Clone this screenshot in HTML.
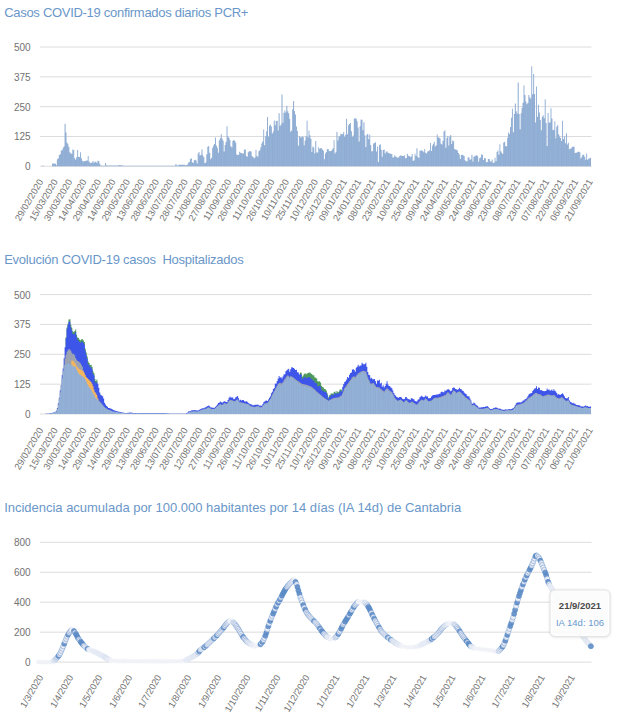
<!DOCTYPE html><html><head><meta charset="utf-8"><title>COVID-19 Cantabria</title>
<style>html,body{margin:0;padding:0;background:#fff;}body{width:621px;height:720px;overflow:hidden;font-family:"Liberation Sans", sans-serif;}svg{display:block;}text{font-family:"Liberation Sans", sans-serif;}</style>
</head><body>
<svg width="621" height="720" viewBox="0 0 621 720">
<rect width="621" height="720" fill="#ffffff"/>
<text x="4.2" y="16.6" font-size="13" fill="#6a97c9" textLength="244.2" lengthAdjust="spacing" xml:space="preserve">Casos COVID-19 confirmados diarios PCR+</text>
<line x1="40" x2="591.5" y1="47.00" y2="47.00" stroke="#dcdcdc" stroke-width="1"/>
<text x="30.6" y="50.90" font-size="10" fill="#727272" text-anchor="end">500</text>
<line x1="40" x2="591.5" y1="76.83" y2="76.83" stroke="#dcdcdc" stroke-width="1"/>
<text x="30.6" y="80.73" font-size="10" fill="#727272" text-anchor="end">375</text>
<line x1="40" x2="591.5" y1="106.65" y2="106.65" stroke="#dcdcdc" stroke-width="1"/>
<text x="30.6" y="110.55" font-size="10" fill="#727272" text-anchor="end">250</text>
<line x1="40" x2="591.5" y1="136.48" y2="136.48" stroke="#dcdcdc" stroke-width="1"/>
<text x="30.6" y="140.38" font-size="10" fill="#727272" text-anchor="end">125</text>
<line x1="40" x2="591.5" y1="166.30" y2="166.30" stroke="#dcdcdc" stroke-width="1"/>
<text x="30.6" y="170.20" font-size="10" fill="#727272" text-anchor="end">0</text>
<path d="M40.50 166.30V166.30H41.46V166.30H42.43V165.35H43.39V166.30H44.36V166.30H45.32V166.30H46.28V166.30H47.25V166.30H48.21V166.30H49.18V166.30H50.14V166.30H51.11V166.17H52.07V163.61H53.03V163.44H54.00V163.44H54.96V163.84H55.93V165.26H56.89V159.26H57.85V158.34H58.82V155.09H59.78V154.32H60.75V150.69H61.71V149.97H62.67V147.72H63.64V146.30H64.60V123.87H65.57V132.49H66.53V142.54H67.49V144.32H68.46V146.93H69.42V152.30H70.39V153.53H71.35V153.70H72.32V149.42H73.28V150.07H74.24V158.21H75.21V159.66H76.17V157.36H77.14V149.90H78.10V156.71H79.06V157.11H80.03V152.32H80.99V158.31H81.96V160.69H82.92V161.50H83.88V161.13H84.85V160.99H85.81V160.57H86.78V160.57H87.74V155.99H88.70V161.49H89.67V163.18H90.63V162.77H91.60V162.46H92.56V161.08H93.53V162.79H94.49V161.80H95.45V161.69H96.42V162.88H97.38V160.68H98.35V161.02H99.31V163.68H100.27V165.42H101.24V165.60H102.20V165.63H103.17V165.80H104.13V165.72H105.09V163.08H106.06V165.52H107.02V165.58H107.99V165.58H108.95V165.58H109.92V165.58H110.88V165.58H111.84V165.58H112.81V165.58H113.77V165.58H114.74V165.58H115.70V165.58H116.66V165.58H117.63V165.56H118.59V165.11H119.56V165.16H120.52V165.20H121.48V165.25H122.45V165.72H123.41V165.77H124.38V165.82H125.34V165.82H126.30V165.82H127.27V165.82H128.23V165.82H129.20V165.82H130.16V165.82H131.13V165.82H132.09V165.82H133.05V165.82H134.02V165.82H134.98V165.82H135.95V165.82H136.91V165.82H137.87V165.82H138.84V165.82H139.80V165.82H140.77V165.82H141.73V165.82H142.69V165.82H143.66V165.82H144.62V165.82H145.59V165.82H146.55V165.82H147.51V165.82H148.48V165.82H149.44V165.82H150.41V165.82H151.37V165.82H152.34V165.82H153.30V165.82H154.26V165.82H155.23V165.82H156.19V165.82H157.16V165.82H158.12V165.82H159.08V165.82H160.05V165.82H161.01V165.82H161.98V165.82H162.94V165.82H163.90V165.82H164.87V165.82H165.83V165.82H166.80V165.82H167.76V165.82H168.73V165.82H169.69V165.82H170.65V165.82H171.62V165.82H172.58V165.82H173.55V165.82H174.51V165.82H175.47V163.95H176.44V165.53H177.40V165.47H178.37V164.78H179.33V164.65H180.29V164.63H181.26V164.63H182.22V164.63H183.19V164.63H184.15V164.75H185.11V165.33H186.08V164.89H187.04V164.49H188.01V162.48H188.97V161.95H189.94V158.89H190.90V158.26H191.86V162.32H192.83V163.02H193.79V160.32H194.76V159.77H195.72V160.42H196.68V163.47H197.65V153.56H198.61V152.04H199.58V155.46H200.54V154.80H201.50V149.38H202.47V155.56H203.43V157.32H204.40V163.34H205.36V162.38H206.32V154.35H207.29V146.73H208.25V145.98H209.22V152.81H210.18V159.18H211.15V157.64H212.11V147.63H213.07V145.59H214.04V144.10H215.00V137.40H215.97V145.62H216.93V147.86H217.89V152.73H218.86V140.26H219.82V138.14H220.79V134.13H221.75V138.78H222.71V140.75H223.68V151.45H224.64V144.94H225.61V141.73H226.57V126.17H227.54V136.51H228.50V137.70H229.46V140.04H230.43V146.29H231.39V147.54H232.36V140.92H233.32V139.90H234.28V140.66H235.25V142.57H236.21V154.39H237.18V154.99H238.14V154.65H239.10V151.78H240.07V152.85H241.03V153.02H242.00V153.57H242.96V153.40H243.92V149.51H244.89V149.48H245.85V155.92H246.82V156.70H247.78V152.30H248.75V151.34H249.71V151.27H250.67V151.45H251.64V155.99H252.60V157.03H253.57V158.46H254.53V157.43H255.49V149.66H256.46V155.67H257.42V156.67H258.39V151.25H259.35V150.13H260.31V147.37H261.28V143.38H262.24V141.48H263.21V129.60H264.17V145.33H265.13V136.30H266.10V131.28H267.06V116.92H268.03V136.39H268.99V125.68H269.96V124.45H270.92V126.46H271.88V133.52H272.85V131.55H273.81V120.47H274.78V125.28H275.74V121.08H276.70V120.85H277.67V130.42H278.63V113.24H279.60V126.07H280.56V124.62H281.52V94.44H282.49V122.80H283.45V112.71H284.42V110.31H285.38V112.58H286.35V105.64H287.31V111.16H288.27V113.31H289.24V118.63H290.20V131.70H291.17V130.41H292.13V109.24H293.09V100.95H294.06V111.00H295.02V114.46H295.99V126.56H296.95V130.96H297.91V145.75H298.88V136.12H299.84V137.21H300.81V137.56H301.77V136.20H302.73V137.02H303.70V145.24H304.66V140.44H305.63V136.32H306.59V120.75H307.56V137.56H308.52V130.51H309.48V135.32H310.45V138.64H311.41V151.91H312.38V146.49H313.34V147.59H314.30V153.60H315.27V140.97H316.23V152.52H317.20V152.41H318.16V147.34H319.12V148.83H320.09V148.30H321.05V148.25H322.02V149.43H322.98V150.81H323.94V159.19H324.91V153.39H325.87V151.99H326.84V149.34H327.80V149.02H328.77V150.91H329.73V151.21H330.69V150.97H331.66V149.72H332.62V148.22H333.59V140.33H334.55V153.42H335.51V151.65H336.48V131.74H337.44V140.53H338.41V136.78H339.37V135.77H340.33V133.73H341.30V134.20H342.26V134.12H343.23V132.12H344.19V136.66H345.15V134.75H346.12V118.75H347.08V134.13H348.05V125.24H349.01V123.93H349.98V123.12H350.94V131.37H351.90V136.76H352.87V135.41H353.83V118.56H354.80V118.23H355.76V118.69H356.72V121.20H357.69V127.54H358.65V141.58H359.62V126.27H360.58V119.56H361.54V119.67H362.51V130.14H363.47V122.19H364.44V135.60H365.40V146.91H366.37V134.87H367.33V133.71H368.29V139.20H369.26V134.44H370.22V144.96H371.19V151.17H372.15V151.24H373.11V143.62H374.08V142.88H375.04V142.13H376.01V151.54H376.97V146.63H377.93V162.11H378.90V145.34H379.86V144.20H380.83V149.72H381.79V156.85H382.75V150.02H383.72V149.52H384.68V153.56H385.65V151.59H386.61V151.43H387.58V152.84H388.54V153.06H389.50V153.65H390.47V153.65H391.43V154.10H392.40V157.58H393.36V157.26H394.32V155.33H395.29V156.73H396.25V157.05H397.22V157.66H398.18V157.43H399.14V156.04H400.11V155.43H401.07V155.39H402.04V155.99H403.00V155.92H403.96V155.36H404.93V158.17H405.89V158.09H406.86V153.68H407.82V155.68H408.79V156.11H409.75V156.87H410.71V156.75H411.68V153.94H412.64V161.05H413.61V160.17H414.57V153.79H415.53V155.99H416.50V148.23H417.46V156.94H418.43V157.95H419.39V150.85H420.35V150.55H421.32V150.55H422.28V150.85H423.25V152.19H424.21V149.11H425.18V152.86H426.14V153.40H427.10V151.40H428.07V151.13H429.03V150.27H430.00V142.99H430.96V150.95H431.92V145.72H432.89V143.86H433.85V141.77H434.82V146.43H435.78V145.23H436.74V134.52H437.71V137.33H438.67V137.78H439.64V138.54H440.60V143.72H441.56V144.61H442.53V140.74H443.49V131.42H444.46V130.15H445.42V147.70H446.39V137.94H447.35V136.03H448.31V145.44H449.28V136.45H450.24V135.12H451.21V144.02H452.17V140.61H453.13V141.18H454.10V148.90H455.06V149.51H456.03V149.71H456.99V150.50H457.95V153.12H458.92V154.49H459.88V159.06H460.85V155.05H461.81V154.69H462.77V155.26H463.74V156.09H464.70V160.17H465.67V161.58H466.63V161.30H467.60V157.56H468.56V157.26H469.52V159.87H470.49V159.18H471.45V154.70H472.42V161.50H473.38V157.10H474.34V156.00H475.31V155.85H476.27V155.12H477.24V156.29H478.20V161.69H479.16V158.33H480.13V157.48H481.09V154.60H482.06V154.75H483.02V160.09H483.99V158.05H484.95V158.19H485.91V162.14H486.88V162.00H487.84V159.01H488.81V158.98H489.77V161.47H490.73V161.46H491.70V159.45H492.66V162.96H493.63V162.51H494.59V157.79H495.55V161.35H496.52V152.03H497.48V150.29H498.45V154.80H499.41V144.14H500.37V151.37H501.34V152.82H502.30V153.99H503.27V142.41H504.23V141.77H505.20V146.24H506.16V146.21H507.12V137.66H508.09V132.38H509.05V133.96H510.02V127.08H510.98V117.72H511.94V108.86H512.91V132.36H513.87V114.04H514.84V103.41H515.80V111.20H516.76V113.52H517.73V82.51H518.69V113.91H519.66V129.18H520.62V113.16H521.58V107.71H522.55V102.73H523.51V85.49H524.48V95.09H525.44V101.51H526.41V104.35H527.37V103.08H528.33V95.12H529.30V97.26H530.26V98.86H531.23V66.19H532.19V94.16H533.15V73.98H534.12V93.99H535.08V122.51H536.05V86.46H537.01V116.79H537.97V104.70H538.94V112.39H539.90V119.90H540.87V130.36H541.83V116.78H542.80V115.16H543.76V118.34H544.72V99.35H545.69V123.09H546.65V146.11H547.62V112.92H548.58V122.86H549.54V122.20H550.51V108.30H551.47V118.41H552.44V130.16H553.40V129.80H554.36V121.22H555.33V138.35H556.29V126.71H557.26V125.10H558.22V134.33H559.18V136.47H560.15V138.01H561.11V141.12H562.08V120.64H563.04V138.89H564.01V136.34H564.97V143.21H565.93V133.14H566.90V144.57H567.86V142.77H568.83V149.25H569.79V148.73H570.75V148.23H571.72V146.85H572.68V146.73H573.65V146.73H574.61V152.91H575.57V152.83H576.54V152.62H577.50V151.82H578.47V151.75H579.43V152.26H580.39V158.38H581.36V156.84H582.32V154.73H583.29V154.69H584.25V156.81H585.22V159.66H586.18V153.50H587.14V159.67H588.11V158.72H589.07V158.33H590.04V157.71H591.00V166.30Z" fill="#94b1d7"/>
<path d="M52.55 166.30V164.11M55.44 166.30V164.34M57.37 166.30V159.76M60.26 166.30V154.82M62.19 166.30V150.47M65.08 166.30V124.37M67.01 166.30V143.04M69.90 166.30V152.80M71.83 166.30V154.20M74.73 166.30V158.71M76.65 166.30V157.86M79.55 166.30V157.61M81.47 166.30V158.81M84.37 166.30V161.63M86.29 166.30V161.07M89.19 166.30V161.99M91.12 166.30V163.27M94.01 166.30V163.29M95.94 166.30V162.19M98.83 166.30V161.52M105.58 166.30V163.58M175.96 166.30V164.45M180.78 166.30V165.13M182.70 166.30V165.13M187.52 166.30V164.99M190.42 166.30V159.39M192.35 166.30V162.82M195.24 166.30V160.27M197.17 166.30V163.97M200.06 166.30V155.96M201.99 166.30V149.88M204.88 166.30V163.84M206.81 166.30V154.85M209.70 166.30V153.31M211.63 166.30V158.14M214.52 166.30V144.60M216.45 166.30V146.12M219.34 166.30V140.76M221.27 166.30V134.63M224.16 166.30V151.95M226.09 166.30V142.23M228.98 166.30V138.20M230.91 166.30V146.79M233.80 166.30V140.40M235.73 166.30V143.07M238.62 166.30V155.15M240.55 166.30V153.35M243.44 166.30V153.90M245.37 166.30V149.98M248.26 166.30V152.80M250.19 166.30V151.77M253.08 166.30V157.53M255.01 166.30V157.93M257.90 166.30V157.17M259.83 166.30V150.63M262.72 166.30V141.98M264.65 166.30V145.83M267.55 166.30V117.42M269.47 166.30V126.18M272.37 166.30V134.02M274.29 166.30V120.97M277.19 166.30V121.35M279.11 166.30V113.74M282.01 166.30V94.94M283.93 166.30V113.21M286.83 166.30V106.14M288.76 166.30V113.81M291.65 166.30V130.91M293.58 166.30V101.45M296.47 166.30V127.06M298.40 166.30V146.25M301.29 166.30V138.06M303.22 166.30V137.52M306.11 166.30V136.82M308.04 166.30V138.06M310.93 166.30V139.14M312.86 166.30V146.99M315.75 166.30V141.47M317.68 166.30V152.91M320.57 166.30V148.80M322.50 166.30V149.93M325.39 166.30V153.89M327.32 166.30V149.84M330.21 166.30V151.71M332.14 166.30V150.22M335.03 166.30V153.92M336.96 166.30V132.24M339.85 166.30V136.27M341.78 166.30V134.70M344.67 166.30V137.16M346.60 166.30V119.25M349.49 166.30V124.43M351.42 166.30V131.87M354.31 166.30V119.06M356.24 166.30V119.19M359.13 166.30V142.08M361.06 166.30V120.06M363.95 166.30V122.69M365.88 166.30V147.41M368.78 166.30V139.70M370.70 166.30V145.46M373.60 166.30V144.12M375.52 166.30V142.63M378.42 166.30V162.61M380.34 166.30V144.70M383.24 166.30V150.52M385.17 166.30V154.06M388.06 166.30V153.34M389.99 166.30V154.15M392.88 166.30V158.08M394.81 166.30V155.83M397.70 166.30V158.16M399.63 166.30V156.54M402.52 166.30V156.49M404.45 166.30V155.86M407.34 166.30V154.18M409.27 166.30V156.61M412.16 166.30V154.44M414.09 166.30V160.67M416.98 166.30V148.73M418.91 166.30V158.45M421.80 166.30V151.05M423.73 166.30V152.69M426.62 166.30V153.90M428.55 166.30V151.63M431.44 166.30V151.45M433.37 166.30V144.36M436.26 166.30V145.73M438.19 166.30V137.83M441.08 166.30V144.22M443.01 166.30V141.24M445.90 166.30V148.20M447.83 166.30V136.53M450.72 166.30V135.62M452.65 166.30V141.11M455.54 166.30V150.01M457.47 166.30V151.00M460.36 166.30V159.56M462.29 166.30V155.19M465.19 166.30V160.67M467.11 166.30V161.80M470.01 166.30V160.37M471.93 166.30V155.20M474.83 166.30V156.50M476.75 166.30V155.62M479.65 166.30V158.83M481.57 166.30V155.10M484.47 166.30V158.55M486.40 166.30V162.64M489.29 166.30V159.48M491.22 166.30V161.96M494.11 166.30V163.01M496.04 166.30V161.85M498.93 166.30V155.30M500.86 166.30V151.87M503.75 166.30V142.91M505.68 166.30V146.74M508.57 166.30V132.88M510.50 166.30V127.58M513.39 166.30V132.86M515.32 166.30V103.91M518.21 166.30V83.01M520.14 166.30V129.68M523.03 166.30V103.23M524.96 166.30V95.59M527.85 166.30V103.58M529.78 166.30V97.76M532.67 166.30V94.66M534.60 166.30V94.49M537.49 166.30V117.29M539.42 166.30V112.89M542.31 166.30V117.28M544.24 166.30V118.84M547.13 166.30V146.61M549.06 166.30V123.36M551.95 166.30V118.91M553.88 166.30V130.30M556.77 166.30V127.21M558.70 166.30V134.83M561.60 166.30V141.62M563.52 166.30V139.39M566.42 166.30V133.64M568.34 166.30V143.27M571.24 166.30V148.73M573.16 166.30V147.23M576.06 166.30V153.33M577.98 166.30V152.32M580.88 166.30V158.88M582.81 166.30V155.23M585.70 166.30V160.16M587.63 166.30V160.17M590.52 166.30V158.21" stroke="#7c93b8" stroke-opacity="0.30" stroke-width="0.5" fill="none"/>
<text transform="translate(43.58,181.60) rotate(-59.5)" font-size="9.3" fill="#727272" text-anchor="end">29/02/2020</text>
<text transform="translate(58.04,181.60) rotate(-59.5)" font-size="9.3" fill="#727272" text-anchor="end">15/03/2020</text>
<text transform="translate(72.50,181.60) rotate(-59.5)" font-size="9.3" fill="#727272" text-anchor="end">30/03/2020</text>
<text transform="translate(86.97,181.60) rotate(-59.5)" font-size="9.3" fill="#727272" text-anchor="end">14/04/2020</text>
<text transform="translate(101.43,181.60) rotate(-59.5)" font-size="9.3" fill="#727272" text-anchor="end">29/04/2020</text>
<text transform="translate(115.89,181.60) rotate(-59.5)" font-size="9.3" fill="#727272" text-anchor="end">14/05/2020</text>
<text transform="translate(130.35,181.60) rotate(-59.5)" font-size="9.3" fill="#727272" text-anchor="end">29/05/2020</text>
<text transform="translate(144.81,181.60) rotate(-59.5)" font-size="9.3" fill="#727272" text-anchor="end">13/06/2020</text>
<text transform="translate(159.27,181.60) rotate(-59.5)" font-size="9.3" fill="#727272" text-anchor="end">28/06/2020</text>
<text transform="translate(173.74,181.60) rotate(-59.5)" font-size="9.3" fill="#727272" text-anchor="end">13/07/2020</text>
<text transform="translate(188.20,181.60) rotate(-59.5)" font-size="9.3" fill="#727272" text-anchor="end">28/07/2020</text>
<text transform="translate(202.66,181.60) rotate(-59.5)" font-size="9.3" fill="#727272" text-anchor="end">12/08/2020</text>
<text transform="translate(217.12,181.60) rotate(-59.5)" font-size="9.3" fill="#727272" text-anchor="end">27/08/2020</text>
<text transform="translate(231.58,181.60) rotate(-59.5)" font-size="9.3" fill="#727272" text-anchor="end">11/09/2020</text>
<text transform="translate(246.04,181.60) rotate(-59.5)" font-size="9.3" fill="#727272" text-anchor="end">26/09/2020</text>
<text transform="translate(260.50,181.60) rotate(-59.5)" font-size="9.3" fill="#727272" text-anchor="end">11/10/2020</text>
<text transform="translate(274.97,181.60) rotate(-59.5)" font-size="9.3" fill="#727272" text-anchor="end">26/10/2020</text>
<text transform="translate(289.43,181.60) rotate(-59.5)" font-size="9.3" fill="#727272" text-anchor="end">10/11/2020</text>
<text transform="translate(303.89,181.60) rotate(-59.5)" font-size="9.3" fill="#727272" text-anchor="end">25/11/2020</text>
<text transform="translate(318.35,181.60) rotate(-59.5)" font-size="9.3" fill="#727272" text-anchor="end">10/12/2020</text>
<text transform="translate(332.81,181.60) rotate(-59.5)" font-size="9.3" fill="#727272" text-anchor="end">25/12/2020</text>
<text transform="translate(347.27,181.60) rotate(-59.5)" font-size="9.3" fill="#727272" text-anchor="end">09/01/2021</text>
<text transform="translate(361.73,181.60) rotate(-59.5)" font-size="9.3" fill="#727272" text-anchor="end">24/01/2021</text>
<text transform="translate(376.20,181.60) rotate(-59.5)" font-size="9.3" fill="#727272" text-anchor="end">08/02/2021</text>
<text transform="translate(390.66,181.60) rotate(-59.5)" font-size="9.3" fill="#727272" text-anchor="end">23/02/2021</text>
<text transform="translate(405.12,181.60) rotate(-59.5)" font-size="9.3" fill="#727272" text-anchor="end">10/03/2021</text>
<text transform="translate(419.58,181.60) rotate(-59.5)" font-size="9.3" fill="#727272" text-anchor="end">25/03/2021</text>
<text transform="translate(434.04,181.60) rotate(-59.5)" font-size="9.3" fill="#727272" text-anchor="end">09/04/2021</text>
<text transform="translate(448.50,181.60) rotate(-59.5)" font-size="9.3" fill="#727272" text-anchor="end">24/04/2021</text>
<text transform="translate(462.96,181.60) rotate(-59.5)" font-size="9.3" fill="#727272" text-anchor="end">09/05/2021</text>
<text transform="translate(477.43,181.60) rotate(-59.5)" font-size="9.3" fill="#727272" text-anchor="end">24/05/2021</text>
<text transform="translate(491.89,181.60) rotate(-59.5)" font-size="9.3" fill="#727272" text-anchor="end">08/06/2021</text>
<text transform="translate(506.35,181.60) rotate(-59.5)" font-size="9.3" fill="#727272" text-anchor="end">23/06/2021</text>
<text transform="translate(520.81,181.60) rotate(-59.5)" font-size="9.3" fill="#727272" text-anchor="end">08/07/2021</text>
<text transform="translate(535.27,181.60) rotate(-59.5)" font-size="9.3" fill="#727272" text-anchor="end">23/07/2021</text>
<text transform="translate(549.73,181.60) rotate(-59.5)" font-size="9.3" fill="#727272" text-anchor="end">07/08/2021</text>
<text transform="translate(564.20,181.60) rotate(-59.5)" font-size="9.3" fill="#727272" text-anchor="end">22/08/2021</text>
<text transform="translate(578.66,181.60) rotate(-59.5)" font-size="9.3" fill="#727272" text-anchor="end">06/09/2021</text>
<text transform="translate(593.12,181.60) rotate(-59.5)" font-size="9.3" fill="#727272" text-anchor="end">21/09/2021</text>
<text x="4.2" y="264.3" font-size="13" fill="#6a97c9" textLength="239.5" lengthAdjust="spacing" xml:space="preserve">Evolución COVID-19 casos  Hospitalizados</text>
<line x1="40" x2="591.5" y1="294.60" y2="294.60" stroke="#dcdcdc" stroke-width="1"/>
<text x="30.6" y="298.50" font-size="10" fill="#727272" text-anchor="end">500</text>
<line x1="40" x2="591.5" y1="324.45" y2="324.45" stroke="#dcdcdc" stroke-width="1"/>
<text x="30.6" y="328.35" font-size="10" fill="#727272" text-anchor="end">375</text>
<line x1="40" x2="591.5" y1="354.30" y2="354.30" stroke="#dcdcdc" stroke-width="1"/>
<text x="30.6" y="358.20" font-size="10" fill="#727272" text-anchor="end">250</text>
<line x1="40" x2="591.5" y1="384.15" y2="384.15" stroke="#dcdcdc" stroke-width="1"/>
<text x="30.6" y="388.05" font-size="10" fill="#727272" text-anchor="end">125</text>
<line x1="40" x2="591.5" y1="414.00" y2="414.00" stroke="#dcdcdc" stroke-width="1"/>
<text x="30.6" y="417.90" font-size="10" fill="#727272" text-anchor="end">0</text>
<path d="M65.57 414.00V337.14H66.53V414.00ZM66.53 414.00V327.46H67.49V414.00ZM67.49 414.00V323.66H68.46V414.00ZM68.46 414.00V319.54H69.42V414.00ZM69.42 414.00V319.14H70.39V414.00ZM70.39 414.00V324.86H71.35V414.00ZM71.35 414.00V327.82H72.32V414.00ZM72.32 414.00V331.56H73.28V414.00ZM73.28 414.00V331.97H74.24V414.00ZM74.24 414.00V331.06H75.21V414.00ZM75.21 414.00V329.57H76.17V414.00ZM76.17 414.00V334.65H77.14V414.00ZM77.14 414.00V337.40H78.10V414.00ZM78.10 414.00V338.06H79.06V414.00ZM79.06 414.00V339.52H80.03V414.00ZM80.03 414.00V340.35H80.99V414.00ZM80.99 414.00V339.32H81.96V414.00ZM81.96 414.00V339.17H82.92V414.00ZM82.92 414.00V340.26H83.88V414.00ZM83.88 414.00V342.11H84.85V414.00ZM84.85 414.00V348.70H85.81V414.00ZM85.81 414.00V352.61H86.78V414.00ZM86.78 414.00V356.48H87.74V414.00ZM87.74 414.00V361.49H88.70V414.00ZM88.70 414.00V362.92H89.67V414.00ZM89.67 414.00V364.98H90.63V414.00ZM90.63 414.00V364.79H91.60V414.00ZM91.60 414.00V366.69H92.56V414.00ZM92.56 414.00V371.28H93.53V414.00ZM93.53 414.00V373.16H94.49V414.00ZM94.49 414.00V379.01H95.45V414.00ZM95.45 414.00V381.11H96.42V414.00ZM96.42 414.00V379.59H97.38V414.00ZM299.84 414.00V372.45H300.81V414.00ZM300.81 414.00V372.84H301.77V414.00ZM301.77 414.00V376.67H302.73V414.00ZM302.73 414.00V375.49H303.70V414.00ZM303.70 414.00V374.03H304.66V414.00ZM304.66 414.00V373.29H305.63V414.00ZM305.63 414.00V374.33H306.59V414.00ZM306.59 414.00V373.51H307.56V414.00ZM307.56 414.00V373.12H308.52V414.00ZM308.52 414.00V372.41H309.48V414.00ZM309.48 414.00V372.39H310.45V414.00ZM310.45 414.00V373.57H311.41V414.00ZM311.41 414.00V373.91H312.38V414.00ZM312.38 414.00V375.34H313.34V414.00ZM313.34 414.00V375.28H314.30V414.00ZM314.30 414.00V377.22H315.27V414.00ZM315.27 414.00V377.66H316.23V414.00ZM316.23 414.00V378.43H317.20V414.00ZM317.20 414.00V381.33H318.16V414.00ZM318.16 414.00V381.43H319.12V414.00ZM319.12 414.00V381.28H320.09V414.00ZM320.09 414.00V382.55H321.05V414.00ZM321.05 414.00V385.84H322.02V414.00ZM322.02 414.00V387.12H322.98V414.00ZM322.98 414.00V387.45H323.94V414.00ZM323.94 414.00V389.05H324.91V414.00ZM324.91 414.00V389.23H325.87V414.00ZM325.87 414.00V390.46H326.84V414.00ZM326.84 414.00V393.32H327.80V414.00ZM327.80 414.00V397.47H328.77V414.00ZM328.77 414.00V395.38H329.73V414.00ZM329.73 414.00V394.86H330.69V414.00ZM330.69 414.00V393.41H331.66V414.00ZM331.66 414.00V393.19H332.62V414.00ZM332.62 414.00V393.93H333.59V414.00ZM333.59 414.00V392.08H334.55V414.00ZM334.55 414.00V391.58H335.51V414.00ZM335.51 414.00V392.88H336.48V414.00ZM336.48 414.00V391.12H337.44V414.00ZM337.44 414.00V392.18H338.41V414.00ZM338.41 414.00V391.82H339.37V414.00ZM339.37 414.00V389.80H340.33V414.00ZM340.33 414.00V389.26H341.30V414.00ZM341.30 414.00V390.02H342.26V414.00Z" fill="#4e9a5c"/>
<path d="M45.32 414.00V413.86H46.28V414.00ZM46.28 414.00V413.79H47.25V414.00ZM47.25 414.00V413.70H48.21V414.00ZM48.21 414.00V413.64H49.18V414.00ZM49.18 414.00V413.55H50.14V414.00ZM50.14 414.00V413.37H51.11V414.00ZM51.11 414.00V413.11H52.07V414.00ZM52.07 414.00V412.80H53.03V414.00ZM53.03 414.00V412.47H54.00V414.00ZM54.00 414.00V412.31H54.96V414.00ZM54.96 414.00V411.73H55.93V414.00ZM55.93 414.00V410.70H56.89V414.00ZM56.89 414.00V408.01H57.85V414.00ZM57.85 414.00V403.20H58.82V414.00ZM58.82 414.00V397.76H59.78V414.00ZM59.78 414.00V390.31H60.75V414.00ZM60.75 414.00V385.10H61.71V414.00ZM61.71 414.00V374.95H62.67V414.00ZM62.67 414.00V368.52H63.64V414.00ZM63.64 414.00V358.17H64.60V414.00ZM64.60 414.00V347.16H65.57V414.00ZM65.57 414.00V338.33H66.53V414.00ZM66.53 414.00V328.65H67.49V414.00ZM67.49 414.00V324.86H68.46V414.00ZM68.46 414.00V321.93H69.42V414.00ZM69.42 414.00V321.52H70.39V414.00ZM70.39 414.00V327.25H71.35V414.00ZM71.35 414.00V330.20H72.32V414.00ZM72.32 414.00V333.95H73.28V414.00ZM73.28 414.00V334.36H74.24V414.00ZM74.24 414.00V333.45H75.21V414.00ZM75.21 414.00V331.95H76.17V414.00ZM76.17 414.00V337.03H77.14V414.00ZM77.14 414.00V339.78H78.10V414.00ZM78.10 414.00V340.45H79.06V414.00ZM79.06 414.00V341.91H80.03V414.00ZM80.03 414.00V342.74H80.99V414.00ZM80.99 414.00V341.70H81.96V414.00ZM81.96 414.00V341.56H82.92V414.00ZM82.92 414.00V342.65H83.88V414.00ZM83.88 414.00V344.50H84.85V414.00ZM84.85 414.00V351.09H85.81V414.00ZM85.81 414.00V355.00H86.78V414.00ZM86.78 414.00V358.87H87.74V414.00ZM87.74 414.00V363.88H88.70V414.00ZM88.70 414.00V365.30H89.67V414.00ZM89.67 414.00V367.37H90.63V414.00ZM90.63 414.00V367.18H91.60V414.00ZM91.60 414.00V369.08H92.56V414.00ZM92.56 414.00V373.67H93.53V414.00ZM93.53 414.00V375.55H94.49V414.00ZM94.49 414.00V381.40H95.45V414.00ZM95.45 414.00V383.49H96.42V414.00ZM96.42 414.00V381.98H97.38V414.00ZM97.38 414.00V383.71H98.35V414.00ZM98.35 414.00V387.81H99.31V414.00ZM99.31 414.00V392.57H100.27V414.00ZM100.27 414.00V394.63H101.24V414.00ZM101.24 414.00V395.58H102.20V414.00ZM102.20 414.00V396.25H103.17V414.00ZM103.17 414.00V398.54H104.13V414.00ZM104.13 414.00V402.70H105.09V414.00ZM105.09 414.00V404.53H106.06V414.00ZM106.06 414.00V405.94H107.02V414.00ZM107.02 414.00V406.70H107.99V414.00ZM107.99 414.00V407.92H108.95V414.00ZM108.95 414.00V407.99H109.92V414.00ZM109.92 414.00V408.50H110.88V414.00ZM110.88 414.00V408.81H111.84V414.00ZM111.84 414.00V409.35H112.81V414.00ZM112.81 414.00V410.00H113.77V414.00ZM113.77 414.00V410.37H114.74V414.00ZM114.74 414.00V410.65H115.70V414.00ZM115.70 414.00V411.09H116.66V414.00ZM116.66 414.00V411.18H117.63V414.00ZM117.63 414.00V411.49H118.59V414.00ZM118.59 414.00V411.72H119.56V414.00ZM119.56 414.00V411.95H120.52V414.00ZM120.52 414.00V412.04H121.48V414.00ZM121.48 414.00V412.38H122.45V414.00ZM122.45 414.00V412.59H123.41V414.00ZM123.41 414.00V412.79H124.38V414.00ZM124.38 414.00V412.97H125.34V414.00ZM125.34 414.00V413.01H126.30V414.00ZM126.30 414.00V412.88H127.27V414.00ZM127.27 414.00V412.78H128.23V414.00ZM128.23 414.00V412.64H129.20V414.00ZM129.20 414.00V412.55H130.16V414.00ZM130.16 414.00V412.58H131.13V414.00ZM131.13 414.00V412.75H132.09V414.00ZM132.09 414.00V412.82H133.05V414.00ZM133.05 414.00V412.92H134.02V414.00ZM134.02 414.00V412.96H134.98V414.00ZM134.98 414.00V413.01H135.95V414.00ZM135.95 414.00V413.11H136.91V414.00ZM136.91 414.00V413.13H137.87V414.00ZM137.87 414.00V413.15H138.84V414.00ZM138.84 414.00V413.17H139.80V414.00ZM139.80 414.00V413.17H140.77V414.00ZM140.77 414.00V413.16H141.73V414.00ZM141.73 414.00V413.19H142.69V414.00ZM142.69 414.00V413.22H143.66V414.00ZM143.66 414.00V413.19H144.62V414.00ZM144.62 414.00V413.20H145.59V414.00ZM145.59 414.00V413.19H146.55V414.00ZM146.55 414.00V413.16H147.51V414.00ZM147.51 414.00V413.19H148.48V414.00ZM148.48 414.00V413.21H149.44V414.00ZM149.44 414.00V413.20H150.41V414.00ZM150.41 414.00V413.20H151.37V414.00ZM151.37 414.00V413.26H152.34V414.00ZM152.34 414.00V413.19H153.30V414.00ZM153.30 414.00V413.21H154.26V414.00ZM154.26 414.00V413.21H155.23V414.00ZM155.23 414.00V413.22H156.19V414.00ZM156.19 414.00V413.25H157.16V414.00ZM157.16 414.00V413.26H158.12V414.00ZM158.12 414.00V413.28H159.08V414.00ZM159.08 414.00V413.25H160.05V414.00ZM160.05 414.00V413.29H161.01V414.00ZM161.01 414.00V413.30H161.98V414.00ZM161.98 414.00V413.29H162.94V414.00ZM162.94 414.00V413.30H163.90V414.00ZM163.90 414.00V413.29H164.87V414.00ZM164.87 414.00V413.35H165.83V414.00ZM165.83 414.00V413.44H166.80V414.00ZM166.80 414.00V413.52H167.76V414.00ZM167.76 414.00V413.61H168.73V414.00ZM168.73 414.00V413.69H169.69V414.00ZM169.69 414.00V413.77H170.65V414.00ZM170.65 414.00V413.75H171.62V414.00ZM171.62 414.00V413.76H172.58V414.00ZM172.58 414.00V413.77H173.55V414.00ZM173.55 414.00V413.77H174.51V414.00ZM174.51 414.00V413.76H175.47V414.00ZM175.47 414.00V413.76H176.44V414.00ZM176.44 414.00V413.77H177.40V414.00ZM177.40 414.00V413.75H178.37V414.00ZM178.37 414.00V413.75H179.33V414.00ZM179.33 414.00V413.76H180.29V414.00ZM180.29 414.00V413.76H181.26V414.00ZM181.26 414.00V413.77H182.22V414.00ZM182.22 414.00V413.77H183.19V414.00ZM183.19 414.00V413.76H184.15V414.00ZM184.15 414.00V413.77H185.11V414.00ZM185.11 414.00V413.75H186.08V414.00ZM186.08 414.00V413.26H187.04V414.00ZM187.04 414.00V412.42H188.01V414.00ZM188.01 414.00V411.43H188.97V414.00ZM188.97 414.00V411.16H189.94V414.00ZM189.94 414.00V410.91H190.90V414.00ZM190.90 414.00V410.40H191.86V414.00ZM191.86 414.00V410.37H192.83V414.00ZM192.83 414.00V410.22H193.79V414.00ZM193.79 414.00V410.09H194.76V414.00ZM194.76 414.00V410.17H195.72V414.00ZM195.72 414.00V410.27H196.68V414.00ZM196.68 414.00V410.47H197.65V414.00ZM197.65 414.00V410.40H198.61V414.00ZM198.61 414.00V410.01H199.58V414.00ZM199.58 414.00V409.26H200.54V414.00ZM200.54 414.00V408.88H201.50V414.00ZM201.50 414.00V408.31H202.47V414.00ZM202.47 414.00V408.32H203.43V414.00ZM203.43 414.00V408.16H204.40V414.00ZM204.40 414.00V407.56H205.36V414.00ZM205.36 414.00V407.14H206.32V414.00ZM206.32 414.00V406.57H207.29V414.00ZM207.29 414.00V405.95H208.25V414.00ZM208.25 414.00V405.47H209.22V414.00ZM209.22 414.00V406.18H210.18V414.00ZM210.18 414.00V407.19H211.15V414.00ZM211.15 414.00V407.54H212.11V414.00ZM212.11 414.00V407.65H213.07V414.00ZM213.07 414.00V407.86H214.04V414.00ZM214.04 414.00V407.74H215.00V414.00ZM215.00 414.00V406.65H215.97V414.00ZM215.97 414.00V405.73H216.93V414.00ZM216.93 414.00V404.39H217.89V414.00ZM217.89 414.00V403.07H218.86V414.00ZM218.86 414.00V402.58H219.82V414.00ZM219.82 414.00V401.55H220.79V414.00ZM220.79 414.00V402.34H221.75V414.00ZM221.75 414.00V402.70H222.71V414.00ZM222.71 414.00V402.08H223.68V414.00ZM223.68 414.00V401.28H224.64V414.00ZM224.64 414.00V401.57H225.61V414.00ZM225.61 414.00V401.91H226.57V414.00ZM226.57 414.00V402.10H227.54V414.00ZM227.54 414.00V399.97H228.50V414.00ZM228.50 414.00V397.94H229.46V414.00ZM229.46 414.00V396.48H230.43V414.00ZM230.43 414.00V397.41H231.39V414.00ZM231.39 414.00V397.45H232.36V414.00ZM232.36 414.00V397.54H233.32V414.00ZM233.32 414.00V399.15H234.28V414.00ZM234.28 414.00V398.65H235.25V414.00ZM235.25 414.00V397.37H236.21V414.00ZM236.21 414.00V396.67H237.18V414.00ZM237.18 414.00V396.00H238.14V414.00ZM238.14 414.00V398.29H239.10V414.00ZM239.10 414.00V400.38H240.07V414.00ZM240.07 414.00V399.68H241.03V414.00ZM241.03 414.00V400.47H242.00V414.00ZM242.00 414.00V400.01H242.96V414.00ZM242.96 414.00V400.11H243.92V414.00ZM243.92 414.00V401.18H244.89V414.00ZM244.89 414.00V401.49H245.85V414.00ZM245.85 414.00V401.13H246.82V414.00ZM246.82 414.00V401.73H247.78V414.00ZM247.78 414.00V402.74H248.75V414.00ZM248.75 414.00V403.58H249.71V414.00ZM249.71 414.00V404.35H250.67V414.00ZM250.67 414.00V404.35H251.64V414.00ZM251.64 414.00V404.68H252.60V414.00ZM252.60 414.00V405.50H253.57V414.00ZM253.57 414.00V405.11H254.53V414.00ZM254.53 414.00V404.72H255.49V414.00ZM255.49 414.00V404.75H256.46V414.00ZM256.46 414.00V404.78H257.42V414.00ZM257.42 414.00V404.49H258.39V414.00ZM258.39 414.00V405.28H259.35V414.00ZM259.35 414.00V405.78H260.31V414.00ZM260.31 414.00V405.39H261.28V414.00ZM261.28 414.00V405.73H262.24V414.00ZM262.24 414.00V404.24H263.21V414.00ZM263.21 414.00V402.19H264.17V414.00ZM264.17 414.00V401.40H265.13V414.00ZM265.13 414.00V400.68H266.10V414.00ZM266.10 414.00V400.58H267.06V414.00ZM267.06 414.00V401.01H268.03V414.00ZM268.03 414.00V399.41H268.99V414.00ZM268.99 414.00V397.79H269.96V414.00ZM269.96 414.00V396.24H270.92V414.00ZM270.92 414.00V393.28H271.88V414.00ZM271.88 414.00V391.71H272.85V414.00ZM272.85 414.00V389.10H273.81V414.00ZM273.81 414.00V387.92H274.78V414.00ZM274.78 414.00V383.78H275.74V414.00ZM275.74 414.00V383.38H276.70V414.00ZM276.70 414.00V381.00H277.67V414.00ZM277.67 414.00V378.57H278.63V414.00ZM278.63 414.00V375.89H279.60V414.00ZM279.60 414.00V377.84H280.56V414.00ZM280.56 414.00V376.97H281.52V414.00ZM281.52 414.00V378.44H282.49V414.00ZM282.49 414.00V376.45H283.45V414.00ZM283.45 414.00V374.57H284.42V414.00ZM284.42 414.00V374.13H285.38V414.00ZM285.38 414.00V371.26H286.35V414.00ZM286.35 414.00V370.33H287.31V414.00ZM287.31 414.00V369.48H288.27V414.00ZM288.27 414.00V368.78H289.24V414.00ZM289.24 414.00V371.76H290.20V414.00ZM290.20 414.00V369.32H291.17V414.00ZM291.17 414.00V367.23H292.13V414.00ZM292.13 414.00V367.48H293.09V414.00ZM293.09 414.00V368.04H294.06V414.00ZM294.06 414.00V368.82H295.02V414.00ZM295.02 414.00V369.95H295.99V414.00ZM295.99 414.00V369.78H296.95V414.00ZM296.95 414.00V372.33H297.91V414.00ZM297.91 414.00V372.41H298.88V414.00ZM298.88 414.00V374.48H299.84V414.00ZM299.84 414.00V374.02H300.81V414.00ZM300.81 414.00V374.82H301.77V414.00ZM301.77 414.00V379.06H302.73V414.00ZM302.73 414.00V378.27H303.70V414.00ZM303.70 414.00V377.19H304.66V414.00ZM304.66 414.00V376.81H305.63V414.00ZM305.63 414.00V378.18H306.59V414.00ZM306.59 414.00V377.66H307.56V414.00ZM307.56 414.00V377.55H308.52V414.00ZM308.52 414.00V377.08H309.48V414.00ZM309.48 414.00V377.26H310.45V414.00ZM310.45 414.00V378.60H311.41V414.00ZM311.41 414.00V379.06H312.38V414.00ZM312.38 414.00V380.56H313.34V414.00ZM313.34 414.00V380.53H314.30V414.00ZM314.30 414.00V382.46H315.27V414.00ZM315.27 414.00V382.84H316.23V414.00ZM316.23 414.00V383.50H317.20V414.00ZM317.20 414.00V386.27H318.16V414.00ZM318.16 414.00V386.17H319.12V414.00ZM319.12 414.00V385.80H320.09V414.00ZM320.09 414.00V386.81H321.05V414.00ZM321.05 414.00V389.80H322.02V414.00ZM322.02 414.00V390.77H322.98V414.00ZM322.98 414.00V390.75H323.94V414.00ZM323.94 414.00V391.97H324.91V414.00ZM324.91 414.00V391.76H325.87V414.00ZM325.87 414.00V392.59H326.84V414.00ZM326.84 414.00V395.05H327.80V414.00ZM327.80 414.00V399.14H328.77V414.00ZM328.77 414.00V397.06H329.73V414.00ZM329.73 414.00V396.53H330.69V414.00ZM330.69 414.00V395.08H331.66V414.00ZM331.66 414.00V394.86H332.62V414.00ZM332.62 414.00V395.61H333.59V414.00ZM333.59 414.00V393.75H334.55V414.00ZM334.55 414.00V393.25H335.51V414.00ZM335.51 414.00V394.55H336.48V414.00ZM336.48 414.00V392.79H337.44V414.00ZM337.44 414.00V393.85H338.41V414.00ZM338.41 414.00V393.49H339.37V414.00ZM339.37 414.00V391.47H340.33V414.00ZM340.33 414.00V390.93H341.30V414.00ZM341.30 414.00V391.69H342.26V414.00ZM342.26 414.00V386.86H343.23V414.00ZM343.23 414.00V384.09H344.19V414.00ZM344.19 414.00V382.06H345.15V414.00ZM345.15 414.00V381.16H346.12V414.00ZM346.12 414.00V379.54H347.08V414.00ZM347.08 414.00V377.11H348.05V414.00ZM348.05 414.00V377.68H349.01V414.00ZM349.01 414.00V374.69H349.98V414.00ZM349.98 414.00V373.12H350.94V414.00ZM350.94 414.00V372.42H351.90V414.00ZM351.90 414.00V369.62H352.87V414.00ZM352.87 414.00V369.22H353.83V414.00ZM353.83 414.00V370.02H354.80V414.00ZM354.80 414.00V371.78H355.76V414.00ZM355.76 414.00V367.67H356.72V414.00ZM356.72 414.00V366.73H357.69V414.00ZM357.69 414.00V364.70H358.65V414.00ZM358.65 414.00V366.50H359.62V414.00ZM359.62 414.00V365.38H360.58V414.00ZM360.58 414.00V365.38H361.54V414.00ZM361.54 414.00V362.80H362.51V414.00ZM362.51 414.00V363.80H363.47V414.00ZM363.47 414.00V364.50H364.44V414.00ZM364.44 414.00V363.97H365.40V414.00ZM365.40 414.00V362.87H366.37V414.00ZM366.37 414.00V366.63H367.33V414.00ZM367.33 414.00V372.00H368.29V414.00ZM368.29 414.00V374.85H369.26V414.00ZM369.26 414.00V375.19H370.22V414.00ZM370.22 414.00V378.42H371.19V414.00ZM371.19 414.00V377.73H372.15V414.00ZM372.15 414.00V379.16H373.11V414.00ZM373.11 414.00V379.13H374.08V414.00ZM374.08 414.00V378.91H375.04V414.00ZM375.04 414.00V381.25H376.01V414.00ZM376.01 414.00V383.65H376.97V414.00ZM376.97 414.00V380.53H377.93V414.00ZM377.93 414.00V380.76H378.90V414.00ZM378.90 414.00V379.84H379.86V414.00ZM379.86 414.00V383.48H380.83V414.00ZM380.83 414.00V382.86H381.79V414.00ZM381.79 414.00V386.65H382.75V414.00ZM382.75 414.00V385.33H383.72V414.00ZM383.72 414.00V387.38H384.68V414.00ZM384.68 414.00V386.06H385.65V414.00ZM385.65 414.00V383.81H386.61V414.00ZM386.61 414.00V381.37H387.58V414.00ZM387.58 414.00V384.49H388.54V414.00ZM388.54 414.00V386.12H389.50V414.00ZM389.50 414.00V386.21H390.47V414.00ZM390.47 414.00V387.49H391.43V414.00ZM391.43 414.00V388.33H392.40V414.00ZM392.40 414.00V390.42H393.36V414.00ZM393.36 414.00V392.89H394.32V414.00ZM394.32 414.00V394.78H395.29V414.00ZM395.29 414.00V395.81H396.25V414.00ZM396.25 414.00V397.06H397.22V414.00ZM397.22 414.00V397.58H398.18V414.00ZM398.18 414.00V397.79H399.14V414.00ZM399.14 414.00V396.89H400.11V414.00ZM400.11 414.00V396.90H401.07V414.00ZM401.07 414.00V397.45H402.04V414.00ZM402.04 414.00V398.83H403.00V414.00ZM403.00 414.00V399.32H403.96V414.00ZM403.96 414.00V399.09H404.93V414.00ZM404.93 414.00V397.32H405.89V414.00ZM405.89 414.00V396.98H406.86V414.00ZM406.86 414.00V398.47H407.82V414.00ZM407.82 414.00V398.96H408.79V414.00ZM408.79 414.00V399.26H409.75V414.00ZM409.75 414.00V399.95H410.71V414.00ZM410.71 414.00V398.33H411.68V414.00ZM411.68 414.00V398.37H412.64V414.00ZM412.64 414.00V399.11H413.61V414.00ZM413.61 414.00V399.54H414.57V414.00ZM414.57 414.00V401.03H415.53V414.00ZM415.53 414.00V401.34H416.50V414.00ZM416.50 414.00V401.58H417.46V414.00ZM417.46 414.00V399.82H418.43V414.00ZM418.43 414.00V399.32H419.39V414.00ZM419.39 414.00V397.16H420.35V414.00ZM420.35 414.00V396.50H421.32V414.00ZM421.32 414.00V395.85H422.28V414.00ZM422.28 414.00V396.72H423.25V414.00ZM423.25 414.00V397.27H424.21V414.00ZM424.21 414.00V396.73H425.18V414.00ZM425.18 414.00V395.43H426.14V414.00ZM426.14 414.00V396.50H427.10V414.00ZM427.10 414.00V396.42H428.07V414.00ZM428.07 414.00V398.33H429.03V414.00ZM429.03 414.00V398.25H430.00V414.00ZM430.00 414.00V398.07H430.96V414.00ZM430.96 414.00V396.49H431.92V414.00ZM431.92 414.00V395.57H432.89V414.00ZM432.89 414.00V395.03H433.85V414.00ZM433.85 414.00V394.90H434.82V414.00ZM434.82 414.00V394.85H435.78V414.00ZM435.78 414.00V394.67H436.74V414.00ZM436.74 414.00V394.27H437.71V414.00ZM437.71 414.00V394.58H438.67V414.00ZM438.67 414.00V393.68H439.64V414.00ZM439.64 414.00V393.74H440.60V414.00ZM440.60 414.00V391.95H441.56V414.00ZM441.56 414.00V391.58H442.53V414.00ZM442.53 414.00V392.16H443.49V414.00ZM443.49 414.00V392.30H444.46V414.00ZM444.46 414.00V390.13H445.42V414.00ZM445.42 414.00V391.10H446.39V414.00ZM446.39 414.00V389.75H447.35V414.00ZM447.35 414.00V389.36H448.31V414.00ZM448.31 414.00V389.30H449.28V414.00ZM449.28 414.00V390.18H450.24V414.00ZM450.24 414.00V391.22H451.21V414.00ZM451.21 414.00V390.43H452.17V414.00ZM452.17 414.00V387.95H453.13V414.00ZM453.13 414.00V387.59H454.10V414.00ZM454.10 414.00V387.64H455.06V414.00ZM455.06 414.00V389.10H456.03V414.00ZM456.03 414.00V389.32H456.99V414.00ZM456.99 414.00V389.75H457.95V414.00ZM457.95 414.00V389.20H458.92V414.00ZM458.92 414.00V387.84H459.88V414.00ZM459.88 414.00V388.94H460.85V414.00ZM460.85 414.00V389.15H461.81V414.00ZM461.81 414.00V390.41H462.77V414.00ZM462.77 414.00V391.10H463.74V414.00ZM463.74 414.00V392.51H464.70V414.00ZM464.70 414.00V393.61H465.67V414.00ZM465.67 414.00V394.08H466.63V414.00ZM466.63 414.00V395.73H467.60V414.00ZM467.60 414.00V396.55H468.56V414.00ZM468.56 414.00V396.29H469.52V414.00ZM469.52 414.00V398.58H470.49V414.00ZM470.49 414.00V400.48H471.45V414.00ZM471.45 414.00V403.39H472.42V414.00ZM472.42 414.00V403.79H473.38V414.00ZM473.38 414.00V402.47H474.34V414.00ZM474.34 414.00V403.18H475.31V414.00ZM475.31 414.00V404.43H476.27V414.00ZM476.27 414.00V405.30H477.24V414.00ZM477.24 414.00V406.12H478.20V414.00ZM478.20 414.00V407.46H479.16V414.00ZM479.16 414.00V407.47H480.13V414.00ZM480.13 414.00V407.51H481.09V414.00ZM481.09 414.00V407.24H482.06V414.00ZM482.06 414.00V407.20H483.02V414.00ZM483.02 414.00V407.12H483.99V414.00ZM483.99 414.00V407.08H484.95V414.00ZM484.95 414.00V406.55H485.91V414.00ZM485.91 414.00V406.39H486.88V414.00ZM486.88 414.00V406.08H487.84V414.00ZM487.84 414.00V406.98H488.81V414.00ZM488.81 414.00V408.11H489.77V414.00ZM489.77 414.00V409.04H490.73V414.00ZM490.73 414.00V409.08H491.70V414.00ZM491.70 414.00V408.89H492.66V414.00ZM492.66 414.00V408.17H493.63V414.00ZM493.63 414.00V407.99H494.59V414.00ZM494.59 414.00V407.62H495.55V414.00ZM495.55 414.00V407.61H496.52V414.00ZM496.52 414.00V407.82H497.48V414.00ZM497.48 414.00V408.18H498.45V414.00ZM498.45 414.00V408.69H499.41V414.00ZM499.41 414.00V408.57H500.37V414.00ZM500.37 414.00V408.96H501.34V414.00ZM501.34 414.00V409.43H502.30V414.00ZM502.30 414.00V409.77H503.27V414.00ZM503.27 414.00V409.77H504.23V414.00ZM504.23 414.00V409.84H505.20V414.00ZM505.20 414.00V409.37H506.16V414.00ZM506.16 414.00V409.41H507.12V414.00ZM507.12 414.00V409.43H508.09V414.00ZM508.09 414.00V409.34H509.05V414.00ZM509.05 414.00V409.11H510.02V414.00ZM510.02 414.00V409.36H510.98V414.00ZM510.98 414.00V409.11H511.94V414.00ZM511.94 414.00V408.51H512.91V414.00ZM512.91 414.00V407.92H513.87V414.00ZM513.87 414.00V406.73H514.84V414.00ZM514.84 414.00V405.07H515.80V414.00ZM515.80 414.00V403.27H516.76V414.00ZM516.76 414.00V402.38H517.73V414.00ZM517.73 414.00V402.39H518.69V414.00ZM518.69 414.00V402.20H519.66V414.00ZM519.66 414.00V402.62H520.62V414.00ZM520.62 414.00V402.23H521.58V414.00ZM521.58 414.00V401.79H522.55V414.00ZM522.55 414.00V400.59H523.51V414.00ZM523.51 414.00V400.38H524.48V414.00ZM524.48 414.00V399.22H525.44V414.00ZM525.44 414.00V399.03H526.41V414.00ZM526.41 414.00V397.74H527.37V414.00ZM527.37 414.00V396.15H528.33V414.00ZM528.33 414.00V394.46H529.30V414.00ZM529.30 414.00V393.78H530.26V414.00ZM530.26 414.00V393.17H531.23V414.00ZM531.23 414.00V392.94H532.19V414.00ZM532.19 414.00V391.05H533.15V414.00ZM533.15 414.00V389.78H534.12V414.00ZM534.12 414.00V388.53H535.08V414.00ZM535.08 414.00V388.32H536.05V414.00ZM536.05 414.00V386.23H537.01V414.00ZM537.01 414.00V388.98H537.97V414.00ZM537.97 414.00V387.56H538.94V414.00ZM538.94 414.00V387.83H539.90V414.00ZM539.90 414.00V390.28H540.87V414.00ZM540.87 414.00V390.00H541.83V414.00ZM541.83 414.00V390.75H542.80V414.00ZM542.80 414.00V390.88H543.76V414.00ZM543.76 414.00V391.32H544.72V414.00ZM544.72 414.00V391.03H545.69V414.00ZM545.69 414.00V390.66H546.65V414.00ZM546.65 414.00V388.56H547.62V414.00ZM547.62 414.00V390.04H548.58V414.00ZM548.58 414.00V389.19H549.54V414.00ZM549.54 414.00V390.73H550.51V414.00ZM550.51 414.00V390.29H551.47V414.00ZM551.47 414.00V389.42H552.44V414.00ZM552.44 414.00V391.12H553.40V414.00ZM553.40 414.00V389.24H554.36V414.00ZM554.36 414.00V390.65H555.33V414.00ZM555.33 414.00V391.53H556.29V414.00ZM556.29 414.00V393.12H557.26V414.00ZM557.26 414.00V394.70H558.22V414.00ZM558.22 414.00V394.04H559.18V414.00ZM559.18 414.00V394.72H560.15V414.00ZM560.15 414.00V394.75H561.11V414.00ZM561.11 414.00V393.94H562.08V414.00ZM562.08 414.00V393.26H563.04V414.00ZM563.04 414.00V394.60H564.01V414.00ZM564.01 414.00V396.25H564.97V414.00ZM564.97 414.00V397.98H565.93V414.00ZM565.93 414.00V398.37H566.90V414.00ZM566.90 414.00V398.14H567.86V414.00ZM567.86 414.00V397.01H568.83V414.00ZM568.83 414.00V400.27H569.79V414.00ZM569.79 414.00V401.68H570.75V414.00ZM570.75 414.00V402.21H571.72V414.00ZM571.72 414.00V403.37H572.68V414.00ZM572.68 414.00V402.84H573.65V414.00ZM573.65 414.00V403.45H574.61V414.00ZM574.61 414.00V403.67H575.57V414.00ZM575.57 414.00V404.66H576.54V414.00ZM576.54 414.00V404.94H577.50V414.00ZM577.50 414.00V405.24H578.47V414.00ZM578.47 414.00V405.03H579.43V414.00ZM579.43 414.00V405.70H580.39V414.00ZM580.39 414.00V406.21H581.36V414.00ZM581.36 414.00V406.47H582.32V414.00ZM582.32 414.00V406.60H583.29V414.00ZM583.29 414.00V406.39H584.25V414.00ZM584.25 414.00V405.97H585.22V414.00ZM585.22 414.00V405.28H586.18V414.00ZM586.18 414.00V406.14H587.14V414.00ZM587.14 414.00V406.03H588.11V414.00ZM588.11 414.00V406.78H589.07V414.00ZM589.07 414.00V406.77H590.04V414.00ZM590.04 414.00V406.59H591.00V414.00Z" fill="#3e55ea"/>
<path d="M56.89 414.00V409.02H57.85V414.00ZM57.85 414.00V404.50H58.82V414.00ZM58.82 414.00V398.53H59.78V414.00ZM59.78 414.00V392.28H60.75V414.00ZM60.75 414.00V385.32H61.71V414.00ZM61.71 414.00V378.40H62.67V414.00ZM62.67 414.00V371.35H63.64V414.00ZM63.64 414.00V365.25H64.60V414.00ZM64.60 414.00V358.73H65.57V414.00ZM65.57 414.00V354.80H66.53V414.00ZM66.53 414.00V351.70H67.49V414.00ZM67.49 414.00V350.32H68.46V414.00ZM68.46 414.00V348.94H69.42V414.00ZM69.42 414.00V349.41H70.39V414.00ZM70.39 414.00V350.63H71.35V414.00ZM71.35 414.00V352.80H72.32V414.00ZM72.32 414.00V354.17H73.28V414.00ZM73.28 414.00V353.77H74.24V414.00ZM74.24 414.00V355.15H75.21V414.00ZM75.21 414.00V358.03H76.17V414.00ZM76.17 414.00V359.68H77.14V414.00ZM77.14 414.00V361.05H78.10V414.00ZM78.10 414.00V361.59H79.06V414.00ZM79.06 414.00V362.30H80.03V414.00ZM80.03 414.00V363.31H80.99V414.00ZM80.99 414.00V364.94H81.96V414.00ZM81.96 414.00V366.83H82.92V414.00ZM82.92 414.00V370.55H83.88V414.00ZM83.88 414.00V376.79H84.85V414.00ZM84.85 414.00V378.62H85.81V414.00ZM85.81 414.00V380.52H86.78V414.00ZM86.78 414.00V382.41H87.74V414.00ZM87.74 414.00V384.22H88.70V414.00ZM88.70 414.00V385.88H89.67V414.00ZM89.67 414.00V387.09H90.63V414.00ZM90.63 414.00V388.09H91.60V414.00ZM91.60 414.00V389.99H92.56V414.00ZM92.56 414.00V392.00H93.53V414.00ZM93.53 414.00V394.11H94.49V414.00ZM94.49 414.00V395.89H95.45V414.00ZM95.45 414.00V397.31H96.42V414.00ZM96.42 414.00V398.47H97.38V414.00ZM97.38 414.00V399.54H98.35V414.00ZM98.35 414.00V400.59H99.31V414.00ZM99.31 414.00V401.56H100.27V414.00ZM100.27 414.00V402.52H101.24V414.00ZM101.24 414.00V403.70H102.20V414.00ZM102.20 414.00V405.05H103.17V414.00ZM103.17 414.00V406.41H104.13V414.00ZM104.13 414.00V407.22H105.09V414.00ZM105.09 414.00V408.01H106.06V414.00ZM106.06 414.00V408.62H107.02V414.00ZM107.02 414.00V409.23H107.99V414.00ZM107.99 414.00V409.79H108.95V414.00ZM108.95 414.00V410.11H109.92V414.00ZM109.92 414.00V410.43H110.88V414.00ZM110.88 414.00V410.75H111.84V414.00ZM198.61 414.00V410.90H199.58V414.00ZM199.58 414.00V410.48H200.54V414.00ZM200.54 414.00V410.06H201.50V414.00ZM201.50 414.00V409.68H202.47V414.00ZM202.47 414.00V409.47H203.43V414.00ZM203.43 414.00V409.26H204.40V414.00ZM204.40 414.00V409.06H205.36V414.00ZM205.36 414.00V408.80H206.32V414.00ZM206.32 414.00V408.25H207.29V414.00ZM207.29 414.00V407.69H208.25V414.00ZM208.25 414.00V407.30H209.22V414.00ZM209.22 414.00V407.85H210.18V414.00ZM210.18 414.00V408.40H211.15V414.00ZM211.15 414.00V408.88H212.11V414.00ZM212.11 414.00V408.88H213.07V414.00ZM213.07 414.00V408.88H214.04V414.00ZM214.04 414.00V408.78H215.00V414.00ZM215.00 414.00V407.95H215.97V414.00ZM215.97 414.00V407.12H216.93V414.00ZM216.93 414.00V406.28H217.89V414.00ZM217.89 414.00V405.39H218.86V414.00ZM218.86 414.00V404.50H219.82V414.00ZM219.82 414.00V404.11H220.79V414.00ZM220.79 414.00V404.81H221.75V414.00ZM221.75 414.00V405.08H222.71V414.00ZM222.71 414.00V403.97H223.68V414.00ZM223.68 414.00V403.10H224.64V414.00ZM224.64 414.00V403.37H225.61V414.00ZM225.61 414.00V403.63H226.57V414.00ZM226.57 414.00V403.81H227.54V414.00ZM227.54 414.00V402.43H228.50V414.00ZM228.50 414.00V401.04H229.46V414.00ZM229.46 414.00V399.74H230.43V414.00ZM230.43 414.00V400.02H231.39V414.00ZM231.39 414.00V400.29H232.36V414.00ZM232.36 414.00V400.57H233.32V414.00ZM233.32 414.00V401.00H234.28V414.00ZM234.28 414.00V401.34H235.25V414.00ZM235.25 414.00V400.58H236.21V414.00ZM236.21 414.00V399.82H237.18V414.00ZM237.18 414.00V399.20H238.14V414.00ZM238.14 414.00V400.78H239.10V414.00ZM239.10 414.00V402.24H240.07V414.00ZM240.07 414.00V402.37H241.03V414.00ZM241.03 414.00V402.51H242.00V414.00ZM242.00 414.00V402.66H242.96V414.00ZM242.96 414.00V402.94H243.92V414.00ZM243.92 414.00V403.22H244.89V414.00ZM244.89 414.00V403.49H245.85V414.00ZM245.85 414.00V403.77H246.82V414.00ZM246.82 414.00V404.05H247.78V414.00ZM247.78 414.00V404.35H248.75V414.00ZM248.75 414.00V405.07H249.71V414.00ZM249.71 414.00V405.78H250.67V414.00ZM250.67 414.00V406.42H251.64V414.00ZM251.64 414.00V406.62H252.60V414.00ZM252.60 414.00V406.82H253.57V414.00ZM253.57 414.00V407.00H254.53V414.00ZM254.53 414.00V406.78H255.49V414.00ZM255.49 414.00V406.56H256.46V414.00ZM256.46 414.00V406.35H257.42V414.00ZM257.42 414.00V406.25H258.39V414.00ZM258.39 414.00V406.61H259.35V414.00ZM259.35 414.00V406.97H260.31V414.00ZM260.31 414.00V407.33H261.28V414.00ZM261.28 414.00V407.40H262.24V414.00ZM262.24 414.00V406.02H263.21V414.00ZM263.21 414.00V404.64H264.17V414.00ZM264.17 414.00V403.45H265.13V414.00ZM265.13 414.00V403.31H266.10V414.00ZM266.10 414.00V403.17H267.06V414.00ZM267.06 414.00V402.85H268.03V414.00ZM268.03 414.00V401.46H268.99V414.00ZM268.99 414.00V400.08H269.96V414.00ZM269.96 414.00V398.63H270.92V414.00ZM270.92 414.00V396.60H271.88V414.00ZM271.88 414.00V394.59H272.85V414.00ZM272.85 414.00V392.63H273.81V414.00ZM273.81 414.00V390.91H274.78V414.00ZM274.78 414.00V389.19H275.74V414.00ZM275.74 414.00V387.45H276.70V414.00ZM276.70 414.00V385.64H277.67V414.00ZM277.67 414.00V384.12H278.63V414.00ZM278.63 414.00V382.95H279.60V414.00ZM279.60 414.00V382.87H280.56V414.00ZM280.56 414.00V383.30H281.52V414.00ZM281.52 414.00V383.54H282.49V414.00ZM282.49 414.00V381.95H283.45V414.00ZM283.45 414.00V380.37H284.42V414.00ZM284.42 414.00V378.81H285.38V414.00ZM285.38 414.00V377.43H286.35V414.00ZM286.35 414.00V376.18H287.31V414.00ZM287.31 414.00V375.34H288.27V414.00ZM288.27 414.00V376.22H289.24V414.00ZM289.24 414.00V377.21H290.20V414.00ZM290.20 414.00V376.06H291.17V414.00ZM291.17 414.00V376.38H292.13V414.00ZM292.13 414.00V377.09H293.09V414.00ZM293.09 414.00V377.79H294.06V414.00ZM294.06 414.00V378.50H295.02V414.00ZM295.02 414.00V379.21H295.99V414.00ZM295.99 414.00V379.92H296.95V414.00ZM296.95 414.00V380.63H297.91V414.00ZM297.91 414.00V381.34H298.88V414.00ZM298.88 414.00V382.04H299.84V414.00ZM299.84 414.00V382.68H300.81V414.00ZM300.81 414.00V383.31H301.77V414.00ZM301.77 414.00V383.92H302.73V414.00ZM302.73 414.00V384.12H303.70V414.00ZM303.70 414.00V384.33H304.66V414.00ZM304.66 414.00V384.53H305.63V414.00ZM305.63 414.00V384.73H306.59V414.00ZM306.59 414.00V384.94H307.56V414.00ZM307.56 414.00V385.35H308.52V414.00ZM308.52 414.00V385.75H309.48V414.00ZM309.48 414.00V386.15H310.45V414.00ZM310.45 414.00V386.56H311.41V414.00ZM311.41 414.00V387.01H312.38V414.00ZM312.38 414.00V387.88H313.34V414.00ZM313.34 414.00V388.76H314.30V414.00ZM314.30 414.00V389.63H315.27V414.00ZM315.27 414.00V390.51H316.23V414.00ZM316.23 414.00V391.38H317.20V414.00ZM317.20 414.00V392.25H318.16V414.00ZM318.16 414.00V393.09H319.12V414.00ZM319.12 414.00V393.92H320.09V414.00ZM320.09 414.00V394.75H321.05V414.00ZM321.05 414.00V395.59H322.02V414.00ZM322.02 414.00V396.42H322.98V414.00ZM322.98 414.00V397.25H323.94V414.00ZM323.94 414.00V397.94H324.91V414.00ZM324.91 414.00V398.63H325.87V414.00ZM325.87 414.00V399.32H326.84V414.00ZM326.84 414.00V400.01H327.80V414.00ZM327.80 414.00V400.70H328.77V414.00ZM328.77 414.00V400.21H329.73V414.00ZM329.73 414.00V399.69H330.69V414.00ZM330.69 414.00V399.18H331.66V414.00ZM331.66 414.00V398.66H332.62V414.00ZM332.62 414.00V398.19H333.59V414.00ZM333.59 414.00V398.02H334.55V414.00ZM334.55 414.00V397.86H335.51V414.00ZM335.51 414.00V397.69H336.48V414.00ZM336.48 414.00V397.53H337.44V414.00ZM337.44 414.00V397.37H338.41V414.00ZM338.41 414.00V397.20H339.37V414.00ZM339.37 414.00V396.54H340.33V414.00ZM340.33 414.00V395.87H341.30V414.00ZM341.30 414.00V395.21H342.26V414.00ZM342.26 414.00V392.83H343.23V414.00ZM343.23 414.00V390.41H344.19V414.00ZM344.19 414.00V387.99H345.15V414.00ZM345.15 414.00V386.63H346.12V414.00ZM346.12 414.00V385.29H347.08V414.00ZM347.08 414.00V383.96H348.05V414.00ZM348.05 414.00V382.62H349.01V414.00ZM349.01 414.00V381.27H349.98V414.00ZM349.98 414.00V379.93H350.94V414.00ZM350.94 414.00V378.59H351.90V414.00ZM351.90 414.00V377.24H352.87V414.00ZM352.87 414.00V376.44H353.83V414.00ZM353.83 414.00V376.57H354.80V414.00ZM354.80 414.00V376.96H355.76V414.00ZM355.76 414.00V375.75H356.72V414.00ZM356.72 414.00V374.50H357.69V414.00ZM357.69 414.00V373.24H358.65V414.00ZM358.65 414.00V372.68H359.62V414.00ZM359.62 414.00V372.13H360.58V414.00ZM360.58 414.00V371.60H361.54V414.00ZM361.54 414.00V371.21H362.51V414.00ZM362.51 414.00V370.83H363.47V414.00ZM363.47 414.00V371.08H364.44V414.00ZM364.44 414.00V371.33H365.40V414.00ZM365.40 414.00V371.59H366.37V414.00ZM366.37 414.00V374.48H367.33V414.00ZM367.33 414.00V377.61H368.29V414.00ZM368.29 414.00V379.72H369.26V414.00ZM369.26 414.00V381.83H370.22V414.00ZM370.22 414.00V383.68H371.19V414.00ZM371.19 414.00V383.42H372.15V414.00ZM372.15 414.00V383.16H373.11V414.00ZM373.11 414.00V383.05H374.08V414.00ZM374.08 414.00V384.39H375.04V414.00ZM375.04 414.00V385.77H376.01V414.00ZM376.01 414.00V386.98H376.97V414.00ZM376.97 414.00V387.10H377.93V414.00ZM377.93 414.00V387.27H378.90V414.00ZM378.90 414.00V387.50H379.86V414.00ZM379.86 414.00V388.42H380.83V414.00ZM380.83 414.00V389.33H381.79V414.00ZM381.79 414.00V390.23H382.75V414.00ZM382.75 414.00V390.83H383.72V414.00ZM383.72 414.00V391.43H384.68V414.00ZM384.68 414.00V390.22H385.65V414.00ZM385.65 414.00V389.01H386.61V414.00ZM386.61 414.00V388.02H387.58V414.00ZM387.58 414.00V388.98H388.54V414.00ZM388.54 414.00V389.95H389.50V414.00ZM389.50 414.00V390.92H390.47V414.00ZM390.47 414.00V391.43H391.43V414.00ZM391.43 414.00V391.96H392.40V414.00ZM392.40 414.00V393.96H393.36V414.00ZM393.36 414.00V395.96H394.32V414.00ZM394.32 414.00V397.96H395.29V414.00ZM395.29 414.00V398.96H396.25V414.00ZM396.25 414.00V399.96H397.22V414.00ZM397.22 414.00V400.96H398.18V414.00ZM398.18 414.00V400.46H399.14V414.00ZM399.14 414.00V399.96H400.11V414.00ZM400.11 414.00V399.46H401.07V414.00ZM401.07 414.00V400.28H402.04V414.00ZM402.04 414.00V401.12H403.00V414.00ZM403.00 414.00V401.95H403.96V414.00ZM403.96 414.00V401.39H404.93V414.00ZM404.93 414.00V400.81H405.89V414.00ZM405.89 414.00V400.22H406.86V414.00ZM406.86 414.00V401.10H407.82V414.00ZM407.82 414.00V402.02H408.79V414.00ZM408.79 414.00V402.94H409.75V414.00ZM409.75 414.00V402.48H410.71V414.00ZM410.71 414.00V401.98H411.68V414.00ZM411.68 414.00V401.48H412.64V414.00ZM412.64 414.00V402.21H413.61V414.00ZM413.61 414.00V402.98H414.57V414.00ZM414.57 414.00V403.75H415.53V414.00ZM415.53 414.00V404.23H416.50V414.00ZM416.50 414.00V404.71H417.46V414.00ZM417.46 414.00V403.54H418.43V414.00ZM418.43 414.00V402.33H419.39V414.00ZM419.39 414.00V401.12H420.35V414.00ZM420.35 414.00V400.26H421.32V414.00ZM421.32 414.00V399.46H422.28V414.00ZM422.28 414.00V399.94H423.25V414.00ZM423.25 414.00V400.42H424.21V414.00ZM424.21 414.00V399.40H425.18V414.00ZM425.18 414.00V398.25H426.14V414.00ZM426.14 414.00V399.16H427.10V414.00ZM427.10 414.00V400.16H428.07V414.00ZM428.07 414.00V401.16H429.03V414.00ZM429.03 414.00V400.98H430.00V414.00ZM430.00 414.00V400.73H430.96V414.00ZM430.96 414.00V400.48H431.92V414.00ZM431.92 414.00V399.68H432.89V414.00ZM432.89 414.00V398.84H433.85V414.00ZM433.85 414.00V398.01H434.82V414.00ZM434.82 414.00V397.87H435.78V414.00ZM435.78 414.00V397.79H436.74V414.00ZM436.74 414.00V397.71H437.71V414.00ZM437.71 414.00V397.47H438.67V414.00ZM438.67 414.00V397.22H439.64V414.00ZM439.64 414.00V396.97H440.60V414.00ZM440.60 414.00V396.63H441.56V414.00ZM441.56 414.00V396.29H442.53V414.00ZM442.53 414.00V395.94H443.49V414.00ZM443.49 414.00V395.46H444.46V414.00ZM444.46 414.00V394.97H445.42V414.00ZM445.42 414.00V394.49H446.39V414.00ZM446.39 414.00V393.30H447.35V414.00ZM447.35 414.00V392.03H448.31V414.00ZM448.31 414.00V392.86H449.28V414.00ZM449.28 414.00V393.86H450.24V414.00ZM450.24 414.00V394.86H451.21V414.00ZM451.21 414.00V393.41H452.17V414.00ZM452.17 414.00V391.81H453.13V414.00ZM453.13 414.00V390.28H454.10V414.00ZM454.10 414.00V390.97H455.06V414.00ZM455.06 414.00V391.87H456.03V414.00ZM456.03 414.00V392.77H456.99V414.00ZM456.99 414.00V392.36H457.95V414.00ZM457.95 414.00V391.80H458.92V414.00ZM458.92 414.00V391.25H459.88V414.00ZM459.88 414.00V392.06H460.85V414.00ZM460.85 414.00V393.03H461.81V414.00ZM461.81 414.00V394.00H462.77V414.00ZM462.77 414.00V395.03H463.74V414.00ZM463.74 414.00V396.07H464.70V414.00ZM464.70 414.00V397.10H465.67V414.00ZM465.67 414.00V397.78H466.63V414.00ZM466.63 414.00V398.40H467.60V414.00ZM467.60 414.00V399.02H468.56V414.00ZM468.56 414.00V399.78H469.52V414.00ZM469.52 414.00V400.57H470.49V414.00ZM470.49 414.00V402.98H471.45V414.00ZM471.45 414.00V405.39H472.42V414.00ZM472.42 414.00V405.18H473.38V414.00ZM473.38 414.00V404.78H474.34V414.00ZM474.34 414.00V405.43H475.31V414.00ZM475.31 414.00V406.26H476.27V414.00ZM476.27 414.00V407.09H477.24V414.00ZM477.24 414.00V407.85H478.20V414.00ZM478.20 414.00V408.58H479.16V414.00ZM479.16 414.00V408.82H480.13V414.00ZM480.13 414.00V408.85H481.09V414.00ZM481.09 414.00V408.80H482.06V414.00ZM482.06 414.00V408.75H483.02V414.00ZM483.02 414.00V408.70H483.99V414.00ZM483.99 414.00V408.52H484.95V414.00ZM484.95 414.00V408.25H485.91V414.00ZM485.91 414.00V407.99H486.88V414.00ZM486.88 414.00V407.73H487.84V414.00ZM487.84 414.00V408.22H488.81V414.00ZM488.81 414.00V409.11H489.77V414.00ZM489.77 414.00V410.01H490.73V414.00ZM490.73 414.00V410.16H491.70V414.00ZM491.70 414.00V409.87H492.66V414.00ZM492.66 414.00V409.58H493.63V414.00ZM493.63 414.00V409.30H494.59V414.00ZM494.59 414.00V409.01H495.55V414.00ZM495.55 414.00V409.00H496.52V414.00ZM496.52 414.00V409.21H497.48V414.00ZM497.48 414.00V409.42H498.45V414.00ZM498.45 414.00V409.63H499.41V414.00ZM499.41 414.00V409.90H500.37V414.00ZM500.37 414.00V410.21H501.34V414.00ZM501.34 414.00V410.52H502.30V414.00ZM502.30 414.00V410.83H503.27V414.00ZM503.27 414.00V410.87H504.23V414.00ZM504.23 414.00V410.71H505.20V414.00ZM505.20 414.00V410.56H506.16V414.00ZM506.16 414.00V410.40H507.12V414.00ZM507.12 414.00V410.34H508.09V414.00ZM508.09 414.00V410.34H509.05V414.00ZM509.05 414.00V410.34H510.02V414.00ZM510.02 414.00V410.34H510.98V414.00ZM510.98 414.00V410.34H511.94V414.00ZM511.94 414.00V409.94H512.91V414.00ZM512.91 414.00V409.20H513.87V414.00ZM513.87 414.00V408.09H514.84V414.00ZM514.84 414.00V406.70H515.80V414.00ZM515.80 414.00V405.32H516.76V414.00ZM516.76 414.00V404.64H517.73V414.00ZM517.73 414.00V404.50H518.69V414.00ZM518.69 414.00V404.36H519.66V414.00ZM519.66 414.00V404.15H520.62V414.00ZM520.62 414.00V403.87H521.58V414.00ZM521.58 414.00V403.60H522.55V414.00ZM522.55 414.00V403.09H523.51V414.00ZM523.51 414.00V402.40H524.48V414.00ZM524.48 414.00V401.71H525.44V414.00ZM525.44 414.00V400.79H526.41V414.00ZM526.41 414.00V399.68H527.37V414.00ZM527.37 414.00V398.58H528.33V414.00ZM528.33 414.00V397.76H529.30V414.00ZM529.30 414.00V397.21H530.26V414.00ZM530.26 414.00V396.68H531.23V414.00ZM531.23 414.00V395.99H532.19V414.00ZM532.19 414.00V395.13H533.15V414.00ZM533.15 414.00V394.27H534.12V414.00ZM534.12 414.00V393.56H535.08V414.00ZM535.08 414.00V392.96H536.05V414.00ZM536.05 414.00V393.02H537.01V414.00ZM537.01 414.00V393.62H537.97V414.00ZM537.97 414.00V394.02H538.94V414.00ZM538.94 414.00V394.19H539.90V414.00ZM539.90 414.00V394.35H540.87V414.00ZM540.87 414.00V394.92H541.83V414.00ZM541.83 414.00V395.93H542.80V414.00ZM542.80 414.00V396.24H543.76V414.00ZM543.76 414.00V395.83H544.72V414.00ZM544.72 414.00V395.41H545.69V414.00ZM545.69 414.00V395.07H546.65V414.00ZM546.65 414.00V394.82H547.62V414.00ZM547.62 414.00V394.57H548.58V414.00ZM548.58 414.00V394.60H549.54V414.00ZM549.54 414.00V394.94H550.51V414.00ZM550.51 414.00V395.27H551.47V414.00ZM551.47 414.00V395.37H552.44V414.00ZM552.44 414.00V395.20H553.40V414.00ZM553.40 414.00V395.03H554.36V414.00ZM554.36 414.00V395.53H555.33V414.00ZM555.33 414.00V396.81H556.29V414.00ZM556.29 414.00V397.62H557.26V414.00ZM557.26 414.00V397.95H558.22V414.00ZM558.22 414.00V398.28H559.18V414.00ZM559.18 414.00V398.20H560.15V414.00ZM560.15 414.00V397.69H561.11V414.00ZM561.11 414.00V397.17H562.08V414.00ZM562.08 414.00V397.51H563.04V414.00ZM563.04 414.00V398.48H564.01V414.00ZM564.01 414.00V399.44H564.97V414.00ZM564.97 414.00V400.41H565.93V414.00ZM565.93 414.00V400.84H566.90V414.00ZM566.90 414.00V400.55H567.86V414.00ZM567.86 414.00V400.26H568.83V414.00ZM568.83 414.00V401.91H569.79V414.00ZM569.79 414.00V404.02H570.75V414.00ZM570.75 414.00V404.57H571.72V414.00ZM571.72 414.00V404.87H572.68V414.00ZM572.68 414.00V405.18H573.65V414.00ZM573.65 414.00V405.50H574.61V414.00ZM574.61 414.00V405.84H575.57V414.00ZM575.57 414.00V406.19H576.54V414.00ZM576.54 414.00V406.51H577.50V414.00ZM577.50 414.00V406.78H578.47V414.00ZM578.47 414.00V407.06H579.43V414.00ZM579.43 414.00V407.34H580.39V414.00ZM580.39 414.00V407.61H581.36V414.00ZM581.36 414.00V407.89H582.32V414.00ZM582.32 414.00V407.90H583.29V414.00ZM583.29 414.00V407.56H584.25V414.00ZM584.25 414.00V407.21H585.22V414.00ZM585.22 414.00V407.15H586.18V414.00ZM586.18 414.00V407.50H587.14V414.00ZM587.14 414.00V407.84H588.11V414.00ZM588.11 414.00V408.05H589.07V414.00ZM589.07 414.00V408.05H590.04V414.00ZM590.04 414.00V408.05H591.00V414.00Z" fill="#9ba3b3"/>
<path d="M70.39 414.00V386.65H71.35V414.00ZM71.35 414.00V360.51H72.32V414.00ZM72.32 414.00V360.51H73.28V414.00ZM73.28 414.00V361.22H74.24V414.00ZM74.24 414.00V362.71H75.21V414.00ZM75.21 414.00V364.34H76.17V414.00ZM76.17 414.00V366.03H77.14V414.00ZM77.14 414.00V367.29H78.10V414.00ZM78.10 414.00V368.40H79.06V414.00ZM79.06 414.00V369.11H80.03V414.00ZM80.03 414.00V369.52H80.99V414.00ZM80.99 414.00V370.05H81.96V414.00ZM81.96 414.00V370.87H82.92V414.00ZM82.92 414.00V371.78H83.88V414.00ZM83.88 414.00V372.79H84.85V414.00ZM84.85 414.00V374.91H85.81V414.00ZM85.81 414.00V377.08H86.78V414.00ZM86.78 414.00V378.00H87.74V414.00ZM87.74 414.00V378.92H88.70V414.00ZM88.70 414.00V379.89H89.67V414.00ZM89.67 414.00V380.90H90.63V414.00ZM90.63 414.00V381.91H91.60V414.00ZM91.60 414.00V383.73H92.56V414.00ZM92.56 414.00V385.88H93.53V414.00ZM93.53 414.00V389.48H94.49V414.00ZM94.49 414.00V391.98H95.45V414.00ZM95.45 414.00V393.34H96.42V414.00ZM96.42 414.00V395.06H97.38V414.00ZM97.38 414.00V398.16H98.35V414.00ZM98.35 414.00V411.56H99.31V414.00Z" fill="#f4b560"/>
<path d="M45.32 414.00V413.86H46.28V414.00ZM46.28 414.00V413.77H47.25V414.00ZM47.25 414.00V413.70H48.21V414.00ZM48.21 414.00V413.63H49.18V414.00ZM49.18 414.00V413.54H50.14V414.00ZM50.14 414.00V413.39H51.11V414.00ZM51.11 414.00V413.13H52.07V414.00ZM52.07 414.00V412.92H53.03V414.00ZM53.03 414.00V412.66H54.00V414.00ZM54.00 414.00V412.44H54.96V414.00ZM54.96 414.00V412.04H55.93V414.00ZM55.93 414.00V411.39H56.89V414.00ZM56.89 414.00V409.14H57.85V414.00ZM57.85 414.00V405.16H58.82V414.00ZM58.82 414.00V399.29H59.78V414.00ZM59.78 414.00V393.51H60.75V414.00ZM60.75 414.00V386.97H61.71V414.00ZM61.71 414.00V379.49H62.67V414.00ZM62.67 414.00V372.10H63.64V414.00ZM63.64 414.00V368.96H64.60V414.00ZM64.60 414.00V364.98H65.57V414.00ZM65.57 414.00V364.54H66.53V414.00ZM66.53 414.00V363.53H67.49V414.00ZM67.49 414.00V363.76H68.46V414.00ZM68.46 414.00V364.09H69.42V414.00ZM69.42 414.00V364.57H70.39V414.00ZM70.39 414.00V365.15H71.35V414.00ZM71.35 414.00V364.76H72.32V414.00ZM72.32 414.00V365.78H73.28V414.00ZM73.28 414.00V366.66H74.24V414.00ZM74.24 414.00V366.22H75.21V414.00ZM75.21 414.00V367.37H76.17V414.00ZM76.17 414.00V369.72H77.14V414.00ZM77.14 414.00V371.71H78.10V414.00ZM78.10 414.00V373.19H79.06V414.00ZM79.06 414.00V374.41H80.03V414.00ZM80.03 414.00V374.78H80.99V414.00ZM80.99 414.00V375.82H81.96V414.00ZM81.96 414.00V376.15H82.92V414.00ZM82.92 414.00V377.13H83.88V414.00ZM83.88 414.00V378.12H84.85V414.00ZM84.85 414.00V379.50H85.81V414.00ZM85.81 414.00V381.59H86.78V414.00ZM86.78 414.00V383.97H87.74V414.00ZM87.74 414.00V385.76H88.70V414.00ZM88.70 414.00V387.18H89.67V414.00ZM89.67 414.00V388.55H90.63V414.00ZM90.63 414.00V389.55H91.60V414.00ZM91.60 414.00V391.73H92.56V414.00ZM92.56 414.00V393.33H93.53V414.00ZM93.53 414.00V394.53H94.49V414.00ZM94.49 414.00V397.14H95.45V414.00ZM95.45 414.00V398.10H96.42V414.00ZM96.42 414.00V399.10H97.38V414.00ZM97.38 414.00V399.93H98.35V414.00ZM98.35 414.00V401.44H99.31V414.00ZM99.31 414.00V402.31H100.27V414.00ZM100.27 414.00V403.23H101.24V414.00ZM101.24 414.00V404.25H102.20V414.00ZM102.20 414.00V405.51H103.17V414.00ZM103.17 414.00V406.57H104.13V414.00ZM104.13 414.00V407.41H105.09V414.00ZM105.09 414.00V408.16H106.06V414.00ZM106.06 414.00V409.02H107.02V414.00ZM107.02 414.00V409.59H107.99V414.00ZM107.99 414.00V409.94H108.95V414.00ZM108.95 414.00V410.21H109.92V414.00ZM109.92 414.00V410.61H110.88V414.00ZM110.88 414.00V410.89H111.84V414.00ZM111.84 414.00V411.26H112.81V414.00ZM112.81 414.00V411.43H113.77V414.00ZM113.77 414.00V411.60H114.74V414.00ZM114.74 414.00V411.84H115.70V414.00ZM115.70 414.00V411.98H116.66V414.00ZM116.66 414.00V412.11H117.63V414.00ZM117.63 414.00V412.32H118.59V414.00ZM118.59 414.00V412.47H119.56V414.00ZM119.56 414.00V412.60H120.52V414.00ZM120.52 414.00V412.71H121.48V414.00ZM121.48 414.00V412.84H122.45V414.00ZM122.45 414.00V412.96H123.41V414.00ZM123.41 414.00V413.11H124.38V414.00ZM124.38 414.00V413.26H125.34V414.00ZM125.34 414.00V413.28H126.30V414.00ZM126.30 414.00V413.30H127.27V414.00ZM127.27 414.00V413.30H128.23V414.00ZM128.23 414.00V413.33H129.20V414.00ZM129.20 414.00V413.31H130.16V414.00ZM130.16 414.00V413.34H131.13V414.00ZM131.13 414.00V413.32H132.09V414.00ZM132.09 414.00V413.34H133.05V414.00ZM133.05 414.00V413.36H134.02V414.00ZM134.02 414.00V413.37H134.98V414.00ZM134.98 414.00V413.38H135.95V414.00ZM135.95 414.00V413.37H136.91V414.00ZM136.91 414.00V413.37H137.87V414.00ZM137.87 414.00V413.40H138.84V414.00ZM138.84 414.00V413.41H139.80V414.00ZM139.80 414.00V413.40H140.77V414.00ZM140.77 414.00V413.41H141.73V414.00ZM141.73 414.00V413.42H142.69V414.00ZM142.69 414.00V413.43H143.66V414.00ZM143.66 414.00V413.42H144.62V414.00ZM144.62 414.00V413.44H145.59V414.00ZM145.59 414.00V413.44H146.55V414.00ZM146.55 414.00V413.44H147.51V414.00ZM147.51 414.00V413.43H148.48V414.00ZM148.48 414.00V413.44H149.44V414.00ZM149.44 414.00V413.44H150.41V414.00ZM150.41 414.00V413.46H151.37V414.00ZM151.37 414.00V413.47H152.34V414.00ZM152.34 414.00V413.47H153.30V414.00ZM153.30 414.00V413.45H154.26V414.00ZM154.26 414.00V413.47H155.23V414.00ZM155.23 414.00V413.48H156.19V414.00ZM156.19 414.00V413.50H157.16V414.00ZM157.16 414.00V413.49H158.12V414.00ZM158.12 414.00V413.49H159.08V414.00ZM159.08 414.00V413.50H160.05V414.00ZM160.05 414.00V413.51H161.01V414.00ZM161.01 414.00V413.50H161.98V414.00ZM161.98 414.00V413.50H162.94V414.00ZM162.94 414.00V413.52H163.90V414.00ZM163.90 414.00V413.53H164.87V414.00ZM164.87 414.00V413.54H165.83V414.00ZM165.83 414.00V413.59H166.80V414.00ZM166.80 414.00V413.63H167.76V414.00ZM167.76 414.00V413.68H168.73V414.00ZM168.73 414.00V413.72H169.69V414.00ZM169.69 414.00V413.76H170.65V414.00ZM170.65 414.00V413.76H171.62V414.00ZM171.62 414.00V413.77H172.58V414.00ZM172.58 414.00V413.75H173.55V414.00ZM173.55 414.00V413.76H174.51V414.00ZM174.51 414.00V413.76H175.47V414.00ZM175.47 414.00V413.77H176.44V414.00ZM176.44 414.00V413.77H177.40V414.00ZM177.40 414.00V413.76H178.37V414.00ZM178.37 414.00V413.76H179.33V414.00ZM179.33 414.00V413.75H180.29V414.00ZM180.29 414.00V413.76H181.26V414.00ZM181.26 414.00V413.77H182.22V414.00ZM182.22 414.00V413.77H183.19V414.00ZM183.19 414.00V413.76H184.15V414.00ZM184.15 414.00V413.76H185.11V414.00ZM185.11 414.00V413.75H186.08V414.00ZM186.08 414.00V413.85H187.04V414.00ZM187.04 414.00V413.10H188.01V414.00ZM188.01 414.00V412.46H188.97V414.00ZM188.97 414.00V412.07H189.94V414.00ZM189.94 414.00V411.86H190.90V414.00ZM190.90 414.00V411.57H191.86V414.00ZM191.86 414.00V411.39H192.83V414.00ZM192.83 414.00V411.37H193.79V414.00ZM193.79 414.00V411.32H194.76V414.00ZM194.76 414.00V411.35H195.72V414.00ZM195.72 414.00V411.41H196.68V414.00ZM196.68 414.00V411.40H197.65V414.00ZM197.65 414.00V411.38H198.61V414.00ZM198.61 414.00V411.08H199.58V414.00ZM199.58 414.00V410.71H200.54V414.00ZM200.54 414.00V410.15H201.50V414.00ZM201.50 414.00V409.82H202.47V414.00ZM202.47 414.00V409.81H203.43V414.00ZM203.43 414.00V409.44H204.40V414.00ZM204.40 414.00V409.33H205.36V414.00ZM205.36 414.00V409.09H206.32V414.00ZM206.32 414.00V408.58H207.29V414.00ZM207.29 414.00V408.11H208.25V414.00ZM208.25 414.00V407.80H209.22V414.00ZM209.22 414.00V408.22H210.18V414.00ZM210.18 414.00V408.72H211.15V414.00ZM211.15 414.00V408.99H212.11V414.00ZM212.11 414.00V409.24H213.07V414.00ZM213.07 414.00V408.99H214.04V414.00ZM214.04 414.00V409.12H215.00V414.00ZM215.00 414.00V408.29H215.97V414.00ZM215.97 414.00V407.32H216.93V414.00ZM216.93 414.00V406.51H217.89V414.00ZM217.89 414.00V405.83H218.86V414.00ZM218.86 414.00V405.20H219.82V414.00ZM219.82 414.00V404.60H220.79V414.00ZM220.79 414.00V405.32H221.75V414.00ZM221.75 414.00V405.29H222.71V414.00ZM222.71 414.00V404.63H223.68V414.00ZM223.68 414.00V403.70H224.64V414.00ZM224.64 414.00V403.63H225.61V414.00ZM225.61 414.00V404.41H226.57V414.00ZM226.57 414.00V404.35H227.54V414.00ZM227.54 414.00V402.77H228.50V414.00ZM228.50 414.00V401.46H229.46V414.00ZM229.46 414.00V400.79H230.43V414.00ZM230.43 414.00V401.05H231.39V414.00ZM231.39 414.00V401.29H232.36V414.00ZM232.36 414.00V400.89H233.32V414.00ZM233.32 414.00V401.80H234.28V414.00ZM234.28 414.00V401.76H235.25V414.00ZM235.25 414.00V400.91H236.21V414.00ZM236.21 414.00V400.62H237.18V414.00ZM237.18 414.00V400.09H238.14V414.00ZM238.14 414.00V401.06H239.10V414.00ZM239.10 414.00V402.72H240.07V414.00ZM240.07 414.00V403.09H241.03V414.00ZM241.03 414.00V402.92H242.00V414.00ZM242.00 414.00V403.32H242.96V414.00ZM242.96 414.00V403.61H243.92V414.00ZM243.92 414.00V404.03H244.89V414.00ZM244.89 414.00V403.84H245.85V414.00ZM245.85 414.00V404.01H246.82V414.00ZM246.82 414.00V404.44H247.78V414.00ZM247.78 414.00V404.57H248.75V414.00ZM248.75 414.00V405.74H249.71V414.00ZM249.71 414.00V406.30H250.67V414.00ZM250.67 414.00V406.79H251.64V414.00ZM251.64 414.00V406.78H252.60V414.00ZM252.60 414.00V406.97H253.57V414.00ZM253.57 414.00V407.38H254.53V414.00ZM254.53 414.00V407.23H255.49V414.00ZM255.49 414.00V406.95H256.46V414.00ZM256.46 414.00V406.72H257.42V414.00ZM257.42 414.00V406.43H258.39V414.00ZM258.39 414.00V407.10H259.35V414.00ZM259.35 414.00V407.19H260.31V414.00ZM260.31 414.00V407.56H261.28V414.00ZM261.28 414.00V407.60H262.24V414.00ZM262.24 414.00V406.28H263.21V414.00ZM263.21 414.00V405.02H264.17V414.00ZM264.17 414.00V404.06H265.13V414.00ZM265.13 414.00V403.93H266.10V414.00ZM266.10 414.00V403.77H267.06V414.00ZM267.06 414.00V403.20H268.03V414.00ZM268.03 414.00V402.36H268.99V414.00ZM268.99 414.00V400.98H269.96V414.00ZM269.96 414.00V399.14H270.92V414.00ZM270.92 414.00V397.68H271.88V414.00ZM271.88 414.00V396.00H272.85V414.00ZM272.85 414.00V394.21H273.81V414.00ZM273.81 414.00V391.94H274.78V414.00ZM274.78 414.00V390.62H275.74V414.00ZM275.74 414.00V388.02H276.70V414.00ZM276.70 414.00V386.44H277.67V414.00ZM277.67 414.00V384.84H278.63V414.00ZM278.63 414.00V384.72H279.60V414.00ZM279.60 414.00V384.90H280.56V414.00ZM280.56 414.00V385.31H281.52V414.00ZM281.52 414.00V384.97H282.49V414.00ZM282.49 414.00V383.09H283.45V414.00ZM283.45 414.00V381.88H284.42V414.00ZM284.42 414.00V380.63H285.38V414.00ZM285.38 414.00V378.98H286.35V414.00ZM286.35 414.00V377.44H287.31V414.00ZM287.31 414.00V376.52H288.27V414.00ZM288.27 414.00V377.30H289.24V414.00ZM289.24 414.00V378.14H290.20V414.00ZM290.20 414.00V377.26H291.17V414.00ZM291.17 414.00V378.35H292.13V414.00ZM292.13 414.00V378.03H293.09V414.00ZM293.09 414.00V379.52H294.06V414.00ZM294.06 414.00V379.84H295.02V414.00ZM295.02 414.00V380.83H295.99V414.00ZM295.99 414.00V381.01H296.95V414.00ZM296.95 414.00V382.49H297.91V414.00ZM297.91 414.00V383.13H298.88V414.00ZM298.88 414.00V383.84H299.84V414.00ZM299.84 414.00V384.61H300.81V414.00ZM300.81 414.00V384.19H301.77V414.00ZM301.77 414.00V385.24H302.73V414.00ZM302.73 414.00V385.80H303.70V414.00ZM303.70 414.00V385.89H304.66V414.00ZM304.66 414.00V385.22H305.63V414.00ZM305.63 414.00V386.11H306.59V414.00ZM306.59 414.00V386.71H307.56V414.00ZM307.56 414.00V386.27H308.52V414.00ZM308.52 414.00V386.88H309.48V414.00ZM309.48 414.00V386.78H310.45V414.00ZM310.45 414.00V388.43H311.41V414.00ZM311.41 414.00V388.33H312.38V414.00ZM312.38 414.00V388.67H313.34V414.00ZM313.34 414.00V389.47H314.30V414.00ZM314.30 414.00V390.21H315.27V414.00ZM315.27 414.00V392.24H316.23V414.00ZM316.23 414.00V392.73H317.20V414.00ZM317.20 414.00V393.76H318.16V414.00ZM318.16 414.00V394.45H319.12V414.00ZM319.12 414.00V394.33H320.09V414.00ZM320.09 414.00V395.58H321.05V414.00ZM321.05 414.00V396.01H322.02V414.00ZM322.02 414.00V397.39H322.98V414.00ZM322.98 414.00V397.69H323.94V414.00ZM323.94 414.00V398.75H324.91V414.00ZM324.91 414.00V399.57H325.87V414.00ZM325.87 414.00V399.78H326.84V414.00ZM326.84 414.00V400.32H327.80V414.00ZM327.80 414.00V401.63H328.77V414.00ZM328.77 414.00V400.79H329.73V414.00ZM329.73 414.00V400.27H330.69V414.00ZM330.69 414.00V400.12H331.66V414.00ZM331.66 414.00V399.51H332.62V414.00ZM332.62 414.00V399.26H333.59V414.00ZM333.59 414.00V399.05H334.55V414.00ZM334.55 414.00V398.85H335.51V414.00ZM335.51 414.00V398.38H336.48V414.00ZM336.48 414.00V398.17H337.44V414.00ZM337.44 414.00V398.44H338.41V414.00ZM338.41 414.00V398.47H339.37V414.00ZM339.37 414.00V397.55H340.33V414.00ZM340.33 414.00V396.55H341.30V414.00ZM341.30 414.00V396.44H342.26V414.00ZM342.26 414.00V394.06H343.23V414.00ZM343.23 414.00V391.93H344.19V414.00ZM344.19 414.00V388.81H345.15V414.00ZM345.15 414.00V387.86H346.12V414.00ZM346.12 414.00V387.29H347.08V414.00ZM347.08 414.00V385.96H348.05V414.00ZM348.05 414.00V384.20H349.01V414.00ZM349.01 414.00V382.63H349.98V414.00ZM349.98 414.00V381.16H350.94V414.00ZM350.94 414.00V380.61H351.90V414.00ZM351.90 414.00V379.16H352.87V414.00ZM352.87 414.00V377.60H353.83V414.00ZM353.83 414.00V378.13H354.80V414.00ZM354.80 414.00V378.71H355.76V414.00ZM355.76 414.00V377.46H356.72V414.00ZM356.72 414.00V375.28H357.69V414.00ZM357.69 414.00V374.95H358.65V414.00ZM358.65 414.00V374.01H359.62V414.00ZM359.62 414.00V373.77H360.58V414.00ZM360.58 414.00V373.15H361.54V414.00ZM361.54 414.00V372.12H362.51V414.00ZM362.51 414.00V371.55H363.47V414.00ZM363.47 414.00V372.71H364.44V414.00ZM364.44 414.00V373.20H365.40V414.00ZM365.40 414.00V372.70H366.37V414.00ZM366.37 414.00V376.34H367.33V414.00ZM367.33 414.00V379.75H368.29V414.00ZM368.29 414.00V380.58H369.26V414.00ZM369.26 414.00V383.37H370.22V414.00ZM370.22 414.00V384.66H371.19V414.00ZM371.19 414.00V384.99H372.15V414.00ZM372.15 414.00V384.04H373.11V414.00ZM373.11 414.00V384.54H374.08V414.00ZM374.08 414.00V386.28H375.04V414.00ZM375.04 414.00V387.81H376.01V414.00ZM376.01 414.00V388.19H376.97V414.00ZM376.97 414.00V388.18H377.93V414.00ZM377.93 414.00V387.95H378.90V414.00ZM378.90 414.00V389.35H379.86V414.00ZM379.86 414.00V389.46H380.83V414.00ZM380.83 414.00V390.69H381.79V414.00ZM381.79 414.00V391.35H382.75V414.00ZM382.75 414.00V392.40H383.72V414.00ZM383.72 414.00V392.79H384.68V414.00ZM384.68 414.00V391.33H385.65V414.00ZM385.65 414.00V389.60H386.61V414.00ZM386.61 414.00V389.81H387.58V414.00ZM387.58 414.00V390.19H388.54V414.00ZM388.54 414.00V390.68H389.50V414.00ZM389.50 414.00V391.40H390.47V414.00ZM390.47 414.00V392.90H391.43V414.00ZM391.43 414.00V393.48H392.40V414.00ZM392.40 414.00V394.41H393.36V414.00ZM393.36 414.00V396.33H394.32V414.00ZM394.32 414.00V398.74H395.29V414.00ZM395.29 414.00V400.06H396.25V414.00ZM396.25 414.00V400.29H397.22V414.00ZM397.22 414.00V401.66H398.18V414.00ZM398.18 414.00V400.79H399.14V414.00ZM399.14 414.00V400.53H400.11V414.00ZM400.11 414.00V399.88H401.07V414.00ZM401.07 414.00V401.20H402.04V414.00ZM402.04 414.00V401.52H403.00V414.00ZM403.00 414.00V402.71H403.96V414.00ZM403.96 414.00V402.06H404.93V414.00ZM404.93 414.00V401.17H405.89V414.00ZM405.89 414.00V400.62H406.86V414.00ZM406.86 414.00V401.95H407.82V414.00ZM407.82 414.00V402.78H408.79V414.00ZM408.79 414.00V403.53H409.75V414.00ZM409.75 414.00V403.02H410.71V414.00ZM410.71 414.00V402.64H411.68V414.00ZM411.68 414.00V402.35H412.64V414.00ZM412.64 414.00V402.94H413.61V414.00ZM413.61 414.00V403.37H414.57V414.00ZM414.57 414.00V404.00H415.53V414.00ZM415.53 414.00V404.95H416.50V414.00ZM416.50 414.00V405.12H417.46V414.00ZM417.46 414.00V403.88H418.43V414.00ZM418.43 414.00V403.19H419.39V414.00ZM419.39 414.00V401.49H420.35V414.00ZM420.35 414.00V401.22H421.32V414.00ZM421.32 414.00V400.07H422.28V414.00ZM422.28 414.00V400.57H423.25V414.00ZM423.25 414.00V400.97H424.21V414.00ZM424.21 414.00V400.26H425.18V414.00ZM425.18 414.00V399.08H426.14V414.00ZM426.14 414.00V399.80H427.10V414.00ZM427.10 414.00V400.88H428.07V414.00ZM428.07 414.00V401.65H429.03V414.00ZM429.03 414.00V401.64H430.00V414.00ZM430.00 414.00V401.40H430.96V414.00ZM430.96 414.00V401.49H431.92V414.00ZM431.92 414.00V400.26H432.89V414.00ZM432.89 414.00V399.57H433.85V414.00ZM433.85 414.00V399.01H434.82V414.00ZM434.82 414.00V398.40H435.78V414.00ZM435.78 414.00V398.30H436.74V414.00ZM436.74 414.00V398.52H437.71V414.00ZM437.71 414.00V398.56H438.67V414.00ZM438.67 414.00V398.05H439.64V414.00ZM439.64 414.00V398.16H440.60V414.00ZM440.60 414.00V397.83H441.56V414.00ZM441.56 414.00V397.20H442.53V414.00ZM442.53 414.00V397.22H443.49V414.00ZM443.49 414.00V396.40H444.46V414.00ZM444.46 414.00V395.87H445.42V414.00ZM445.42 414.00V395.93H446.39V414.00ZM446.39 414.00V394.12H447.35V414.00ZM447.35 414.00V393.60H448.31V414.00ZM448.31 414.00V393.59H449.28V414.00ZM449.28 414.00V394.50H450.24V414.00ZM450.24 414.00V395.76H451.21V414.00ZM451.21 414.00V394.91H452.17V414.00ZM452.17 414.00V392.86H453.13V414.00ZM453.13 414.00V391.58H454.10V414.00ZM454.10 414.00V391.48H455.06V414.00ZM455.06 414.00V393.39H456.03V414.00ZM456.03 414.00V393.35H456.99V414.00ZM456.99 414.00V392.77H457.95V414.00ZM457.95 414.00V392.57H458.92V414.00ZM458.92 414.00V391.92H459.88V414.00ZM459.88 414.00V393.49H460.85V414.00ZM460.85 414.00V393.45H461.81V414.00ZM461.81 414.00V394.96H462.77V414.00ZM462.77 414.00V395.44H463.74V414.00ZM463.74 414.00V396.49H464.70V414.00ZM464.70 414.00V398.23H465.67V414.00ZM465.67 414.00V398.28H466.63V414.00ZM466.63 414.00V398.76H467.60V414.00ZM467.60 414.00V400.11H468.56V414.00ZM468.56 414.00V400.58H469.52V414.00ZM469.52 414.00V401.01H470.49V414.00ZM470.49 414.00V403.72H471.45V414.00ZM471.45 414.00V405.60H472.42V414.00ZM472.42 414.00V405.71H473.38V414.00ZM473.38 414.00V405.05H474.34V414.00ZM474.34 414.00V406.01H475.31V414.00ZM475.31 414.00V406.63H476.27V414.00ZM476.27 414.00V407.26H477.24V414.00ZM477.24 414.00V408.24H478.20V414.00ZM478.20 414.00V408.92H479.16V414.00ZM479.16 414.00V409.07H480.13V414.00ZM480.13 414.00V409.15H481.09V414.00ZM481.09 414.00V409.18H482.06V414.00ZM482.06 414.00V409.09H483.02V414.00ZM483.02 414.00V409.05H483.99V414.00ZM483.99 414.00V408.64H484.95V414.00ZM484.95 414.00V408.47H485.91V414.00ZM485.91 414.00V408.14H486.88V414.00ZM486.88 414.00V408.14H487.84V414.00ZM487.84 414.00V408.40H488.81V414.00ZM488.81 414.00V409.45H489.77V414.00ZM489.77 414.00V410.20H490.73V414.00ZM490.73 414.00V410.31H491.70V414.00ZM491.70 414.00V410.10H492.66V414.00ZM492.66 414.00V409.70H493.63V414.00ZM493.63 414.00V409.51H494.59V414.00ZM494.59 414.00V409.22H495.55V414.00ZM495.55 414.00V409.13H496.52V414.00ZM496.52 414.00V409.55H497.48V414.00ZM497.48 414.00V409.51H498.45V414.00ZM498.45 414.00V409.81H499.41V414.00ZM499.41 414.00V410.12H500.37V414.00ZM500.37 414.00V410.33H501.34V414.00ZM501.34 414.00V410.73H502.30V414.00ZM502.30 414.00V410.89H503.27V414.00ZM503.27 414.00V411.01H504.23V414.00ZM504.23 414.00V410.90H505.20V414.00ZM505.20 414.00V410.67H506.16V414.00ZM506.16 414.00V410.58H507.12V414.00ZM507.12 414.00V410.58H508.09V414.00ZM508.09 414.00V410.46H509.05V414.00ZM509.05 414.00V410.61H510.02V414.00ZM510.02 414.00V410.45H510.98V414.00ZM510.98 414.00V410.57H511.94V414.00ZM511.94 414.00V410.10H512.91V414.00ZM512.91 414.00V409.29H513.87V414.00ZM513.87 414.00V408.34H514.84V414.00ZM514.84 414.00V406.98H515.80V414.00ZM515.80 414.00V405.83H516.76V414.00ZM516.76 414.00V405.35H517.73V414.00ZM517.73 414.00V405.21H518.69V414.00ZM518.69 414.00V405.02H519.66V414.00ZM519.66 414.00V404.55H520.62V414.00ZM520.62 414.00V404.39H521.58V414.00ZM521.58 414.00V404.08H522.55V414.00ZM522.55 414.00V403.36H523.51V414.00ZM523.51 414.00V403.19H524.48V414.00ZM524.48 414.00V402.48H525.44V414.00ZM525.44 414.00V401.30H526.41V414.00ZM526.41 414.00V400.75H527.37V414.00ZM527.37 414.00V399.75H528.33V414.00ZM528.33 414.00V398.67H529.30V414.00ZM529.30 414.00V398.39H530.26V414.00ZM530.26 414.00V397.65H531.23V414.00ZM531.23 414.00V397.13H532.19V414.00ZM532.19 414.00V395.94H533.15V414.00ZM533.15 414.00V395.11H534.12V414.00ZM534.12 414.00V394.88H535.08V414.00ZM535.08 414.00V393.81H536.05V414.00ZM536.05 414.00V394.05H537.01V414.00ZM537.01 414.00V395.02H537.97V414.00ZM537.97 414.00V394.47H538.94V414.00ZM538.94 414.00V395.42H539.90V414.00ZM539.90 414.00V395.68H540.87V414.00ZM540.87 414.00V396.27H541.83V414.00ZM541.83 414.00V396.65H542.80V414.00ZM542.80 414.00V396.71H543.76V414.00ZM543.76 414.00V396.40H544.72V414.00ZM544.72 414.00V396.40H545.69V414.00ZM545.69 414.00V396.23H546.65V414.00ZM546.65 414.00V396.27H547.62V414.00ZM547.62 414.00V395.34H548.58V414.00ZM548.58 414.00V395.46H549.54V414.00ZM549.54 414.00V396.01H550.51V414.00ZM550.51 414.00V396.00H551.47V414.00ZM551.47 414.00V396.31H552.44V414.00ZM552.44 414.00V395.63H553.40V414.00ZM553.40 414.00V395.68H554.36V414.00ZM554.36 414.00V396.68H555.33V414.00ZM555.33 414.00V397.23H556.29V414.00ZM556.29 414.00V398.82H557.26V414.00ZM557.26 414.00V398.68H558.22V414.00ZM558.22 414.00V399.12H559.18V414.00ZM559.18 414.00V399.19H560.15V414.00ZM560.15 414.00V398.87H561.11V414.00ZM561.11 414.00V397.70H562.08V414.00ZM562.08 414.00V398.76H563.04V414.00ZM563.04 414.00V399.17H564.01V414.00ZM564.01 414.00V399.77H564.97V414.00ZM564.97 414.00V401.34H565.93V414.00ZM565.93 414.00V401.69H566.90V414.00ZM566.90 414.00V401.10H567.86V414.00ZM567.86 414.00V400.91H568.83V414.00ZM568.83 414.00V402.39H569.79V414.00ZM569.79 414.00V404.32H570.75V414.00ZM570.75 414.00V405.19H571.72V414.00ZM571.72 414.00V405.41H572.68V414.00ZM572.68 414.00V405.70H573.65V414.00ZM573.65 414.00V406.12H574.61V414.00ZM574.61 414.00V406.05H575.57V414.00ZM575.57 414.00V406.44H576.54V414.00ZM576.54 414.00V406.77H577.50V414.00ZM577.50 414.00V407.33H578.47V414.00ZM578.47 414.00V407.25H579.43V414.00ZM579.43 414.00V407.56H580.39V414.00ZM580.39 414.00V407.93H581.36V414.00ZM581.36 414.00V408.10H582.32V414.00ZM582.32 414.00V408.21H583.29V414.00ZM583.29 414.00V407.97H584.25V414.00ZM584.25 414.00V407.69H585.22V414.00ZM585.22 414.00V407.58H586.18V414.00ZM586.18 414.00V407.98H587.14V414.00ZM587.14 414.00V408.19H588.11V414.00ZM588.11 414.00V408.25H589.07V414.00ZM589.07 414.00V408.27H590.04V414.00ZM590.04 414.00V408.22H591.00V414.00Z" fill="#94b1d7"/>
<path d="M55.44 414.00V412.54M57.37 414.00V409.64M60.26 414.00V394.01M62.19 414.00V379.99M65.08 414.00V365.48M67.01 414.00V364.03M69.90 414.00V365.07M71.83 414.00V365.26M74.73 414.00V366.72M76.65 414.00V370.22M79.55 414.00V374.91M81.47 414.00V376.32M84.37 414.00V378.62M86.29 414.00V382.09M89.19 414.00V387.68M91.12 414.00V390.05M94.01 414.00V395.03M95.94 414.00V398.60M98.83 414.00V401.94M100.76 414.00V403.73M103.65 414.00V407.07M105.58 414.00V408.66M108.47 414.00V410.44M110.40 414.00V411.11M113.29 414.00V411.93M115.22 414.00V412.34M118.11 414.00V412.82M190.42 414.00V412.36M192.35 414.00V411.89M195.24 414.00V411.85M197.17 414.00V411.90M200.06 414.00V411.21M201.99 414.00V410.32M204.88 414.00V409.83M206.81 414.00V409.08M209.70 414.00V408.72M211.63 414.00V409.49M214.52 414.00V409.62M216.45 414.00V407.82M219.34 414.00V405.70M221.27 414.00V405.82M224.16 414.00V404.20M226.09 414.00V404.91M228.98 414.00V401.96M230.91 414.00V401.55M233.80 414.00V402.30M235.73 414.00V401.41M238.62 414.00V401.56M240.55 414.00V403.59M243.44 414.00V404.11M245.37 414.00V404.34M248.26 414.00V405.07M250.19 414.00V406.80M253.08 414.00V407.47M255.01 414.00V407.73M257.90 414.00V406.93M259.83 414.00V407.69M262.72 414.00V406.78M264.65 414.00V404.56M267.55 414.00V403.70M269.47 414.00V401.48M272.37 414.00V396.50M274.29 414.00V392.44M277.19 414.00V386.94M279.11 414.00V385.22M282.01 414.00V385.47M283.93 414.00V382.38M286.83 414.00V377.94M288.76 414.00V377.80M291.65 414.00V378.85M293.58 414.00V380.02M296.47 414.00V381.51M298.40 414.00V383.63M301.29 414.00V384.69M303.22 414.00V386.30M306.11 414.00V386.61M308.04 414.00V386.77M310.93 414.00V388.93M312.86 414.00V389.17M315.75 414.00V392.74M317.68 414.00V394.26M320.57 414.00V396.08M322.50 414.00V397.89M325.39 414.00V400.07M327.32 414.00V400.82M330.21 414.00V400.77M332.14 414.00V400.01M335.03 414.00V399.35M336.96 414.00V398.67M339.85 414.00V398.05M341.78 414.00V396.94M344.67 414.00V389.31M346.60 414.00V387.79M349.49 414.00V383.13M351.42 414.00V381.11M354.31 414.00V378.63M356.24 414.00V377.96M359.13 414.00V374.51M361.06 414.00V373.65M363.95 414.00V373.21M365.88 414.00V373.20M368.78 414.00V381.08M370.70 414.00V385.16M373.60 414.00V385.04M375.52 414.00V388.31M378.42 414.00V388.45M380.34 414.00V389.96M383.24 414.00V392.90M385.17 414.00V391.83M388.06 414.00V390.69M389.99 414.00V391.90M392.88 414.00V394.91M394.81 414.00V399.24M397.70 414.00V402.16M399.63 414.00V401.03M402.52 414.00V402.02M404.45 414.00V402.56M407.34 414.00V402.45M409.27 414.00V404.03M412.16 414.00V402.85M414.09 414.00V403.87M416.98 414.00V405.62M418.91 414.00V403.69M421.80 414.00V400.57M423.73 414.00V401.47M426.62 414.00V400.30M428.55 414.00V402.15M431.44 414.00V401.99M433.37 414.00V400.07M436.26 414.00V398.80M438.19 414.00V399.06M441.08 414.00V398.33M443.01 414.00V397.72M445.90 414.00V396.43M447.83 414.00V394.10M450.72 414.00V396.26M452.65 414.00V393.36M455.54 414.00V393.89M457.47 414.00V393.27M460.36 414.00V393.99M462.29 414.00V395.46M465.19 414.00V398.73M467.11 414.00V399.26M470.01 414.00V401.51M471.93 414.00V406.10M474.83 414.00V406.51M476.75 414.00V407.76M479.65 414.00V409.57M481.57 414.00V409.68M484.47 414.00V409.14M486.40 414.00V408.64M489.29 414.00V409.95M491.22 414.00V410.81M494.11 414.00V410.01M496.04 414.00V409.63M498.93 414.00V410.31M500.86 414.00V410.83M503.75 414.00V411.51M505.68 414.00V411.17M508.57 414.00V410.96M510.50 414.00V410.95M513.39 414.00V409.79M515.32 414.00V407.48M518.21 414.00V405.71M520.14 414.00V405.05M523.03 414.00V403.86M524.96 414.00V402.98M527.85 414.00V400.25M529.78 414.00V398.89M532.67 414.00V396.44M534.60 414.00V395.38M537.49 414.00V395.52M539.42 414.00V395.92M542.31 414.00V397.15M544.24 414.00V396.90M547.13 414.00V396.77M549.06 414.00V395.96M551.95 414.00V396.81M553.88 414.00V396.18M556.77 414.00V399.32M558.70 414.00V399.62M561.60 414.00V398.20M563.52 414.00V399.67M566.42 414.00V402.19M568.34 414.00V401.41M571.24 414.00V405.69M573.16 414.00V406.20M576.06 414.00V406.94M577.98 414.00V407.83M580.88 414.00V408.43M582.81 414.00V408.71M585.70 414.00V408.08M587.63 414.00V408.69M590.52 414.00V408.72" stroke="#7c93b8" stroke-opacity="0.30" stroke-width="0.5" fill="none"/>
<text transform="translate(43.58,429.90) rotate(-59.5)" font-size="9.45" fill="#727272" text-anchor="end">29/02/2020</text>
<text transform="translate(58.04,429.90) rotate(-59.5)" font-size="9.45" fill="#727272" text-anchor="end">15/03/2020</text>
<text transform="translate(72.50,429.90) rotate(-59.5)" font-size="9.45" fill="#727272" text-anchor="end">30/03/2020</text>
<text transform="translate(86.97,429.90) rotate(-59.5)" font-size="9.45" fill="#727272" text-anchor="end">14/04/2020</text>
<text transform="translate(101.43,429.90) rotate(-59.5)" font-size="9.45" fill="#727272" text-anchor="end">29/04/2020</text>
<text transform="translate(115.89,429.90) rotate(-59.5)" font-size="9.45" fill="#727272" text-anchor="end">14/05/2020</text>
<text transform="translate(130.35,429.90) rotate(-59.5)" font-size="9.45" fill="#727272" text-anchor="end">29/05/2020</text>
<text transform="translate(144.81,429.90) rotate(-59.5)" font-size="9.45" fill="#727272" text-anchor="end">13/06/2020</text>
<text transform="translate(159.27,429.90) rotate(-59.5)" font-size="9.45" fill="#727272" text-anchor="end">28/06/2020</text>
<text transform="translate(173.74,429.90) rotate(-59.5)" font-size="9.45" fill="#727272" text-anchor="end">13/07/2020</text>
<text transform="translate(188.20,429.90) rotate(-59.5)" font-size="9.45" fill="#727272" text-anchor="end">28/07/2020</text>
<text transform="translate(202.66,429.90) rotate(-59.5)" font-size="9.45" fill="#727272" text-anchor="end">12/08/2020</text>
<text transform="translate(217.12,429.90) rotate(-59.5)" font-size="9.45" fill="#727272" text-anchor="end">27/08/2020</text>
<text transform="translate(231.58,429.90) rotate(-59.5)" font-size="9.45" fill="#727272" text-anchor="end">11/09/2020</text>
<text transform="translate(246.04,429.90) rotate(-59.5)" font-size="9.45" fill="#727272" text-anchor="end">26/09/2020</text>
<text transform="translate(260.50,429.90) rotate(-59.5)" font-size="9.45" fill="#727272" text-anchor="end">11/10/2020</text>
<text transform="translate(274.97,429.90) rotate(-59.5)" font-size="9.45" fill="#727272" text-anchor="end">26/10/2020</text>
<text transform="translate(289.43,429.90) rotate(-59.5)" font-size="9.45" fill="#727272" text-anchor="end">10/11/2020</text>
<text transform="translate(303.89,429.90) rotate(-59.5)" font-size="9.45" fill="#727272" text-anchor="end">25/11/2020</text>
<text transform="translate(318.35,429.90) rotate(-59.5)" font-size="9.45" fill="#727272" text-anchor="end">10/12/2020</text>
<text transform="translate(332.81,429.90) rotate(-59.5)" font-size="9.45" fill="#727272" text-anchor="end">25/12/2020</text>
<text transform="translate(347.27,429.90) rotate(-59.5)" font-size="9.45" fill="#727272" text-anchor="end">09/01/2021</text>
<text transform="translate(361.73,429.90) rotate(-59.5)" font-size="9.45" fill="#727272" text-anchor="end">24/01/2021</text>
<text transform="translate(376.20,429.90) rotate(-59.5)" font-size="9.45" fill="#727272" text-anchor="end">08/02/2021</text>
<text transform="translate(390.66,429.90) rotate(-59.5)" font-size="9.45" fill="#727272" text-anchor="end">23/02/2021</text>
<text transform="translate(405.12,429.90) rotate(-59.5)" font-size="9.45" fill="#727272" text-anchor="end">10/03/2021</text>
<text transform="translate(419.58,429.90) rotate(-59.5)" font-size="9.45" fill="#727272" text-anchor="end">25/03/2021</text>
<text transform="translate(434.04,429.90) rotate(-59.5)" font-size="9.45" fill="#727272" text-anchor="end">09/04/2021</text>
<text transform="translate(448.50,429.90) rotate(-59.5)" font-size="9.45" fill="#727272" text-anchor="end">24/04/2021</text>
<text transform="translate(462.96,429.90) rotate(-59.5)" font-size="9.45" fill="#727272" text-anchor="end">09/05/2021</text>
<text transform="translate(477.43,429.90) rotate(-59.5)" font-size="9.45" fill="#727272" text-anchor="end">24/05/2021</text>
<text transform="translate(491.89,429.90) rotate(-59.5)" font-size="9.45" fill="#727272" text-anchor="end">08/06/2021</text>
<text transform="translate(506.35,429.90) rotate(-59.5)" font-size="9.45" fill="#727272" text-anchor="end">23/06/2021</text>
<text transform="translate(520.81,429.90) rotate(-59.5)" font-size="9.45" fill="#727272" text-anchor="end">08/07/2021</text>
<text transform="translate(535.27,429.90) rotate(-59.5)" font-size="9.45" fill="#727272" text-anchor="end">23/07/2021</text>
<text transform="translate(549.73,429.90) rotate(-59.5)" font-size="9.45" fill="#727272" text-anchor="end">07/08/2021</text>
<text transform="translate(564.20,429.90) rotate(-59.5)" font-size="9.45" fill="#727272" text-anchor="end">22/08/2021</text>
<text transform="translate(578.66,429.90) rotate(-59.5)" font-size="9.45" fill="#727272" text-anchor="end">06/09/2021</text>
<text transform="translate(593.12,429.90) rotate(-59.5)" font-size="9.45" fill="#727272" text-anchor="end">21/09/2021</text>
<text x="4.2" y="512.3" font-size="13" fill="#6a97c9" textLength="457.0" lengthAdjust="spacing" xml:space="preserve">Incidencia acumulada por 100.000 habitantes por 14 días (IA 14d) de Cantabria</text>
<line x1="40" x2="591.5" y1="542.30" y2="542.30" stroke="#dcdcdc" stroke-width="1"/>
<text x="30.6" y="546.20" font-size="10" fill="#727272" text-anchor="end">800</text>
<line x1="40" x2="591.5" y1="572.25" y2="572.25" stroke="#dcdcdc" stroke-width="1"/>
<text x="30.6" y="576.15" font-size="10" fill="#727272" text-anchor="end">600</text>
<line x1="40" x2="591.5" y1="602.20" y2="602.20" stroke="#dcdcdc" stroke-width="1"/>
<text x="30.6" y="606.10" font-size="10" fill="#727272" text-anchor="end">400</text>
<line x1="40" x2="591.5" y1="632.15" y2="632.15" stroke="#dcdcdc" stroke-width="1"/>
<text x="30.6" y="636.05" font-size="10" fill="#727272" text-anchor="end">200</text>
<line x1="40" x2="591.5" y1="662.10" y2="662.10" stroke="#dcdcdc" stroke-width="1"/>
<text x="30.6" y="666.00" font-size="10" fill="#727272" text-anchor="end">0</text>
<polyline fill="none" stroke="#eef0f7" stroke-width="3.4" stroke-linejoin="round" points="38.00,662.10 38.97,662.10 39.94,662.10 40.92,662.10 41.89,662.10 42.86,662.10 43.83,662.10 44.80,662.10 45.77,662.10 46.75,662.10 47.72,662.10 48.69,662.10 49.66,662.06 50.63,661.95 51.60,661.77 52.58,661.42 53.55,660.97 54.52,660.32 55.49,659.49 56.46,658.47 57.43,657.34 58.41,656.08 59.38,654.82 60.35,653.20 61.32,650.94 62.29,648.69 63.26,646.33 64.24,643.80 65.21,641.30 66.18,638.85 67.15,636.62 68.12,634.63 69.09,633.01 70.07,631.75 71.04,630.50 72.01,630.02 72.98,630.24 73.95,631.03 74.92,632.49 75.90,633.94 76.87,635.66 77.84,637.65 78.81,639.25 79.78,640.50 80.76,641.76 81.73,643.01 82.70,644.26 83.67,645.50 84.64,646.46 85.61,647.26 86.59,648.06 87.56,648.86 88.53,649.41 89.50,649.75 90.47,650.10 91.44,650.44 92.42,650.85 93.39,651.30 94.36,651.75 95.33,652.20 96.30,652.67 97.27,653.15 98.25,653.64 99.22,654.12 100.19,654.61 101.16,655.11 102.13,655.61 103.10,656.11 104.08,656.70 105.05,657.34 106.02,657.97 106.99,658.60 107.96,659.13 108.93,659.60 109.91,660.07 110.88,660.54 111.85,660.67 112.82,660.74 113.79,660.81 114.76,660.88 115.74,660.96 116.71,661.03 117.68,661.06 118.65,661.08 119.62,661.09 120.59,661.11 121.57,661.12 122.54,661.14 123.51,661.15 124.48,661.17 125.45,661.18 126.43,661.20 127.40,661.21 128.37,661.21 129.34,661.22 130.31,661.23 131.28,661.23 132.26,661.24 133.23,661.24 134.20,661.25 135.17,661.26 136.14,661.26 137.11,661.27 138.09,661.28 139.06,661.28 140.03,661.29 141.00,661.29 141.97,661.30 142.94,661.31 143.92,661.31 144.89,661.32 145.86,661.33 146.83,661.33 147.80,661.34 148.77,661.34 149.75,661.35 150.72,661.35 151.69,661.35 152.66,661.35 153.63,661.35 154.60,661.35 155.58,661.35 156.55,661.35 157.52,661.35 158.49,661.35 159.46,661.35 160.43,661.35 161.41,661.35 162.38,661.35 163.35,661.35 164.32,661.35 165.29,661.35 166.27,661.35 167.24,661.35 168.21,661.35 169.18,661.35 170.15,661.34 171.12,661.33 172.10,661.31 173.07,661.30 174.04,661.28 175.01,661.27 175.98,661.26 176.95,661.24 177.93,661.23 178.90,661.22 179.87,661.20 180.84,661.10 181.81,660.98 182.78,660.85 183.76,660.73 184.73,660.61 185.70,660.18 186.67,659.72 187.64,659.26 188.61,658.80 189.59,658.31 190.56,657.83 191.53,657.34 192.50,656.86 193.47,656.28 194.44,655.71 195.42,655.13 196.39,654.55 197.36,653.93 198.33,652.63 199.30,651.32 200.27,650.07 201.25,649.36 202.22,648.66 203.19,647.96 204.16,647.26 205.13,646.55 206.10,645.83 207.08,644.90 208.05,643.97 209.02,643.04 209.99,642.11 210.96,641.19 211.94,640.25 212.91,639.30 213.88,638.35 214.85,637.39 215.82,636.44 216.79,635.49 217.77,634.50 218.74,633.37 219.71,632.25 220.68,631.12 221.65,629.99 222.62,628.86 223.60,627.69 224.57,626.39 225.54,625.09 226.51,623.85 227.48,622.84 228.45,621.84 229.43,621.07 230.40,621.07 231.37,621.07 232.34,621.41 233.31,622.38 234.28,623.35 235.26,624.45 236.23,625.90 237.20,627.36 238.17,628.81 239.14,630.32 240.11,632.00 241.09,633.68 242.06,635.36 243.03,636.93 244.00,638.16 244.97,639.38 245.94,640.61 246.92,641.67 247.89,642.37 248.86,643.08 249.83,643.79 250.80,644.40 251.78,644.80 252.75,645.19 253.72,645.59 254.69,645.98 255.66,646.15 256.63,645.95 257.61,645.75 258.58,645.47 259.55,645.07 260.52,644.26 261.49,643.11 262.46,641.95 263.44,640.19 264.41,637.93 265.38,635.67 266.35,632.85 267.32,629.59 268.29,626.32 269.27,623.47 270.24,620.91 271.21,618.35 272.18,615.95 273.15,613.64 274.12,611.33 275.10,609.05 276.07,606.79 277.04,604.54 278.01,602.69 278.98,601.08 279.95,599.48 280.93,597.64 281.90,595.69 282.87,593.73 283.84,591.97 284.81,590.30 285.78,588.64 286.76,587.29 287.73,586.03 288.70,584.77 289.67,583.72 290.64,582.77 291.61,581.81 292.59,581.00 293.56,580.24 294.53,579.86 295.50,581.88 296.47,583.91 297.45,587.02 298.42,590.47 299.39,593.83 300.36,597.18 301.33,599.93 302.30,602.49 303.28,605.05 304.25,607.38 305.22,609.64 306.19,611.90 307.16,613.41 308.13,614.71 309.11,616.02 310.08,617.09 311.05,618.12 312.02,619.14 312.99,620.16 313.96,621.11 314.94,622.05 315.91,623.00 316.88,623.95 317.85,625.34 318.82,626.79 319.79,628.25 320.77,629.70 321.74,630.99 322.71,632.24 323.68,633.49 324.65,634.53 325.62,635.53 326.60,636.54 327.57,637.09 328.54,637.58 329.51,638.08 330.48,638.58 331.45,638.59 332.43,638.59 333.40,638.59 334.37,638.59 335.34,637.62 336.31,636.61 337.29,635.61 338.26,634.01 339.23,632.41 340.20,630.80 341.17,628.78 342.14,626.75 343.12,624.78 344.09,623.23 345.06,621.67 346.03,620.12 347.00,618.51 347.97,616.91 348.95,615.30 349.92,613.64 350.89,611.99 351.86,610.34 352.83,608.73 353.80,607.12 354.78,605.55 355.75,604.40 356.72,603.25 357.69,602.18 358.66,601.93 359.63,601.67 360.61,601.46 361.58,601.56 362.55,601.66 363.52,601.83 364.49,602.48 365.46,603.14 366.44,603.91 367.41,605.41 368.38,606.92 369.35,608.52 370.32,610.65 371.29,612.78 372.27,614.85 373.24,616.74 374.21,618.63 375.18,620.50 376.15,622.25 377.12,624.01 378.10,625.75 379.07,627.40 380.04,629.05 381.01,630.70 381.98,632.08 382.96,633.05 383.93,634.02 384.90,634.99 385.87,635.89 386.84,636.65 387.81,637.42 388.79,638.18 389.76,638.92 390.73,639.63 391.70,640.34 392.67,641.05 393.64,641.73 394.62,642.38 395.59,643.03 396.56,643.68 397.53,644.25 398.50,644.73 399.47,645.22 400.45,645.70 401.42,646.03 402.39,646.21 403.36,646.40 404.33,646.59 405.30,646.76 406.28,646.91 407.25,647.06 408.22,647.21 409.19,647.27 410.16,647.27 411.13,647.27 412.11,647.27 413.08,647.19 414.05,647.04 415.02,646.89 415.99,646.74 416.96,646.48 417.94,646.13 418.91,645.79 419.88,645.44 420.85,644.99 421.82,644.50 422.80,644.00 423.77,643.50 424.74,643.02 425.71,642.55 426.68,642.08 427.65,641.60 428.63,641.02 429.60,640.36 430.57,639.71 431.54,639.06 432.51,638.29 433.48,637.47 434.46,636.65 435.43,635.82 436.40,634.91 437.37,633.96 438.34,633.00 439.31,631.79 440.29,630.49 441.26,629.18 442.23,628.14 443.20,627.19 444.17,626.23 445.14,625.51 446.12,624.86 447.09,624.21 448.06,623.79 449.03,623.44 450.00,623.09 450.97,623.14 451.95,623.30 452.92,623.45 453.89,624.22 454.86,625.04 455.83,625.87 456.80,627.09 457.78,628.40 458.75,629.70 459.72,631.26 460.69,632.86 461.66,634.47 462.63,635.82 463.61,637.12 464.58,638.43 465.55,639.69 466.52,640.94 467.49,642.20 468.47,643.49 469.44,644.80 470.41,646.10 471.38,646.68 472.35,647.18 473.32,647.67 474.30,648.17 475.27,648.35 476.24,648.53 477.21,648.71 478.18,648.89 479.15,649.07 480.13,649.23 481.10,649.30 482.07,649.38 483.04,649.45 484.01,649.52 484.98,649.59 485.96,649.67 486.93,649.77 487.90,649.88 488.87,649.99 489.84,650.10 490.81,650.31 491.79,650.53 492.76,650.76 493.73,650.98 494.70,651.24 495.67,651.51 496.64,651.78 497.62,652.04 498.59,651.20 499.56,650.24 500.53,649.29 501.50,648.01 502.47,646.70 503.45,645.40 504.42,643.06 505.39,640.66 506.36,637.81 507.33,634.90 508.31,631.91 509.28,628.93 510.25,626.09 511.22,623.25 512.19,620.34 513.16,617.43 514.14,613.75 515.11,610.03 516.08,606.32 517.05,602.63 518.02,599.36 518.99,596.08 519.97,593.09 520.94,590.11 521.91,587.27 522.88,584.44 523.85,582.09 524.82,579.75 525.80,577.45 526.77,575.49 527.74,573.53 528.71,571.58 529.68,569.68 530.65,567.77 531.63,565.80 532.60,563.40 533.57,560.99 534.54,558.54 535.51,556.28 536.48,555.46 537.46,555.68 538.43,557.07 539.40,558.53 540.37,560.52 541.34,562.60 542.31,565.18 543.29,567.70 544.26,570.02 545.23,572.44 546.20,575.14 547.17,578.52 548.14,581.83 549.12,583.78 550.09,585.74 551.06,587.64 552.03,589.24 553.00,590.85 553.98,592.39 554.95,593.61 555.92,594.84 556.89,596.06 557.86,597.35 558.83,598.81 559.81,600.26 560.78,601.72 561.75,603.17 562.72,604.63 563.69,606.13 564.66,607.77 565.64,609.40 566.61,611.03 567.58,612.66 568.55,614.29 569.52,615.91 570.49,617.52 571.47,619.12 572.44,620.73 573.41,622.33 574.38,623.94 575.35,625.49 576.32,626.95 577.30,628.40 578.27,629.86 579.24,631.31 580.21,632.77 581.18,634.16 582.15,635.47 583.13,636.77 584.10,638.08 585.07,639.38 586.04,640.68 587.01,641.89 587.98,642.98 588.96,644.06 589.93,645.14 590.90,646.23"/>
<circle cx="38.00" cy="662.10" r="2.5" fill="#ffffff" fill-opacity="0.82" stroke="#6590c8" stroke-opacity="0.01" stroke-width="1"/>
<circle cx="38.97" cy="662.10" r="2.5" fill="#ffffff" fill-opacity="0.82" stroke="#6590c8" stroke-opacity="0.01" stroke-width="1"/>
<circle cx="39.94" cy="662.10" r="2.5" fill="#ffffff" fill-opacity="0.82" stroke="#6590c8" stroke-opacity="0.01" stroke-width="1"/>
<circle cx="40.92" cy="662.10" r="2.5" fill="#ffffff" fill-opacity="0.82" stroke="#6590c8" stroke-opacity="0.01" stroke-width="1"/>
<circle cx="41.89" cy="662.10" r="2.5" fill="#ffffff" fill-opacity="0.82" stroke="#6590c8" stroke-opacity="0.01" stroke-width="1"/>
<circle cx="42.86" cy="662.10" r="2.5" fill="#ffffff" fill-opacity="0.82" stroke="#6590c8" stroke-opacity="0.01" stroke-width="1"/>
<circle cx="43.83" cy="662.10" r="2.5" fill="#ffffff" fill-opacity="0.82" stroke="#6590c8" stroke-opacity="0.01" stroke-width="1"/>
<circle cx="44.80" cy="662.10" r="2.5" fill="#ffffff" fill-opacity="0.82" stroke="#6590c8" stroke-opacity="0.01" stroke-width="1"/>
<circle cx="45.77" cy="662.10" r="2.5" fill="#ffffff" fill-opacity="0.82" stroke="#6590c8" stroke-opacity="0.01" stroke-width="1"/>
<circle cx="46.75" cy="662.10" r="2.5" fill="#ffffff" fill-opacity="0.82" stroke="#6590c8" stroke-opacity="0.01" stroke-width="1"/>
<circle cx="47.72" cy="662.10" r="2.5" fill="#ffffff" fill-opacity="0.82" stroke="#6590c8" stroke-opacity="0.01" stroke-width="1"/>
<circle cx="48.69" cy="662.10" r="2.5" fill="#ffffff" fill-opacity="0.82" stroke="#6590c8" stroke-opacity="0.01" stroke-width="1"/>
<circle cx="49.66" cy="662.06" r="2.5" fill="#ffffff" fill-opacity="0.82" stroke="#6590c8" stroke-opacity="0.01" stroke-width="1"/>
<circle cx="50.63" cy="661.95" r="2.5" fill="#ffffff" fill-opacity="0.82" stroke="#6590c8" stroke-opacity="0.01" stroke-width="1"/>
<circle cx="51.60" cy="661.77" r="2.5" fill="#ffffff" fill-opacity="0.82" stroke="#6590c8" stroke-opacity="0.01" stroke-width="1"/>
<circle cx="52.58" cy="661.42" r="2.5" fill="#ffffff" fill-opacity="0.82" stroke="#6590c8" stroke-opacity="0.04" stroke-width="1"/>
<circle cx="53.55" cy="660.97" r="2.5" fill="#ffffff" fill-opacity="0.82" stroke="#6590c8" stroke-opacity="0.08" stroke-width="1"/>
<circle cx="54.52" cy="660.32" r="2.5" fill="#ffffff" fill-opacity="0.82" stroke="#6590c8" stroke-opacity="0.16" stroke-width="1"/>
<circle cx="55.49" cy="659.49" r="2.5" fill="#ffffff" fill-opacity="0.82" stroke="#6590c8" stroke-opacity="0.25" stroke-width="1"/>
<circle cx="56.46" cy="658.47" r="2.5" fill="#ffffff" fill-opacity="0.82" stroke="#6590c8" stroke-opacity="0.36" stroke-width="1"/>
<circle cx="57.43" cy="657.34" r="2.5" fill="#ffffff" fill-opacity="0.82" stroke="#6590c8" stroke-opacity="0.43" stroke-width="1"/>
<circle cx="58.41" cy="656.08" r="2.5" fill="#5f8fc8" fill-opacity="0.88" stroke="#5f8fc8" stroke-opacity="0.9" stroke-width="0.8"/>
<circle cx="59.38" cy="654.82" r="2.5" fill="#ffffff" fill-opacity="0.82" stroke="#6590c8" stroke-opacity="0.50" stroke-width="1"/>
<circle cx="60.35" cy="653.20" r="2.5" fill="#ffffff" fill-opacity="0.82" stroke="#6590c8" stroke-opacity="0.50" stroke-width="1"/>
<circle cx="61.32" cy="650.94" r="2.5" fill="#ffffff" fill-opacity="0.82" stroke="#6590c8" stroke-opacity="0.50" stroke-width="1"/>
<circle cx="62.29" cy="648.69" r="2.5" fill="#ffffff" fill-opacity="0.82" stroke="#6590c8" stroke-opacity="0.50" stroke-width="1"/>
<circle cx="63.26" cy="646.33" r="2.5" fill="#ffffff" fill-opacity="0.82" stroke="#6590c8" stroke-opacity="0.50" stroke-width="1"/>
<circle cx="64.24" cy="643.80" r="2.5" fill="#5f8fc8" fill-opacity="0.88" stroke="#5f8fc8" stroke-opacity="0.9" stroke-width="0.8"/>
<circle cx="65.21" cy="641.30" r="2.5" fill="#ffffff" fill-opacity="0.82" stroke="#6590c8" stroke-opacity="0.50" stroke-width="1"/>
<circle cx="66.18" cy="638.85" r="2.5" fill="#ffffff" fill-opacity="0.82" stroke="#6590c8" stroke-opacity="0.50" stroke-width="1"/>
<circle cx="67.15" cy="636.62" r="2.5" fill="#ffffff" fill-opacity="0.82" stroke="#6590c8" stroke-opacity="0.50" stroke-width="1"/>
<circle cx="68.12" cy="634.63" r="2.5" fill="#5f8fc8" fill-opacity="0.88" stroke="#5f8fc8" stroke-opacity="0.9" stroke-width="0.8"/>
<circle cx="69.09" cy="633.01" r="2.5" fill="#ffffff" fill-opacity="0.82" stroke="#6590c8" stroke-opacity="0.50" stroke-width="1"/>
<circle cx="70.07" cy="631.75" r="2.5" fill="#ffffff" fill-opacity="0.82" stroke="#6590c8" stroke-opacity="0.50" stroke-width="1"/>
<circle cx="71.04" cy="630.50" r="2.5" fill="#ffffff" fill-opacity="0.82" stroke="#6590c8" stroke-opacity="0.50" stroke-width="1"/>
<circle cx="72.01" cy="630.02" r="2.5" fill="#ffffff" fill-opacity="0.82" stroke="#6590c8" stroke-opacity="0.09" stroke-width="1"/>
<circle cx="72.98" cy="630.24" r="2.5" fill="#ffffff" fill-opacity="0.82" stroke="#6590c8" stroke-opacity="0.01" stroke-width="1"/>
<circle cx="73.95" cy="631.03" r="2.5" fill="#5f8fc8" fill-opacity="0.88" stroke="#5f8fc8" stroke-opacity="0.9" stroke-width="0.8"/>
<circle cx="74.92" cy="632.49" r="2.5" fill="#ffffff" fill-opacity="0.82" stroke="#6590c8" stroke-opacity="0.50" stroke-width="1"/>
<circle cx="75.90" cy="633.94" r="2.5" fill="#5f8fc8" fill-opacity="0.88" stroke="#5f8fc8" stroke-opacity="0.9" stroke-width="0.8"/>
<circle cx="76.87" cy="635.66" r="2.5" fill="#5f8fc8" fill-opacity="0.88" stroke="#5f8fc8" stroke-opacity="0.9" stroke-width="0.8"/>
<circle cx="77.84" cy="637.65" r="2.5" fill="#5f8fc8" fill-opacity="0.88" stroke="#5f8fc8" stroke-opacity="0.9" stroke-width="0.8"/>
<circle cx="78.81" cy="639.25" r="2.5" fill="#ffffff" fill-opacity="0.82" stroke="#6590c8" stroke-opacity="0.50" stroke-width="1"/>
<circle cx="79.78" cy="640.50" r="2.5" fill="#ffffff" fill-opacity="0.82" stroke="#6590c8" stroke-opacity="0.50" stroke-width="1"/>
<circle cx="80.76" cy="641.76" r="2.5" fill="#5f8fc8" fill-opacity="0.88" stroke="#5f8fc8" stroke-opacity="0.9" stroke-width="0.8"/>
<circle cx="81.73" cy="643.01" r="2.5" fill="#5f8fc8" fill-opacity="0.88" stroke="#5f8fc8" stroke-opacity="0.9" stroke-width="0.8"/>
<circle cx="82.70" cy="644.26" r="2.5" fill="#5f8fc8" fill-opacity="0.88" stroke="#5f8fc8" stroke-opacity="0.9" stroke-width="0.8"/>
<circle cx="83.67" cy="645.50" r="2.5" fill="#ffffff" fill-opacity="0.82" stroke="#6590c8" stroke-opacity="0.50" stroke-width="1"/>
<circle cx="84.64" cy="646.46" r="2.5" fill="#ffffff" fill-opacity="0.82" stroke="#6590c8" stroke-opacity="0.32" stroke-width="1"/>
<circle cx="85.61" cy="647.26" r="2.5" fill="#ffffff" fill-opacity="0.82" stroke="#6590c8" stroke-opacity="0.24" stroke-width="1"/>
<circle cx="86.59" cy="648.06" r="2.5" fill="#ffffff" fill-opacity="0.82" stroke="#6590c8" stroke-opacity="0.24" stroke-width="1"/>
<circle cx="87.56" cy="648.86" r="2.5" fill="#5f8fc8" fill-opacity="0.88" stroke="#5f8fc8" stroke-opacity="0.9" stroke-width="0.8"/>
<circle cx="88.53" cy="649.41" r="2.5" fill="#ffffff" fill-opacity="0.82" stroke="#6590c8" stroke-opacity="0.12" stroke-width="1"/>
<circle cx="89.50" cy="649.75" r="2.5" fill="#ffffff" fill-opacity="0.82" stroke="#6590c8" stroke-opacity="0.04" stroke-width="1"/>
<circle cx="90.47" cy="650.10" r="2.5" fill="#ffffff" fill-opacity="0.82" stroke="#6590c8" stroke-opacity="0.04" stroke-width="1"/>
<circle cx="91.44" cy="650.44" r="2.5" fill="#ffffff" fill-opacity="0.82" stroke="#6590c8" stroke-opacity="0.04" stroke-width="1"/>
<circle cx="92.42" cy="650.85" r="2.5" fill="#ffffff" fill-opacity="0.82" stroke="#6590c8" stroke-opacity="0.06" stroke-width="1"/>
<circle cx="93.39" cy="651.30" r="2.5" fill="#ffffff" fill-opacity="0.82" stroke="#6590c8" stroke-opacity="0.07" stroke-width="1"/>
<circle cx="94.36" cy="651.75" r="2.5" fill="#ffffff" fill-opacity="0.82" stroke="#6590c8" stroke-opacity="0.07" stroke-width="1"/>
<circle cx="95.33" cy="652.20" r="2.5" fill="#ffffff" fill-opacity="0.82" stroke="#6590c8" stroke-opacity="0.07" stroke-width="1"/>
<circle cx="96.30" cy="652.67" r="2.5" fill="#ffffff" fill-opacity="0.82" stroke="#6590c8" stroke-opacity="0.08" stroke-width="1"/>
<circle cx="97.27" cy="653.15" r="2.5" fill="#ffffff" fill-opacity="0.82" stroke="#6590c8" stroke-opacity="0.09" stroke-width="1"/>
<circle cx="98.25" cy="653.64" r="2.5" fill="#ffffff" fill-opacity="0.82" stroke="#6590c8" stroke-opacity="0.09" stroke-width="1"/>
<circle cx="99.22" cy="654.12" r="2.5" fill="#ffffff" fill-opacity="0.82" stroke="#6590c8" stroke-opacity="0.09" stroke-width="1"/>
<circle cx="100.19" cy="654.61" r="2.5" fill="#ffffff" fill-opacity="0.82" stroke="#6590c8" stroke-opacity="0.09" stroke-width="1"/>
<circle cx="101.16" cy="655.11" r="2.5" fill="#ffffff" fill-opacity="0.82" stroke="#6590c8" stroke-opacity="0.09" stroke-width="1"/>
<circle cx="102.13" cy="655.61" r="2.5" fill="#ffffff" fill-opacity="0.82" stroke="#6590c8" stroke-opacity="0.09" stroke-width="1"/>
<circle cx="103.10" cy="656.11" r="2.5" fill="#ffffff" fill-opacity="0.82" stroke="#6590c8" stroke-opacity="0.09" stroke-width="1"/>
<circle cx="104.08" cy="656.70" r="2.5" fill="#ffffff" fill-opacity="0.82" stroke="#6590c8" stroke-opacity="0.13" stroke-width="1"/>
<circle cx="105.05" cy="657.34" r="2.5" fill="#ffffff" fill-opacity="0.82" stroke="#6590c8" stroke-opacity="0.15" stroke-width="1"/>
<circle cx="106.02" cy="657.97" r="2.5" fill="#ffffff" fill-opacity="0.82" stroke="#6590c8" stroke-opacity="0.15" stroke-width="1"/>
<circle cx="106.99" cy="658.60" r="2.5" fill="#ffffff" fill-opacity="0.82" stroke="#6590c8" stroke-opacity="0.15" stroke-width="1"/>
<circle cx="107.96" cy="659.13" r="2.5" fill="#ffffff" fill-opacity="0.82" stroke="#6590c8" stroke-opacity="0.10" stroke-width="1"/>
<circle cx="108.93" cy="659.60" r="2.5" fill="#ffffff" fill-opacity="0.82" stroke="#6590c8" stroke-opacity="0.08" stroke-width="1"/>
<circle cx="109.91" cy="660.07" r="2.5" fill="#ffffff" fill-opacity="0.82" stroke="#6590c8" stroke-opacity="0.08" stroke-width="1"/>
<circle cx="110.88" cy="660.54" r="2.5" fill="#ffffff" fill-opacity="0.82" stroke="#6590c8" stroke-opacity="0.08" stroke-width="1"/>
<circle cx="111.85" cy="660.67" r="2.5" fill="#ffffff" fill-opacity="0.82" stroke="#6590c8" stroke-opacity="0.01" stroke-width="1"/>
<circle cx="112.82" cy="660.74" r="2.5" fill="#ffffff" fill-opacity="0.82" stroke="#6590c8" stroke-opacity="0.01" stroke-width="1"/>
<circle cx="113.79" cy="660.81" r="2.5" fill="#ffffff" fill-opacity="0.82" stroke="#6590c8" stroke-opacity="0.01" stroke-width="1"/>
<circle cx="114.76" cy="660.88" r="2.5" fill="#ffffff" fill-opacity="0.82" stroke="#6590c8" stroke-opacity="0.01" stroke-width="1"/>
<circle cx="115.74" cy="660.96" r="2.5" fill="#ffffff" fill-opacity="0.82" stroke="#6590c8" stroke-opacity="0.01" stroke-width="1"/>
<circle cx="116.71" cy="661.03" r="2.5" fill="#ffffff" fill-opacity="0.82" stroke="#6590c8" stroke-opacity="0.01" stroke-width="1"/>
<circle cx="117.68" cy="661.06" r="2.5" fill="#ffffff" fill-opacity="0.82" stroke="#6590c8" stroke-opacity="0.01" stroke-width="1"/>
<circle cx="118.65" cy="661.08" r="2.5" fill="#ffffff" fill-opacity="0.82" stroke="#6590c8" stroke-opacity="0.01" stroke-width="1"/>
<circle cx="119.62" cy="661.09" r="2.5" fill="#ffffff" fill-opacity="0.82" stroke="#6590c8" stroke-opacity="0.01" stroke-width="1"/>
<circle cx="120.59" cy="661.11" r="2.5" fill="#ffffff" fill-opacity="0.82" stroke="#6590c8" stroke-opacity="0.01" stroke-width="1"/>
<circle cx="121.57" cy="661.12" r="2.5" fill="#ffffff" fill-opacity="0.82" stroke="#6590c8" stroke-opacity="0.01" stroke-width="1"/>
<circle cx="122.54" cy="661.14" r="2.5" fill="#ffffff" fill-opacity="0.82" stroke="#6590c8" stroke-opacity="0.01" stroke-width="1"/>
<circle cx="123.51" cy="661.15" r="2.5" fill="#ffffff" fill-opacity="0.82" stroke="#6590c8" stroke-opacity="0.01" stroke-width="1"/>
<circle cx="124.48" cy="661.17" r="2.5" fill="#ffffff" fill-opacity="0.82" stroke="#6590c8" stroke-opacity="0.01" stroke-width="1"/>
<circle cx="125.45" cy="661.18" r="2.5" fill="#ffffff" fill-opacity="0.82" stroke="#6590c8" stroke-opacity="0.01" stroke-width="1"/>
<circle cx="126.43" cy="661.20" r="2.5" fill="#ffffff" fill-opacity="0.82" stroke="#6590c8" stroke-opacity="0.01" stroke-width="1"/>
<circle cx="127.40" cy="661.21" r="2.5" fill="#ffffff" fill-opacity="0.82" stroke="#6590c8" stroke-opacity="0.01" stroke-width="1"/>
<circle cx="128.37" cy="661.21" r="2.5" fill="#ffffff" fill-opacity="0.82" stroke="#6590c8" stroke-opacity="0.01" stroke-width="1"/>
<circle cx="129.34" cy="661.22" r="2.5" fill="#ffffff" fill-opacity="0.82" stroke="#6590c8" stroke-opacity="0.01" stroke-width="1"/>
<circle cx="130.31" cy="661.23" r="2.5" fill="#ffffff" fill-opacity="0.82" stroke="#6590c8" stroke-opacity="0.01" stroke-width="1"/>
<circle cx="131.28" cy="661.23" r="2.5" fill="#ffffff" fill-opacity="0.82" stroke="#6590c8" stroke-opacity="0.01" stroke-width="1"/>
<circle cx="132.26" cy="661.24" r="2.5" fill="#ffffff" fill-opacity="0.82" stroke="#6590c8" stroke-opacity="0.01" stroke-width="1"/>
<circle cx="133.23" cy="661.24" r="2.5" fill="#ffffff" fill-opacity="0.82" stroke="#6590c8" stroke-opacity="0.01" stroke-width="1"/>
<circle cx="134.20" cy="661.25" r="2.5" fill="#ffffff" fill-opacity="0.82" stroke="#6590c8" stroke-opacity="0.01" stroke-width="1"/>
<circle cx="135.17" cy="661.26" r="2.5" fill="#ffffff" fill-opacity="0.82" stroke="#6590c8" stroke-opacity="0.01" stroke-width="1"/>
<circle cx="136.14" cy="661.26" r="2.5" fill="#ffffff" fill-opacity="0.82" stroke="#6590c8" stroke-opacity="0.01" stroke-width="1"/>
<circle cx="137.11" cy="661.27" r="2.5" fill="#ffffff" fill-opacity="0.82" stroke="#6590c8" stroke-opacity="0.01" stroke-width="1"/>
<circle cx="138.09" cy="661.28" r="2.5" fill="#ffffff" fill-opacity="0.82" stroke="#6590c8" stroke-opacity="0.01" stroke-width="1"/>
<circle cx="139.06" cy="661.28" r="2.5" fill="#ffffff" fill-opacity="0.82" stroke="#6590c8" stroke-opacity="0.01" stroke-width="1"/>
<circle cx="140.03" cy="661.29" r="2.5" fill="#ffffff" fill-opacity="0.82" stroke="#6590c8" stroke-opacity="0.01" stroke-width="1"/>
<circle cx="141.00" cy="661.29" r="2.5" fill="#ffffff" fill-opacity="0.82" stroke="#6590c8" stroke-opacity="0.01" stroke-width="1"/>
<circle cx="141.97" cy="661.30" r="2.5" fill="#ffffff" fill-opacity="0.82" stroke="#6590c8" stroke-opacity="0.01" stroke-width="1"/>
<circle cx="142.94" cy="661.31" r="2.5" fill="#ffffff" fill-opacity="0.82" stroke="#6590c8" stroke-opacity="0.01" stroke-width="1"/>
<circle cx="143.92" cy="661.31" r="2.5" fill="#ffffff" fill-opacity="0.82" stroke="#6590c8" stroke-opacity="0.01" stroke-width="1"/>
<circle cx="144.89" cy="661.32" r="2.5" fill="#ffffff" fill-opacity="0.82" stroke="#6590c8" stroke-opacity="0.01" stroke-width="1"/>
<circle cx="145.86" cy="661.33" r="2.5" fill="#ffffff" fill-opacity="0.82" stroke="#6590c8" stroke-opacity="0.01" stroke-width="1"/>
<circle cx="146.83" cy="661.33" r="2.5" fill="#ffffff" fill-opacity="0.82" stroke="#6590c8" stroke-opacity="0.01" stroke-width="1"/>
<circle cx="147.80" cy="661.34" r="2.5" fill="#ffffff" fill-opacity="0.82" stroke="#6590c8" stroke-opacity="0.01" stroke-width="1"/>
<circle cx="148.77" cy="661.34" r="2.5" fill="#ffffff" fill-opacity="0.82" stroke="#6590c8" stroke-opacity="0.01" stroke-width="1"/>
<circle cx="149.75" cy="661.35" r="2.5" fill="#ffffff" fill-opacity="0.82" stroke="#6590c8" stroke-opacity="0.01" stroke-width="1"/>
<circle cx="150.72" cy="661.35" r="2.5" fill="#ffffff" fill-opacity="0.82" stroke="#6590c8" stroke-opacity="0.01" stroke-width="1"/>
<circle cx="151.69" cy="661.35" r="2.5" fill="#ffffff" fill-opacity="0.82" stroke="#6590c8" stroke-opacity="0.01" stroke-width="1"/>
<circle cx="152.66" cy="661.35" r="2.5" fill="#ffffff" fill-opacity="0.82" stroke="#6590c8" stroke-opacity="0.01" stroke-width="1"/>
<circle cx="153.63" cy="661.35" r="2.5" fill="#ffffff" fill-opacity="0.82" stroke="#6590c8" stroke-opacity="0.01" stroke-width="1"/>
<circle cx="154.60" cy="661.35" r="2.5" fill="#ffffff" fill-opacity="0.82" stroke="#6590c8" stroke-opacity="0.01" stroke-width="1"/>
<circle cx="155.58" cy="661.35" r="2.5" fill="#ffffff" fill-opacity="0.82" stroke="#6590c8" stroke-opacity="0.01" stroke-width="1"/>
<circle cx="156.55" cy="661.35" r="2.5" fill="#ffffff" fill-opacity="0.82" stroke="#6590c8" stroke-opacity="0.01" stroke-width="1"/>
<circle cx="157.52" cy="661.35" r="2.5" fill="#ffffff" fill-opacity="0.82" stroke="#6590c8" stroke-opacity="0.01" stroke-width="1"/>
<circle cx="158.49" cy="661.35" r="2.5" fill="#ffffff" fill-opacity="0.82" stroke="#6590c8" stroke-opacity="0.01" stroke-width="1"/>
<circle cx="159.46" cy="661.35" r="2.5" fill="#ffffff" fill-opacity="0.82" stroke="#6590c8" stroke-opacity="0.01" stroke-width="1"/>
<circle cx="160.43" cy="661.35" r="2.5" fill="#ffffff" fill-opacity="0.82" stroke="#6590c8" stroke-opacity="0.01" stroke-width="1"/>
<circle cx="161.41" cy="661.35" r="2.5" fill="#ffffff" fill-opacity="0.82" stroke="#6590c8" stroke-opacity="0.01" stroke-width="1"/>
<circle cx="162.38" cy="661.35" r="2.5" fill="#ffffff" fill-opacity="0.82" stroke="#6590c8" stroke-opacity="0.01" stroke-width="1"/>
<circle cx="163.35" cy="661.35" r="2.5" fill="#ffffff" fill-opacity="0.82" stroke="#6590c8" stroke-opacity="0.01" stroke-width="1"/>
<circle cx="164.32" cy="661.35" r="2.5" fill="#ffffff" fill-opacity="0.82" stroke="#6590c8" stroke-opacity="0.01" stroke-width="1"/>
<circle cx="165.29" cy="661.35" r="2.5" fill="#ffffff" fill-opacity="0.82" stroke="#6590c8" stroke-opacity="0.01" stroke-width="1"/>
<circle cx="166.27" cy="661.35" r="2.5" fill="#ffffff" fill-opacity="0.82" stroke="#6590c8" stroke-opacity="0.01" stroke-width="1"/>
<circle cx="167.24" cy="661.35" r="2.5" fill="#ffffff" fill-opacity="0.82" stroke="#6590c8" stroke-opacity="0.01" stroke-width="1"/>
<circle cx="168.21" cy="661.35" r="2.5" fill="#ffffff" fill-opacity="0.82" stroke="#6590c8" stroke-opacity="0.01" stroke-width="1"/>
<circle cx="169.18" cy="661.35" r="2.5" fill="#ffffff" fill-opacity="0.82" stroke="#6590c8" stroke-opacity="0.01" stroke-width="1"/>
<circle cx="170.15" cy="661.34" r="2.5" fill="#ffffff" fill-opacity="0.82" stroke="#6590c8" stroke-opacity="0.01" stroke-width="1"/>
<circle cx="171.12" cy="661.33" r="2.5" fill="#ffffff" fill-opacity="0.82" stroke="#6590c8" stroke-opacity="0.01" stroke-width="1"/>
<circle cx="172.10" cy="661.31" r="2.5" fill="#ffffff" fill-opacity="0.82" stroke="#6590c8" stroke-opacity="0.01" stroke-width="1"/>
<circle cx="173.07" cy="661.30" r="2.5" fill="#ffffff" fill-opacity="0.82" stroke="#6590c8" stroke-opacity="0.01" stroke-width="1"/>
<circle cx="174.04" cy="661.28" r="2.5" fill="#ffffff" fill-opacity="0.82" stroke="#6590c8" stroke-opacity="0.01" stroke-width="1"/>
<circle cx="175.01" cy="661.27" r="2.5" fill="#ffffff" fill-opacity="0.82" stroke="#6590c8" stroke-opacity="0.01" stroke-width="1"/>
<circle cx="175.98" cy="661.26" r="2.5" fill="#ffffff" fill-opacity="0.82" stroke="#6590c8" stroke-opacity="0.01" stroke-width="1"/>
<circle cx="176.95" cy="661.24" r="2.5" fill="#ffffff" fill-opacity="0.82" stroke="#6590c8" stroke-opacity="0.01" stroke-width="1"/>
<circle cx="177.93" cy="661.23" r="2.5" fill="#ffffff" fill-opacity="0.82" stroke="#6590c8" stroke-opacity="0.01" stroke-width="1"/>
<circle cx="178.90" cy="661.22" r="2.5" fill="#ffffff" fill-opacity="0.82" stroke="#6590c8" stroke-opacity="0.01" stroke-width="1"/>
<circle cx="179.87" cy="661.20" r="2.5" fill="#ffffff" fill-opacity="0.82" stroke="#6590c8" stroke-opacity="0.01" stroke-width="1"/>
<circle cx="180.84" cy="661.10" r="2.5" fill="#ffffff" fill-opacity="0.82" stroke="#6590c8" stroke-opacity="0.01" stroke-width="1"/>
<circle cx="181.81" cy="660.98" r="2.5" fill="#ffffff" fill-opacity="0.82" stroke="#6590c8" stroke-opacity="0.01" stroke-width="1"/>
<circle cx="182.78" cy="660.85" r="2.5" fill="#ffffff" fill-opacity="0.82" stroke="#6590c8" stroke-opacity="0.01" stroke-width="1"/>
<circle cx="183.76" cy="660.73" r="2.5" fill="#ffffff" fill-opacity="0.82" stroke="#6590c8" stroke-opacity="0.01" stroke-width="1"/>
<circle cx="184.73" cy="660.61" r="2.5" fill="#ffffff" fill-opacity="0.82" stroke="#6590c8" stroke-opacity="0.01" stroke-width="1"/>
<circle cx="185.70" cy="660.18" r="2.5" fill="#ffffff" fill-opacity="0.82" stroke="#6590c8" stroke-opacity="0.07" stroke-width="1"/>
<circle cx="186.67" cy="659.72" r="2.5" fill="#ffffff" fill-opacity="0.82" stroke="#6590c8" stroke-opacity="0.08" stroke-width="1"/>
<circle cx="187.64" cy="659.26" r="2.5" fill="#ffffff" fill-opacity="0.82" stroke="#6590c8" stroke-opacity="0.08" stroke-width="1"/>
<circle cx="188.61" cy="658.80" r="2.5" fill="#ffffff" fill-opacity="0.82" stroke="#6590c8" stroke-opacity="0.08" stroke-width="1"/>
<circle cx="189.59" cy="658.31" r="2.5" fill="#ffffff" fill-opacity="0.82" stroke="#6590c8" stroke-opacity="0.09" stroke-width="1"/>
<circle cx="190.56" cy="657.83" r="2.5" fill="#ffffff" fill-opacity="0.82" stroke="#6590c8" stroke-opacity="0.09" stroke-width="1"/>
<circle cx="191.53" cy="657.34" r="2.5" fill="#ffffff" fill-opacity="0.82" stroke="#6590c8" stroke-opacity="0.09" stroke-width="1"/>
<circle cx="192.50" cy="656.86" r="2.5" fill="#ffffff" fill-opacity="0.82" stroke="#6590c8" stroke-opacity="0.09" stroke-width="1"/>
<circle cx="193.47" cy="656.28" r="2.5" fill="#ffffff" fill-opacity="0.82" stroke="#6590c8" stroke-opacity="0.13" stroke-width="1"/>
<circle cx="194.44" cy="655.71" r="2.5" fill="#ffffff" fill-opacity="0.82" stroke="#6590c8" stroke-opacity="0.13" stroke-width="1"/>
<circle cx="195.42" cy="655.13" r="2.5" fill="#ffffff" fill-opacity="0.82" stroke="#6590c8" stroke-opacity="0.13" stroke-width="1"/>
<circle cx="196.39" cy="654.55" r="2.5" fill="#ffffff" fill-opacity="0.82" stroke="#6590c8" stroke-opacity="0.13" stroke-width="1"/>
<circle cx="197.36" cy="653.93" r="2.5" fill="#ffffff" fill-opacity="0.82" stroke="#6590c8" stroke-opacity="0.15" stroke-width="1"/>
<circle cx="198.33" cy="652.63" r="2.5" fill="#ffffff" fill-opacity="0.82" stroke="#6590c8" stroke-opacity="0.50" stroke-width="1"/>
<circle cx="199.30" cy="651.32" r="2.5" fill="#5f8fc8" fill-opacity="0.88" stroke="#5f8fc8" stroke-opacity="0.9" stroke-width="0.8"/>
<circle cx="200.27" cy="650.07" r="2.5" fill="#ffffff" fill-opacity="0.82" stroke="#6590c8" stroke-opacity="0.50" stroke-width="1"/>
<circle cx="201.25" cy="649.36" r="2.5" fill="#ffffff" fill-opacity="0.82" stroke="#6590c8" stroke-opacity="0.18" stroke-width="1"/>
<circle cx="202.22" cy="648.66" r="2.5" fill="#ffffff" fill-opacity="0.82" stroke="#6590c8" stroke-opacity="0.18" stroke-width="1"/>
<circle cx="203.19" cy="647.96" r="2.5" fill="#ffffff" fill-opacity="0.82" stroke="#6590c8" stroke-opacity="0.18" stroke-width="1"/>
<circle cx="204.16" cy="647.26" r="2.5" fill="#5f8fc8" fill-opacity="0.88" stroke="#5f8fc8" stroke-opacity="0.9" stroke-width="0.8"/>
<circle cx="205.13" cy="646.55" r="2.5" fill="#ffffff" fill-opacity="0.82" stroke="#6590c8" stroke-opacity="0.18" stroke-width="1"/>
<circle cx="206.10" cy="645.83" r="2.5" fill="#5f8fc8" fill-opacity="0.88" stroke="#5f8fc8" stroke-opacity="0.9" stroke-width="0.8"/>
<circle cx="207.08" cy="644.90" r="2.5" fill="#ffffff" fill-opacity="0.82" stroke="#6590c8" stroke-opacity="0.31" stroke-width="1"/>
<circle cx="208.05" cy="643.97" r="2.5" fill="#ffffff" fill-opacity="0.82" stroke="#6590c8" stroke-opacity="0.31" stroke-width="1"/>
<circle cx="209.02" cy="643.04" r="2.5" fill="#ffffff" fill-opacity="0.82" stroke="#6590c8" stroke-opacity="0.31" stroke-width="1"/>
<circle cx="209.99" cy="642.11" r="2.5" fill="#ffffff" fill-opacity="0.82" stroke="#6590c8" stroke-opacity="0.31" stroke-width="1"/>
<circle cx="210.96" cy="641.19" r="2.5" fill="#ffffff" fill-opacity="0.82" stroke="#6590c8" stroke-opacity="0.31" stroke-width="1"/>
<circle cx="211.94" cy="640.25" r="2.5" fill="#ffffff" fill-opacity="0.82" stroke="#6590c8" stroke-opacity="0.31" stroke-width="1"/>
<circle cx="212.91" cy="639.30" r="2.5" fill="#ffffff" fill-opacity="0.82" stroke="#6590c8" stroke-opacity="0.32" stroke-width="1"/>
<circle cx="213.88" cy="638.35" r="2.5" fill="#5f8fc8" fill-opacity="0.88" stroke="#5f8fc8" stroke-opacity="0.9" stroke-width="0.8"/>
<circle cx="214.85" cy="637.39" r="2.5" fill="#ffffff" fill-opacity="0.82" stroke="#6590c8" stroke-opacity="0.32" stroke-width="1"/>
<circle cx="215.82" cy="636.44" r="2.5" fill="#ffffff" fill-opacity="0.82" stroke="#6590c8" stroke-opacity="0.32" stroke-width="1"/>
<circle cx="216.79" cy="635.49" r="2.5" fill="#5f8fc8" fill-opacity="0.88" stroke="#5f8fc8" stroke-opacity="0.9" stroke-width="0.8"/>
<circle cx="217.77" cy="634.50" r="2.5" fill="#ffffff" fill-opacity="0.82" stroke="#6590c8" stroke-opacity="0.34" stroke-width="1"/>
<circle cx="218.74" cy="633.37" r="2.5" fill="#ffffff" fill-opacity="0.82" stroke="#6590c8" stroke-opacity="0.43" stroke-width="1"/>
<circle cx="219.71" cy="632.25" r="2.5" fill="#ffffff" fill-opacity="0.82" stroke="#6590c8" stroke-opacity="0.43" stroke-width="1"/>
<circle cx="220.68" cy="631.12" r="2.5" fill="#ffffff" fill-opacity="0.82" stroke="#6590c8" stroke-opacity="0.43" stroke-width="1"/>
<circle cx="221.65" cy="629.99" r="2.5" fill="#ffffff" fill-opacity="0.82" stroke="#6590c8" stroke-opacity="0.43" stroke-width="1"/>
<circle cx="222.62" cy="628.86" r="2.5" fill="#ffffff" fill-opacity="0.82" stroke="#6590c8" stroke-opacity="0.43" stroke-width="1"/>
<circle cx="223.60" cy="627.69" r="2.5" fill="#5f8fc8" fill-opacity="0.88" stroke="#5f8fc8" stroke-opacity="0.9" stroke-width="0.8"/>
<circle cx="224.57" cy="626.39" r="2.5" fill="#ffffff" fill-opacity="0.82" stroke="#6590c8" stroke-opacity="0.50" stroke-width="1"/>
<circle cx="225.54" cy="625.09" r="2.5" fill="#ffffff" fill-opacity="0.82" stroke="#6590c8" stroke-opacity="0.50" stroke-width="1"/>
<circle cx="226.51" cy="623.85" r="2.5" fill="#ffffff" fill-opacity="0.82" stroke="#6590c8" stroke-opacity="0.50" stroke-width="1"/>
<circle cx="227.48" cy="622.84" r="2.5" fill="#ffffff" fill-opacity="0.82" stroke="#6590c8" stroke-opacity="0.35" stroke-width="1"/>
<circle cx="228.45" cy="621.84" r="2.5" fill="#ffffff" fill-opacity="0.82" stroke="#6590c8" stroke-opacity="0.35" stroke-width="1"/>
<circle cx="229.43" cy="621.07" r="2.5" fill="#ffffff" fill-opacity="0.82" stroke="#6590c8" stroke-opacity="0.22" stroke-width="1"/>
<circle cx="230.40" cy="621.07" r="2.5" fill="#ffffff" fill-opacity="0.82" stroke="#6590c8" stroke-opacity="0.01" stroke-width="1"/>
<circle cx="231.37" cy="621.07" r="2.5" fill="#ffffff" fill-opacity="0.82" stroke="#6590c8" stroke-opacity="0.01" stroke-width="1"/>
<circle cx="232.34" cy="621.41" r="2.5" fill="#ffffff" fill-opacity="0.82" stroke="#6590c8" stroke-opacity="0.04" stroke-width="1"/>
<circle cx="233.31" cy="622.38" r="2.5" fill="#ffffff" fill-opacity="0.82" stroke="#6590c8" stroke-opacity="0.33" stroke-width="1"/>
<circle cx="234.28" cy="623.35" r="2.5" fill="#ffffff" fill-opacity="0.82" stroke="#6590c8" stroke-opacity="0.33" stroke-width="1"/>
<circle cx="235.26" cy="624.45" r="2.5" fill="#ffffff" fill-opacity="0.82" stroke="#6590c8" stroke-opacity="0.41" stroke-width="1"/>
<circle cx="236.23" cy="625.90" r="2.5" fill="#ffffff" fill-opacity="0.82" stroke="#6590c8" stroke-opacity="0.50" stroke-width="1"/>
<circle cx="237.20" cy="627.36" r="2.5" fill="#ffffff" fill-opacity="0.82" stroke="#6590c8" stroke-opacity="0.50" stroke-width="1"/>
<circle cx="238.17" cy="628.81" r="2.5" fill="#ffffff" fill-opacity="0.82" stroke="#6590c8" stroke-opacity="0.50" stroke-width="1"/>
<circle cx="239.14" cy="630.32" r="2.5" fill="#ffffff" fill-opacity="0.82" stroke="#6590c8" stroke-opacity="0.50" stroke-width="1"/>
<circle cx="240.11" cy="632.00" r="2.5" fill="#ffffff" fill-opacity="0.82" stroke="#6590c8" stroke-opacity="0.50" stroke-width="1"/>
<circle cx="241.09" cy="633.68" r="2.5" fill="#ffffff" fill-opacity="0.82" stroke="#6590c8" stroke-opacity="0.50" stroke-width="1"/>
<circle cx="242.06" cy="635.36" r="2.5" fill="#ffffff" fill-opacity="0.82" stroke="#6590c8" stroke-opacity="0.50" stroke-width="1"/>
<circle cx="243.03" cy="636.93" r="2.5" fill="#5f8fc8" fill-opacity="0.88" stroke="#5f8fc8" stroke-opacity="0.9" stroke-width="0.8"/>
<circle cx="244.00" cy="638.16" r="2.5" fill="#ffffff" fill-opacity="0.82" stroke="#6590c8" stroke-opacity="0.49" stroke-width="1"/>
<circle cx="244.97" cy="639.38" r="2.5" fill="#ffffff" fill-opacity="0.82" stroke="#6590c8" stroke-opacity="0.49" stroke-width="1"/>
<circle cx="245.94" cy="640.61" r="2.5" fill="#ffffff" fill-opacity="0.82" stroke="#6590c8" stroke-opacity="0.49" stroke-width="1"/>
<circle cx="246.92" cy="641.67" r="2.5" fill="#ffffff" fill-opacity="0.82" stroke="#6590c8" stroke-opacity="0.39" stroke-width="1"/>
<circle cx="247.89" cy="642.37" r="2.5" fill="#ffffff" fill-opacity="0.82" stroke="#6590c8" stroke-opacity="0.19" stroke-width="1"/>
<circle cx="248.86" cy="643.08" r="2.5" fill="#ffffff" fill-opacity="0.82" stroke="#6590c8" stroke-opacity="0.19" stroke-width="1"/>
<circle cx="249.83" cy="643.79" r="2.5" fill="#ffffff" fill-opacity="0.82" stroke="#6590c8" stroke-opacity="0.19" stroke-width="1"/>
<circle cx="250.80" cy="644.40" r="2.5" fill="#ffffff" fill-opacity="0.82" stroke="#6590c8" stroke-opacity="0.14" stroke-width="1"/>
<circle cx="251.78" cy="644.80" r="2.5" fill="#ffffff" fill-opacity="0.82" stroke="#6590c8" stroke-opacity="0.06" stroke-width="1"/>
<circle cx="252.75" cy="645.19" r="2.5" fill="#ffffff" fill-opacity="0.82" stroke="#6590c8" stroke-opacity="0.06" stroke-width="1"/>
<circle cx="253.72" cy="645.59" r="2.5" fill="#ffffff" fill-opacity="0.82" stroke="#6590c8" stroke-opacity="0.06" stroke-width="1"/>
<circle cx="254.69" cy="645.98" r="2.5" fill="#ffffff" fill-opacity="0.82" stroke="#6590c8" stroke-opacity="0.06" stroke-width="1"/>
<circle cx="255.66" cy="646.15" r="2.5" fill="#ffffff" fill-opacity="0.82" stroke="#6590c8" stroke-opacity="0.01" stroke-width="1"/>
<circle cx="256.63" cy="645.95" r="2.5" fill="#ffffff" fill-opacity="0.82" stroke="#6590c8" stroke-opacity="0.01" stroke-width="1"/>
<circle cx="257.61" cy="645.75" r="2.5" fill="#ffffff" fill-opacity="0.82" stroke="#6590c8" stroke-opacity="0.01" stroke-width="1"/>
<circle cx="258.58" cy="645.47" r="2.5" fill="#ffffff" fill-opacity="0.82" stroke="#6590c8" stroke-opacity="0.02" stroke-width="1"/>
<circle cx="259.55" cy="645.07" r="2.5" fill="#ffffff" fill-opacity="0.82" stroke="#6590c8" stroke-opacity="0.06" stroke-width="1"/>
<circle cx="260.52" cy="644.26" r="2.5" fill="#5f8fc8" fill-opacity="0.88" stroke="#5f8fc8" stroke-opacity="0.9" stroke-width="0.8"/>
<circle cx="261.49" cy="643.11" r="2.5" fill="#ffffff" fill-opacity="0.82" stroke="#6590c8" stroke-opacity="0.45" stroke-width="1"/>
<circle cx="262.46" cy="641.95" r="2.5" fill="#5f8fc8" fill-opacity="0.88" stroke="#5f8fc8" stroke-opacity="0.9" stroke-width="0.8"/>
<circle cx="263.44" cy="640.19" r="2.5" fill="#ffffff" fill-opacity="0.82" stroke="#6590c8" stroke-opacity="0.50" stroke-width="1"/>
<circle cx="264.41" cy="637.93" r="2.5" fill="#ffffff" fill-opacity="0.82" stroke="#6590c8" stroke-opacity="0.50" stroke-width="1"/>
<circle cx="265.38" cy="635.67" r="2.5" fill="#5f8fc8" fill-opacity="0.88" stroke="#5f8fc8" stroke-opacity="0.9" stroke-width="0.8"/>
<circle cx="266.35" cy="632.85" r="2.5" fill="#5f8fc8" fill-opacity="0.88" stroke="#5f8fc8" stroke-opacity="0.9" stroke-width="0.8"/>
<circle cx="267.32" cy="629.59" r="2.5" fill="#ffffff" fill-opacity="0.82" stroke="#6590c8" stroke-opacity="0.50" stroke-width="1"/>
<circle cx="268.29" cy="626.32" r="2.5" fill="#5f8fc8" fill-opacity="0.88" stroke="#5f8fc8" stroke-opacity="0.9" stroke-width="0.8"/>
<circle cx="269.27" cy="623.47" r="2.5" fill="#ffffff" fill-opacity="0.82" stroke="#6590c8" stroke-opacity="0.50" stroke-width="1"/>
<circle cx="270.24" cy="620.91" r="2.5" fill="#5f8fc8" fill-opacity="0.88" stroke="#5f8fc8" stroke-opacity="0.9" stroke-width="0.8"/>
<circle cx="271.21" cy="618.35" r="2.5" fill="#ffffff" fill-opacity="0.82" stroke="#6590c8" stroke-opacity="0.50" stroke-width="1"/>
<circle cx="272.18" cy="615.95" r="2.5" fill="#ffffff" fill-opacity="0.82" stroke="#6590c8" stroke-opacity="0.50" stroke-width="1"/>
<circle cx="273.15" cy="613.64" r="2.5" fill="#5f8fc8" fill-opacity="0.88" stroke="#5f8fc8" stroke-opacity="0.9" stroke-width="0.8"/>
<circle cx="274.12" cy="611.33" r="2.5" fill="#5f8fc8" fill-opacity="0.88" stroke="#5f8fc8" stroke-opacity="0.9" stroke-width="0.8"/>
<circle cx="275.10" cy="609.05" r="2.5" fill="#ffffff" fill-opacity="0.82" stroke="#6590c8" stroke-opacity="0.50" stroke-width="1"/>
<circle cx="276.07" cy="606.79" r="2.5" fill="#5f8fc8" fill-opacity="0.88" stroke="#5f8fc8" stroke-opacity="0.9" stroke-width="0.8"/>
<circle cx="277.04" cy="604.54" r="2.5" fill="#ffffff" fill-opacity="0.82" stroke="#6590c8" stroke-opacity="0.50" stroke-width="1"/>
<circle cx="278.01" cy="602.69" r="2.5" fill="#5f8fc8" fill-opacity="0.88" stroke="#5f8fc8" stroke-opacity="0.9" stroke-width="0.8"/>
<circle cx="278.98" cy="601.08" r="2.5" fill="#ffffff" fill-opacity="0.82" stroke="#6590c8" stroke-opacity="0.50" stroke-width="1"/>
<circle cx="279.95" cy="599.48" r="2.5" fill="#5f8fc8" fill-opacity="0.88" stroke="#5f8fc8" stroke-opacity="0.9" stroke-width="0.8"/>
<circle cx="280.93" cy="597.64" r="2.5" fill="#ffffff" fill-opacity="0.82" stroke="#6590c8" stroke-opacity="0.50" stroke-width="1"/>
<circle cx="281.90" cy="595.69" r="2.5" fill="#5f8fc8" fill-opacity="0.88" stroke="#5f8fc8" stroke-opacity="0.9" stroke-width="0.8"/>
<circle cx="282.87" cy="593.73" r="2.5" fill="#5f8fc8" fill-opacity="0.88" stroke="#5f8fc8" stroke-opacity="0.9" stroke-width="0.8"/>
<circle cx="283.84" cy="591.97" r="2.5" fill="#5f8fc8" fill-opacity="0.88" stroke="#5f8fc8" stroke-opacity="0.9" stroke-width="0.8"/>
<circle cx="284.81" cy="590.30" r="2.5" fill="#5f8fc8" fill-opacity="0.88" stroke="#5f8fc8" stroke-opacity="0.9" stroke-width="0.8"/>
<circle cx="285.78" cy="588.64" r="2.5" fill="#5f8fc8" fill-opacity="0.88" stroke="#5f8fc8" stroke-opacity="0.9" stroke-width="0.8"/>
<circle cx="286.76" cy="587.29" r="2.5" fill="#ffffff" fill-opacity="0.82" stroke="#6590c8" stroke-opacity="0.50" stroke-width="1"/>
<circle cx="287.73" cy="586.03" r="2.5" fill="#ffffff" fill-opacity="0.82" stroke="#6590c8" stroke-opacity="0.50" stroke-width="1"/>
<circle cx="288.70" cy="584.77" r="2.5" fill="#ffffff" fill-opacity="0.82" stroke="#6590c8" stroke-opacity="0.50" stroke-width="1"/>
<circle cx="289.67" cy="583.72" r="2.5" fill="#ffffff" fill-opacity="0.82" stroke="#6590c8" stroke-opacity="0.38" stroke-width="1"/>
<circle cx="290.64" cy="582.77" r="2.5" fill="#ffffff" fill-opacity="0.82" stroke="#6590c8" stroke-opacity="0.32" stroke-width="1"/>
<circle cx="291.61" cy="581.81" r="2.5" fill="#ffffff" fill-opacity="0.82" stroke="#6590c8" stroke-opacity="0.32" stroke-width="1"/>
<circle cx="292.59" cy="581.00" r="2.5" fill="#ffffff" fill-opacity="0.82" stroke="#6590c8" stroke-opacity="0.24" stroke-width="1"/>
<circle cx="293.56" cy="580.24" r="2.5" fill="#ffffff" fill-opacity="0.82" stroke="#6590c8" stroke-opacity="0.21" stroke-width="1"/>
<circle cx="294.53" cy="579.86" r="2.5" fill="#ffffff" fill-opacity="0.82" stroke="#6590c8" stroke-opacity="0.05" stroke-width="1"/>
<circle cx="295.50" cy="581.88" r="2.5" fill="#5f8fc8" fill-opacity="0.88" stroke="#5f8fc8" stroke-opacity="0.9" stroke-width="0.8"/>
<circle cx="296.47" cy="583.91" r="2.5" fill="#ffffff" fill-opacity="0.82" stroke="#6590c8" stroke-opacity="0.50" stroke-width="1"/>
<circle cx="297.45" cy="587.02" r="2.5" fill="#5f8fc8" fill-opacity="0.88" stroke="#5f8fc8" stroke-opacity="0.9" stroke-width="0.8"/>
<circle cx="298.42" cy="590.47" r="2.5" fill="#5f8fc8" fill-opacity="0.88" stroke="#5f8fc8" stroke-opacity="0.9" stroke-width="0.8"/>
<circle cx="299.39" cy="593.83" r="2.5" fill="#5f8fc8" fill-opacity="0.88" stroke="#5f8fc8" stroke-opacity="0.9" stroke-width="0.8"/>
<circle cx="300.36" cy="597.18" r="2.5" fill="#ffffff" fill-opacity="0.82" stroke="#6590c8" stroke-opacity="0.50" stroke-width="1"/>
<circle cx="301.33" cy="599.93" r="2.5" fill="#ffffff" fill-opacity="0.82" stroke="#6590c8" stroke-opacity="0.50" stroke-width="1"/>
<circle cx="302.30" cy="602.49" r="2.5" fill="#ffffff" fill-opacity="0.82" stroke="#6590c8" stroke-opacity="0.50" stroke-width="1"/>
<circle cx="303.28" cy="605.05" r="2.5" fill="#5f8fc8" fill-opacity="0.88" stroke="#5f8fc8" stroke-opacity="0.9" stroke-width="0.8"/>
<circle cx="304.25" cy="607.38" r="2.5" fill="#ffffff" fill-opacity="0.82" stroke="#6590c8" stroke-opacity="0.50" stroke-width="1"/>
<circle cx="305.22" cy="609.64" r="2.5" fill="#5f8fc8" fill-opacity="0.88" stroke="#5f8fc8" stroke-opacity="0.9" stroke-width="0.8"/>
<circle cx="306.19" cy="611.90" r="2.5" fill="#ffffff" fill-opacity="0.82" stroke="#6590c8" stroke-opacity="0.50" stroke-width="1"/>
<circle cx="307.16" cy="613.41" r="2.5" fill="#ffffff" fill-opacity="0.82" stroke="#6590c8" stroke-opacity="0.50" stroke-width="1"/>
<circle cx="308.13" cy="614.71" r="2.5" fill="#ffffff" fill-opacity="0.82" stroke="#6590c8" stroke-opacity="0.50" stroke-width="1"/>
<circle cx="309.11" cy="616.02" r="2.5" fill="#ffffff" fill-opacity="0.82" stroke="#6590c8" stroke-opacity="0.50" stroke-width="1"/>
<circle cx="310.08" cy="617.09" r="2.5" fill="#ffffff" fill-opacity="0.82" stroke="#6590c8" stroke-opacity="0.40" stroke-width="1"/>
<circle cx="311.05" cy="618.12" r="2.5" fill="#ffffff" fill-opacity="0.82" stroke="#6590c8" stroke-opacity="0.36" stroke-width="1"/>
<circle cx="312.02" cy="619.14" r="2.5" fill="#ffffff" fill-opacity="0.82" stroke="#6590c8" stroke-opacity="0.36" stroke-width="1"/>
<circle cx="312.99" cy="620.16" r="2.5" fill="#ffffff" fill-opacity="0.82" stroke="#6590c8" stroke-opacity="0.36" stroke-width="1"/>
<circle cx="313.96" cy="621.11" r="2.5" fill="#5f8fc8" fill-opacity="0.88" stroke="#5f8fc8" stroke-opacity="0.9" stroke-width="0.8"/>
<circle cx="314.94" cy="622.05" r="2.5" fill="#ffffff" fill-opacity="0.82" stroke="#6590c8" stroke-opacity="0.32" stroke-width="1"/>
<circle cx="315.91" cy="623.00" r="2.5" fill="#ffffff" fill-opacity="0.82" stroke="#6590c8" stroke-opacity="0.32" stroke-width="1"/>
<circle cx="316.88" cy="623.95" r="2.5" fill="#ffffff" fill-opacity="0.82" stroke="#6590c8" stroke-opacity="0.32" stroke-width="1"/>
<circle cx="317.85" cy="625.34" r="2.5" fill="#ffffff" fill-opacity="0.82" stroke="#6590c8" stroke-opacity="0.50" stroke-width="1"/>
<circle cx="318.82" cy="626.79" r="2.5" fill="#ffffff" fill-opacity="0.82" stroke="#6590c8" stroke-opacity="0.50" stroke-width="1"/>
<circle cx="319.79" cy="628.25" r="2.5" fill="#5f8fc8" fill-opacity="0.88" stroke="#5f8fc8" stroke-opacity="0.9" stroke-width="0.8"/>
<circle cx="320.77" cy="629.70" r="2.5" fill="#ffffff" fill-opacity="0.82" stroke="#6590c8" stroke-opacity="0.50" stroke-width="1"/>
<circle cx="321.74" cy="630.99" r="2.5" fill="#5f8fc8" fill-opacity="0.88" stroke="#5f8fc8" stroke-opacity="0.9" stroke-width="0.8"/>
<circle cx="322.71" cy="632.24" r="2.5" fill="#5f8fc8" fill-opacity="0.88" stroke="#5f8fc8" stroke-opacity="0.9" stroke-width="0.8"/>
<circle cx="323.68" cy="633.49" r="2.5" fill="#ffffff" fill-opacity="0.82" stroke="#6590c8" stroke-opacity="0.50" stroke-width="1"/>
<circle cx="324.65" cy="634.53" r="2.5" fill="#ffffff" fill-opacity="0.82" stroke="#6590c8" stroke-opacity="0.37" stroke-width="1"/>
<circle cx="325.62" cy="635.53" r="2.5" fill="#ffffff" fill-opacity="0.82" stroke="#6590c8" stroke-opacity="0.35" stroke-width="1"/>
<circle cx="326.60" cy="636.54" r="2.5" fill="#ffffff" fill-opacity="0.82" stroke="#6590c8" stroke-opacity="0.35" stroke-width="1"/>
<circle cx="327.57" cy="637.09" r="2.5" fill="#ffffff" fill-opacity="0.82" stroke="#6590c8" stroke-opacity="0.11" stroke-width="1"/>
<circle cx="328.54" cy="637.58" r="2.5" fill="#ffffff" fill-opacity="0.82" stroke="#6590c8" stroke-opacity="0.09" stroke-width="1"/>
<circle cx="329.51" cy="638.08" r="2.5" fill="#ffffff" fill-opacity="0.82" stroke="#6590c8" stroke-opacity="0.09" stroke-width="1"/>
<circle cx="330.48" cy="638.58" r="2.5" fill="#ffffff" fill-opacity="0.82" stroke="#6590c8" stroke-opacity="0.09" stroke-width="1"/>
<circle cx="331.45" cy="638.59" r="2.5" fill="#ffffff" fill-opacity="0.82" stroke="#6590c8" stroke-opacity="0.01" stroke-width="1"/>
<circle cx="332.43" cy="638.59" r="2.5" fill="#ffffff" fill-opacity="0.82" stroke="#6590c8" stroke-opacity="0.01" stroke-width="1"/>
<circle cx="333.40" cy="638.59" r="2.5" fill="#ffffff" fill-opacity="0.82" stroke="#6590c8" stroke-opacity="0.01" stroke-width="1"/>
<circle cx="334.37" cy="638.59" r="2.5" fill="#ffffff" fill-opacity="0.82" stroke="#6590c8" stroke-opacity="0.01" stroke-width="1"/>
<circle cx="335.34" cy="637.62" r="2.5" fill="#ffffff" fill-opacity="0.82" stroke="#6590c8" stroke-opacity="0.33" stroke-width="1"/>
<circle cx="336.31" cy="636.61" r="2.5" fill="#ffffff" fill-opacity="0.82" stroke="#6590c8" stroke-opacity="0.35" stroke-width="1"/>
<circle cx="337.29" cy="635.61" r="2.5" fill="#ffffff" fill-opacity="0.82" stroke="#6590c8" stroke-opacity="0.35" stroke-width="1"/>
<circle cx="338.26" cy="634.01" r="2.5" fill="#5f8fc8" fill-opacity="0.88" stroke="#5f8fc8" stroke-opacity="0.9" stroke-width="0.8"/>
<circle cx="339.23" cy="632.41" r="2.5" fill="#ffffff" fill-opacity="0.82" stroke="#6590c8" stroke-opacity="0.50" stroke-width="1"/>
<circle cx="340.20" cy="630.80" r="2.5" fill="#ffffff" fill-opacity="0.82" stroke="#6590c8" stroke-opacity="0.50" stroke-width="1"/>
<circle cx="341.17" cy="628.78" r="2.5" fill="#5f8fc8" fill-opacity="0.88" stroke="#5f8fc8" stroke-opacity="0.9" stroke-width="0.8"/>
<circle cx="342.14" cy="626.75" r="2.5" fill="#5f8fc8" fill-opacity="0.88" stroke="#5f8fc8" stroke-opacity="0.9" stroke-width="0.8"/>
<circle cx="343.12" cy="624.78" r="2.5" fill="#ffffff" fill-opacity="0.82" stroke="#6590c8" stroke-opacity="0.50" stroke-width="1"/>
<circle cx="344.09" cy="623.23" r="2.5" fill="#ffffff" fill-opacity="0.82" stroke="#6590c8" stroke-opacity="0.50" stroke-width="1"/>
<circle cx="345.06" cy="621.67" r="2.5" fill="#5f8fc8" fill-opacity="0.88" stroke="#5f8fc8" stroke-opacity="0.9" stroke-width="0.8"/>
<circle cx="346.03" cy="620.12" r="2.5" fill="#5f8fc8" fill-opacity="0.88" stroke="#5f8fc8" stroke-opacity="0.9" stroke-width="0.8"/>
<circle cx="347.00" cy="618.51" r="2.5" fill="#5f8fc8" fill-opacity="0.88" stroke="#5f8fc8" stroke-opacity="0.9" stroke-width="0.8"/>
<circle cx="347.97" cy="616.91" r="2.5" fill="#5f8fc8" fill-opacity="0.88" stroke="#5f8fc8" stroke-opacity="0.9" stroke-width="0.8"/>
<circle cx="348.95" cy="615.30" r="2.5" fill="#ffffff" fill-opacity="0.82" stroke="#6590c8" stroke-opacity="0.50" stroke-width="1"/>
<circle cx="349.92" cy="613.64" r="2.5" fill="#5f8fc8" fill-opacity="0.88" stroke="#5f8fc8" stroke-opacity="0.9" stroke-width="0.8"/>
<circle cx="350.89" cy="611.99" r="2.5" fill="#5f8fc8" fill-opacity="0.88" stroke="#5f8fc8" stroke-opacity="0.9" stroke-width="0.8"/>
<circle cx="351.86" cy="610.34" r="2.5" fill="#ffffff" fill-opacity="0.82" stroke="#6590c8" stroke-opacity="0.50" stroke-width="1"/>
<circle cx="352.83" cy="608.73" r="2.5" fill="#ffffff" fill-opacity="0.82" stroke="#6590c8" stroke-opacity="0.50" stroke-width="1"/>
<circle cx="353.80" cy="607.12" r="2.5" fill="#5f8fc8" fill-opacity="0.88" stroke="#5f8fc8" stroke-opacity="0.9" stroke-width="0.8"/>
<circle cx="354.78" cy="605.55" r="2.5" fill="#ffffff" fill-opacity="0.82" stroke="#6590c8" stroke-opacity="0.50" stroke-width="1"/>
<circle cx="355.75" cy="604.40" r="2.5" fill="#ffffff" fill-opacity="0.82" stroke="#6590c8" stroke-opacity="0.45" stroke-width="1"/>
<circle cx="356.72" cy="603.25" r="2.5" fill="#ffffff" fill-opacity="0.82" stroke="#6590c8" stroke-opacity="0.45" stroke-width="1"/>
<circle cx="357.69" cy="602.18" r="2.5" fill="#ffffff" fill-opacity="0.82" stroke="#6590c8" stroke-opacity="0.39" stroke-width="1"/>
<circle cx="358.66" cy="601.93" r="2.5" fill="#ffffff" fill-opacity="0.82" stroke="#6590c8" stroke-opacity="0.02" stroke-width="1"/>
<circle cx="359.63" cy="601.67" r="2.5" fill="#ffffff" fill-opacity="0.82" stroke="#6590c8" stroke-opacity="0.02" stroke-width="1"/>
<circle cx="360.61" cy="601.46" r="2.5" fill="#ffffff" fill-opacity="0.82" stroke="#6590c8" stroke-opacity="0.01" stroke-width="1"/>
<circle cx="361.58" cy="601.56" r="2.5" fill="#ffffff" fill-opacity="0.82" stroke="#6590c8" stroke-opacity="0.01" stroke-width="1"/>
<circle cx="362.55" cy="601.66" r="2.5" fill="#ffffff" fill-opacity="0.82" stroke="#6590c8" stroke-opacity="0.01" stroke-width="1"/>
<circle cx="363.52" cy="601.83" r="2.5" fill="#ffffff" fill-opacity="0.82" stroke="#6590c8" stroke-opacity="0.01" stroke-width="1"/>
<circle cx="364.49" cy="602.48" r="2.5" fill="#ffffff" fill-opacity="0.82" stroke="#6590c8" stroke-opacity="0.16" stroke-width="1"/>
<circle cx="365.46" cy="603.14" r="2.5" fill="#ffffff" fill-opacity="0.82" stroke="#6590c8" stroke-opacity="0.16" stroke-width="1"/>
<circle cx="366.44" cy="603.91" r="2.5" fill="#ffffff" fill-opacity="0.82" stroke="#6590c8" stroke-opacity="0.22" stroke-width="1"/>
<circle cx="367.41" cy="605.41" r="2.5" fill="#ffffff" fill-opacity="0.82" stroke="#6590c8" stroke-opacity="0.50" stroke-width="1"/>
<circle cx="368.38" cy="606.92" r="2.5" fill="#5f8fc8" fill-opacity="0.88" stroke="#5f8fc8" stroke-opacity="0.9" stroke-width="0.8"/>
<circle cx="369.35" cy="608.52" r="2.5" fill="#5f8fc8" fill-opacity="0.88" stroke="#5f8fc8" stroke-opacity="0.9" stroke-width="0.8"/>
<circle cx="370.32" cy="610.65" r="2.5" fill="#5f8fc8" fill-opacity="0.88" stroke="#5f8fc8" stroke-opacity="0.9" stroke-width="0.8"/>
<circle cx="371.29" cy="612.78" r="2.5" fill="#ffffff" fill-opacity="0.82" stroke="#6590c8" stroke-opacity="0.50" stroke-width="1"/>
<circle cx="372.27" cy="614.85" r="2.5" fill="#5f8fc8" fill-opacity="0.88" stroke="#5f8fc8" stroke-opacity="0.9" stroke-width="0.8"/>
<circle cx="373.24" cy="616.74" r="2.5" fill="#ffffff" fill-opacity="0.82" stroke="#6590c8" stroke-opacity="0.50" stroke-width="1"/>
<circle cx="374.21" cy="618.63" r="2.5" fill="#5f8fc8" fill-opacity="0.88" stroke="#5f8fc8" stroke-opacity="0.9" stroke-width="0.8"/>
<circle cx="375.18" cy="620.50" r="2.5" fill="#ffffff" fill-opacity="0.82" stroke="#6590c8" stroke-opacity="0.50" stroke-width="1"/>
<circle cx="376.15" cy="622.25" r="2.5" fill="#ffffff" fill-opacity="0.82" stroke="#6590c8" stroke-opacity="0.50" stroke-width="1"/>
<circle cx="377.12" cy="624.01" r="2.5" fill="#ffffff" fill-opacity="0.82" stroke="#6590c8" stroke-opacity="0.50" stroke-width="1"/>
<circle cx="378.10" cy="625.75" r="2.5" fill="#ffffff" fill-opacity="0.82" stroke="#6590c8" stroke-opacity="0.50" stroke-width="1"/>
<circle cx="379.07" cy="627.40" r="2.5" fill="#5f8fc8" fill-opacity="0.88" stroke="#5f8fc8" stroke-opacity="0.9" stroke-width="0.8"/>
<circle cx="380.04" cy="629.05" r="2.5" fill="#ffffff" fill-opacity="0.82" stroke="#6590c8" stroke-opacity="0.50" stroke-width="1"/>
<circle cx="381.01" cy="630.70" r="2.5" fill="#ffffff" fill-opacity="0.82" stroke="#6590c8" stroke-opacity="0.50" stroke-width="1"/>
<circle cx="381.98" cy="632.08" r="2.5" fill="#ffffff" fill-opacity="0.82" stroke="#6590c8" stroke-opacity="0.50" stroke-width="1"/>
<circle cx="382.96" cy="633.05" r="2.5" fill="#ffffff" fill-opacity="0.82" stroke="#6590c8" stroke-opacity="0.33" stroke-width="1"/>
<circle cx="383.93" cy="634.02" r="2.5" fill="#ffffff" fill-opacity="0.82" stroke="#6590c8" stroke-opacity="0.33" stroke-width="1"/>
<circle cx="384.90" cy="634.99" r="2.5" fill="#ffffff" fill-opacity="0.82" stroke="#6590c8" stroke-opacity="0.33" stroke-width="1"/>
<circle cx="385.87" cy="635.89" r="2.5" fill="#ffffff" fill-opacity="0.82" stroke="#6590c8" stroke-opacity="0.29" stroke-width="1"/>
<circle cx="386.84" cy="636.65" r="2.5" fill="#ffffff" fill-opacity="0.82" stroke="#6590c8" stroke-opacity="0.22" stroke-width="1"/>
<circle cx="387.81" cy="637.42" r="2.5" fill="#5f8fc8" fill-opacity="0.88" stroke="#5f8fc8" stroke-opacity="0.9" stroke-width="0.8"/>
<circle cx="388.79" cy="638.18" r="2.5" fill="#ffffff" fill-opacity="0.82" stroke="#6590c8" stroke-opacity="0.22" stroke-width="1"/>
<circle cx="389.76" cy="638.92" r="2.5" fill="#ffffff" fill-opacity="0.82" stroke="#6590c8" stroke-opacity="0.20" stroke-width="1"/>
<circle cx="390.73" cy="639.63" r="2.5" fill="#5f8fc8" fill-opacity="0.88" stroke="#5f8fc8" stroke-opacity="0.9" stroke-width="0.8"/>
<circle cx="391.70" cy="640.34" r="2.5" fill="#ffffff" fill-opacity="0.82" stroke="#6590c8" stroke-opacity="0.19" stroke-width="1"/>
<circle cx="392.67" cy="641.05" r="2.5" fill="#ffffff" fill-opacity="0.82" stroke="#6590c8" stroke-opacity="0.19" stroke-width="1"/>
<circle cx="393.64" cy="641.73" r="2.5" fill="#ffffff" fill-opacity="0.82" stroke="#6590c8" stroke-opacity="0.17" stroke-width="1"/>
<circle cx="394.62" cy="642.38" r="2.5" fill="#ffffff" fill-opacity="0.82" stroke="#6590c8" stroke-opacity="0.16" stroke-width="1"/>
<circle cx="395.59" cy="643.03" r="2.5" fill="#ffffff" fill-opacity="0.82" stroke="#6590c8" stroke-opacity="0.16" stroke-width="1"/>
<circle cx="396.56" cy="643.68" r="2.5" fill="#ffffff" fill-opacity="0.82" stroke="#6590c8" stroke-opacity="0.16" stroke-width="1"/>
<circle cx="397.53" cy="644.25" r="2.5" fill="#ffffff" fill-opacity="0.82" stroke="#6590c8" stroke-opacity="0.12" stroke-width="1"/>
<circle cx="398.50" cy="644.73" r="2.5" fill="#ffffff" fill-opacity="0.82" stroke="#6590c8" stroke-opacity="0.09" stroke-width="1"/>
<circle cx="399.47" cy="645.22" r="2.5" fill="#ffffff" fill-opacity="0.82" stroke="#6590c8" stroke-opacity="0.09" stroke-width="1"/>
<circle cx="400.45" cy="645.70" r="2.5" fill="#ffffff" fill-opacity="0.82" stroke="#6590c8" stroke-opacity="0.09" stroke-width="1"/>
<circle cx="401.42" cy="646.03" r="2.5" fill="#ffffff" fill-opacity="0.82" stroke="#6590c8" stroke-opacity="0.04" stroke-width="1"/>
<circle cx="402.39" cy="646.21" r="2.5" fill="#ffffff" fill-opacity="0.82" stroke="#6590c8" stroke-opacity="0.01" stroke-width="1"/>
<circle cx="403.36" cy="646.40" r="2.5" fill="#ffffff" fill-opacity="0.82" stroke="#6590c8" stroke-opacity="0.01" stroke-width="1"/>
<circle cx="404.33" cy="646.59" r="2.5" fill="#ffffff" fill-opacity="0.82" stroke="#6590c8" stroke-opacity="0.01" stroke-width="1"/>
<circle cx="405.30" cy="646.76" r="2.5" fill="#ffffff" fill-opacity="0.82" stroke="#6590c8" stroke-opacity="0.01" stroke-width="1"/>
<circle cx="406.28" cy="646.91" r="2.5" fill="#ffffff" fill-opacity="0.82" stroke="#6590c8" stroke-opacity="0.01" stroke-width="1"/>
<circle cx="407.25" cy="647.06" r="2.5" fill="#ffffff" fill-opacity="0.82" stroke="#6590c8" stroke-opacity="0.01" stroke-width="1"/>
<circle cx="408.22" cy="647.21" r="2.5" fill="#ffffff" fill-opacity="0.82" stroke="#6590c8" stroke-opacity="0.01" stroke-width="1"/>
<circle cx="409.19" cy="647.27" r="2.5" fill="#ffffff" fill-opacity="0.82" stroke="#6590c8" stroke-opacity="0.01" stroke-width="1"/>
<circle cx="410.16" cy="647.27" r="2.5" fill="#ffffff" fill-opacity="0.82" stroke="#6590c8" stroke-opacity="0.01" stroke-width="1"/>
<circle cx="411.13" cy="647.27" r="2.5" fill="#ffffff" fill-opacity="0.82" stroke="#6590c8" stroke-opacity="0.01" stroke-width="1"/>
<circle cx="412.11" cy="647.27" r="2.5" fill="#ffffff" fill-opacity="0.82" stroke="#6590c8" stroke-opacity="0.01" stroke-width="1"/>
<circle cx="413.08" cy="647.19" r="2.5" fill="#ffffff" fill-opacity="0.82" stroke="#6590c8" stroke-opacity="0.01" stroke-width="1"/>
<circle cx="414.05" cy="647.04" r="2.5" fill="#ffffff" fill-opacity="0.82" stroke="#6590c8" stroke-opacity="0.01" stroke-width="1"/>
<circle cx="415.02" cy="646.89" r="2.5" fill="#ffffff" fill-opacity="0.82" stroke="#6590c8" stroke-opacity="0.01" stroke-width="1"/>
<circle cx="415.99" cy="646.74" r="2.5" fill="#ffffff" fill-opacity="0.82" stroke="#6590c8" stroke-opacity="0.01" stroke-width="1"/>
<circle cx="416.96" cy="646.48" r="2.5" fill="#ffffff" fill-opacity="0.82" stroke="#6590c8" stroke-opacity="0.02" stroke-width="1"/>
<circle cx="417.94" cy="646.13" r="2.5" fill="#ffffff" fill-opacity="0.82" stroke="#6590c8" stroke-opacity="0.04" stroke-width="1"/>
<circle cx="418.91" cy="645.79" r="2.5" fill="#ffffff" fill-opacity="0.82" stroke="#6590c8" stroke-opacity="0.04" stroke-width="1"/>
<circle cx="419.88" cy="645.44" r="2.5" fill="#ffffff" fill-opacity="0.82" stroke="#6590c8" stroke-opacity="0.04" stroke-width="1"/>
<circle cx="420.85" cy="644.99" r="2.5" fill="#ffffff" fill-opacity="0.82" stroke="#6590c8" stroke-opacity="0.07" stroke-width="1"/>
<circle cx="421.82" cy="644.50" r="2.5" fill="#ffffff" fill-opacity="0.82" stroke="#6590c8" stroke-opacity="0.09" stroke-width="1"/>
<circle cx="422.80" cy="644.00" r="2.5" fill="#ffffff" fill-opacity="0.82" stroke="#6590c8" stroke-opacity="0.09" stroke-width="1"/>
<circle cx="423.77" cy="643.50" r="2.5" fill="#ffffff" fill-opacity="0.82" stroke="#6590c8" stroke-opacity="0.09" stroke-width="1"/>
<circle cx="424.74" cy="643.02" r="2.5" fill="#ffffff" fill-opacity="0.82" stroke="#6590c8" stroke-opacity="0.09" stroke-width="1"/>
<circle cx="425.71" cy="642.55" r="2.5" fill="#ffffff" fill-opacity="0.82" stroke="#6590c8" stroke-opacity="0.08" stroke-width="1"/>
<circle cx="426.68" cy="642.08" r="2.5" fill="#ffffff" fill-opacity="0.82" stroke="#6590c8" stroke-opacity="0.08" stroke-width="1"/>
<circle cx="427.65" cy="641.60" r="2.5" fill="#ffffff" fill-opacity="0.82" stroke="#6590c8" stroke-opacity="0.08" stroke-width="1"/>
<circle cx="428.63" cy="641.02" r="2.5" fill="#ffffff" fill-opacity="0.82" stroke="#6590c8" stroke-opacity="0.13" stroke-width="1"/>
<circle cx="429.60" cy="640.36" r="2.5" fill="#ffffff" fill-opacity="0.82" stroke="#6590c8" stroke-opacity="0.16" stroke-width="1"/>
<circle cx="430.57" cy="639.71" r="2.5" fill="#ffffff" fill-opacity="0.82" stroke="#6590c8" stroke-opacity="0.16" stroke-width="1"/>
<circle cx="431.54" cy="639.06" r="2.5" fill="#5f8fc8" fill-opacity="0.88" stroke="#5f8fc8" stroke-opacity="0.9" stroke-width="0.8"/>
<circle cx="432.51" cy="638.29" r="2.5" fill="#ffffff" fill-opacity="0.82" stroke="#6590c8" stroke-opacity="0.22" stroke-width="1"/>
<circle cx="433.48" cy="637.47" r="2.5" fill="#5f8fc8" fill-opacity="0.88" stroke="#5f8fc8" stroke-opacity="0.9" stroke-width="0.8"/>
<circle cx="434.46" cy="636.65" r="2.5" fill="#ffffff" fill-opacity="0.82" stroke="#6590c8" stroke-opacity="0.25" stroke-width="1"/>
<circle cx="435.43" cy="635.82" r="2.5" fill="#ffffff" fill-opacity="0.82" stroke="#6590c8" stroke-opacity="0.25" stroke-width="1"/>
<circle cx="436.40" cy="634.91" r="2.5" fill="#ffffff" fill-opacity="0.82" stroke="#6590c8" stroke-opacity="0.30" stroke-width="1"/>
<circle cx="437.37" cy="633.96" r="2.5" fill="#ffffff" fill-opacity="0.82" stroke="#6590c8" stroke-opacity="0.32" stroke-width="1"/>
<circle cx="438.34" cy="633.00" r="2.5" fill="#ffffff" fill-opacity="0.82" stroke="#6590c8" stroke-opacity="0.32" stroke-width="1"/>
<circle cx="439.31" cy="631.79" r="2.5" fill="#ffffff" fill-opacity="0.82" stroke="#6590c8" stroke-opacity="0.49" stroke-width="1"/>
<circle cx="440.29" cy="630.49" r="2.5" fill="#ffffff" fill-opacity="0.82" stroke="#6590c8" stroke-opacity="0.50" stroke-width="1"/>
<circle cx="441.26" cy="629.18" r="2.5" fill="#ffffff" fill-opacity="0.82" stroke="#6590c8" stroke-opacity="0.50" stroke-width="1"/>
<circle cx="442.23" cy="628.14" r="2.5" fill="#ffffff" fill-opacity="0.82" stroke="#6590c8" stroke-opacity="0.38" stroke-width="1"/>
<circle cx="443.20" cy="627.19" r="2.5" fill="#ffffff" fill-opacity="0.82" stroke="#6590c8" stroke-opacity="0.32" stroke-width="1"/>
<circle cx="444.17" cy="626.23" r="2.5" fill="#ffffff" fill-opacity="0.82" stroke="#6590c8" stroke-opacity="0.32" stroke-width="1"/>
<circle cx="445.14" cy="625.51" r="2.5" fill="#ffffff" fill-opacity="0.82" stroke="#6590c8" stroke-opacity="0.19" stroke-width="1"/>
<circle cx="446.12" cy="624.86" r="2.5" fill="#ffffff" fill-opacity="0.82" stroke="#6590c8" stroke-opacity="0.16" stroke-width="1"/>
<circle cx="447.09" cy="624.21" r="2.5" fill="#ffffff" fill-opacity="0.82" stroke="#6590c8" stroke-opacity="0.16" stroke-width="1"/>
<circle cx="448.06" cy="623.79" r="2.5" fill="#ffffff" fill-opacity="0.82" stroke="#6590c8" stroke-opacity="0.06" stroke-width="1"/>
<circle cx="449.03" cy="623.44" r="2.5" fill="#ffffff" fill-opacity="0.82" stroke="#6590c8" stroke-opacity="0.04" stroke-width="1"/>
<circle cx="450.00" cy="623.09" r="2.5" fill="#ffffff" fill-opacity="0.82" stroke="#6590c8" stroke-opacity="0.04" stroke-width="1"/>
<circle cx="450.97" cy="623.14" r="2.5" fill="#ffffff" fill-opacity="0.82" stroke="#6590c8" stroke-opacity="0.01" stroke-width="1"/>
<circle cx="451.95" cy="623.30" r="2.5" fill="#ffffff" fill-opacity="0.82" stroke="#6590c8" stroke-opacity="0.01" stroke-width="1"/>
<circle cx="452.92" cy="623.45" r="2.5" fill="#ffffff" fill-opacity="0.82" stroke="#6590c8" stroke-opacity="0.01" stroke-width="1"/>
<circle cx="453.89" cy="624.22" r="2.5" fill="#ffffff" fill-opacity="0.82" stroke="#6590c8" stroke-opacity="0.22" stroke-width="1"/>
<circle cx="454.86" cy="625.04" r="2.5" fill="#ffffff" fill-opacity="0.82" stroke="#6590c8" stroke-opacity="0.25" stroke-width="1"/>
<circle cx="455.83" cy="625.87" r="2.5" fill="#ffffff" fill-opacity="0.82" stroke="#6590c8" stroke-opacity="0.25" stroke-width="1"/>
<circle cx="456.80" cy="627.09" r="2.5" fill="#ffffff" fill-opacity="0.82" stroke="#6590c8" stroke-opacity="0.49" stroke-width="1"/>
<circle cx="457.78" cy="628.40" r="2.5" fill="#ffffff" fill-opacity="0.82" stroke="#6590c8" stroke-opacity="0.50" stroke-width="1"/>
<circle cx="458.75" cy="629.70" r="2.5" fill="#ffffff" fill-opacity="0.82" stroke="#6590c8" stroke-opacity="0.50" stroke-width="1"/>
<circle cx="459.72" cy="631.26" r="2.5" fill="#5f8fc8" fill-opacity="0.88" stroke="#5f8fc8" stroke-opacity="0.9" stroke-width="0.8"/>
<circle cx="460.69" cy="632.86" r="2.5" fill="#ffffff" fill-opacity="0.82" stroke="#6590c8" stroke-opacity="0.50" stroke-width="1"/>
<circle cx="461.66" cy="634.47" r="2.5" fill="#ffffff" fill-opacity="0.82" stroke="#6590c8" stroke-opacity="0.50" stroke-width="1"/>
<circle cx="462.63" cy="635.82" r="2.5" fill="#ffffff" fill-opacity="0.82" stroke="#6590c8" stroke-opacity="0.50" stroke-width="1"/>
<circle cx="463.61" cy="637.12" r="2.5" fill="#ffffff" fill-opacity="0.82" stroke="#6590c8" stroke-opacity="0.50" stroke-width="1"/>
<circle cx="464.58" cy="638.43" r="2.5" fill="#ffffff" fill-opacity="0.82" stroke="#6590c8" stroke-opacity="0.50" stroke-width="1"/>
<circle cx="465.55" cy="639.69" r="2.5" fill="#ffffff" fill-opacity="0.82" stroke="#6590c8" stroke-opacity="0.50" stroke-width="1"/>
<circle cx="466.52" cy="640.94" r="2.5" fill="#5f8fc8" fill-opacity="0.88" stroke="#5f8fc8" stroke-opacity="0.9" stroke-width="0.8"/>
<circle cx="467.49" cy="642.20" r="2.5" fill="#ffffff" fill-opacity="0.82" stroke="#6590c8" stroke-opacity="0.50" stroke-width="1"/>
<circle cx="468.47" cy="643.49" r="2.5" fill="#5f8fc8" fill-opacity="0.88" stroke="#5f8fc8" stroke-opacity="0.9" stroke-width="0.8"/>
<circle cx="469.44" cy="644.80" r="2.5" fill="#5f8fc8" fill-opacity="0.88" stroke="#5f8fc8" stroke-opacity="0.9" stroke-width="0.8"/>
<circle cx="470.41" cy="646.10" r="2.5" fill="#ffffff" fill-opacity="0.82" stroke="#6590c8" stroke-opacity="0.50" stroke-width="1"/>
<circle cx="471.38" cy="646.68" r="2.5" fill="#ffffff" fill-opacity="0.82" stroke="#6590c8" stroke-opacity="0.12" stroke-width="1"/>
<circle cx="472.35" cy="647.18" r="2.5" fill="#ffffff" fill-opacity="0.82" stroke="#6590c8" stroke-opacity="0.09" stroke-width="1"/>
<circle cx="473.32" cy="647.67" r="2.5" fill="#ffffff" fill-opacity="0.82" stroke="#6590c8" stroke-opacity="0.09" stroke-width="1"/>
<circle cx="474.30" cy="648.17" r="2.5" fill="#ffffff" fill-opacity="0.82" stroke="#6590c8" stroke-opacity="0.09" stroke-width="1"/>
<circle cx="475.27" cy="648.35" r="2.5" fill="#ffffff" fill-opacity="0.82" stroke="#6590c8" stroke-opacity="0.01" stroke-width="1"/>
<circle cx="476.24" cy="648.53" r="2.5" fill="#ffffff" fill-opacity="0.82" stroke="#6590c8" stroke-opacity="0.01" stroke-width="1"/>
<circle cx="477.21" cy="648.71" r="2.5" fill="#ffffff" fill-opacity="0.82" stroke="#6590c8" stroke-opacity="0.01" stroke-width="1"/>
<circle cx="478.18" cy="648.89" r="2.5" fill="#ffffff" fill-opacity="0.82" stroke="#6590c8" stroke-opacity="0.01" stroke-width="1"/>
<circle cx="479.15" cy="649.07" r="2.5" fill="#ffffff" fill-opacity="0.82" stroke="#6590c8" stroke-opacity="0.01" stroke-width="1"/>
<circle cx="480.13" cy="649.23" r="2.5" fill="#ffffff" fill-opacity="0.82" stroke="#6590c8" stroke-opacity="0.01" stroke-width="1"/>
<circle cx="481.10" cy="649.30" r="2.5" fill="#ffffff" fill-opacity="0.82" stroke="#6590c8" stroke-opacity="0.01" stroke-width="1"/>
<circle cx="482.07" cy="649.38" r="2.5" fill="#ffffff" fill-opacity="0.82" stroke="#6590c8" stroke-opacity="0.01" stroke-width="1"/>
<circle cx="483.04" cy="649.45" r="2.5" fill="#ffffff" fill-opacity="0.82" stroke="#6590c8" stroke-opacity="0.01" stroke-width="1"/>
<circle cx="484.01" cy="649.52" r="2.5" fill="#ffffff" fill-opacity="0.82" stroke="#6590c8" stroke-opacity="0.01" stroke-width="1"/>
<circle cx="484.98" cy="649.59" r="2.5" fill="#ffffff" fill-opacity="0.82" stroke="#6590c8" stroke-opacity="0.01" stroke-width="1"/>
<circle cx="485.96" cy="649.67" r="2.5" fill="#ffffff" fill-opacity="0.82" stroke="#6590c8" stroke-opacity="0.01" stroke-width="1"/>
<circle cx="486.93" cy="649.77" r="2.5" fill="#ffffff" fill-opacity="0.82" stroke="#6590c8" stroke-opacity="0.01" stroke-width="1"/>
<circle cx="487.90" cy="649.88" r="2.5" fill="#ffffff" fill-opacity="0.82" stroke="#6590c8" stroke-opacity="0.01" stroke-width="1"/>
<circle cx="488.87" cy="649.99" r="2.5" fill="#ffffff" fill-opacity="0.82" stroke="#6590c8" stroke-opacity="0.01" stroke-width="1"/>
<circle cx="489.84" cy="650.10" r="2.5" fill="#ffffff" fill-opacity="0.82" stroke="#6590c8" stroke-opacity="0.01" stroke-width="1"/>
<circle cx="490.81" cy="650.31" r="2.5" fill="#ffffff" fill-opacity="0.82" stroke="#6590c8" stroke-opacity="0.01" stroke-width="1"/>
<circle cx="491.79" cy="650.53" r="2.5" fill="#ffffff" fill-opacity="0.82" stroke="#6590c8" stroke-opacity="0.01" stroke-width="1"/>
<circle cx="492.76" cy="650.76" r="2.5" fill="#ffffff" fill-opacity="0.82" stroke="#6590c8" stroke-opacity="0.01" stroke-width="1"/>
<circle cx="493.73" cy="650.98" r="2.5" fill="#ffffff" fill-opacity="0.82" stroke="#6590c8" stroke-opacity="0.01" stroke-width="1"/>
<circle cx="494.70" cy="651.24" r="2.5" fill="#ffffff" fill-opacity="0.82" stroke="#6590c8" stroke-opacity="0.02" stroke-width="1"/>
<circle cx="495.67" cy="651.51" r="2.5" fill="#ffffff" fill-opacity="0.82" stroke="#6590c8" stroke-opacity="0.02" stroke-width="1"/>
<circle cx="496.64" cy="651.78" r="2.5" fill="#ffffff" fill-opacity="0.82" stroke="#6590c8" stroke-opacity="0.02" stroke-width="1"/>
<circle cx="497.62" cy="652.04" r="2.5" fill="#ffffff" fill-opacity="0.82" stroke="#6590c8" stroke-opacity="0.02" stroke-width="1"/>
<circle cx="498.59" cy="651.20" r="2.5" fill="#ffffff" fill-opacity="0.82" stroke="#6590c8" stroke-opacity="0.26" stroke-width="1"/>
<circle cx="499.56" cy="650.24" r="2.5" fill="#ffffff" fill-opacity="0.82" stroke="#6590c8" stroke-opacity="0.32" stroke-width="1"/>
<circle cx="500.53" cy="649.29" r="2.5" fill="#ffffff" fill-opacity="0.82" stroke="#6590c8" stroke-opacity="0.32" stroke-width="1"/>
<circle cx="501.50" cy="648.01" r="2.5" fill="#ffffff" fill-opacity="0.82" stroke="#6590c8" stroke-opacity="0.50" stroke-width="1"/>
<circle cx="502.47" cy="646.70" r="2.5" fill="#5f8fc8" fill-opacity="0.88" stroke="#5f8fc8" stroke-opacity="0.9" stroke-width="0.8"/>
<circle cx="503.45" cy="645.40" r="2.5" fill="#ffffff" fill-opacity="0.82" stroke="#6590c8" stroke-opacity="0.50" stroke-width="1"/>
<circle cx="504.42" cy="643.06" r="2.5" fill="#ffffff" fill-opacity="0.82" stroke="#6590c8" stroke-opacity="0.50" stroke-width="1"/>
<circle cx="505.39" cy="640.66" r="2.5" fill="#5f8fc8" fill-opacity="0.88" stroke="#5f8fc8" stroke-opacity="0.9" stroke-width="0.8"/>
<circle cx="506.36" cy="637.81" r="2.5" fill="#ffffff" fill-opacity="0.82" stroke="#6590c8" stroke-opacity="0.50" stroke-width="1"/>
<circle cx="507.33" cy="634.90" r="2.5" fill="#5f8fc8" fill-opacity="0.88" stroke="#5f8fc8" stroke-opacity="0.9" stroke-width="0.8"/>
<circle cx="508.31" cy="631.91" r="2.5" fill="#ffffff" fill-opacity="0.82" stroke="#6590c8" stroke-opacity="0.50" stroke-width="1"/>
<circle cx="509.28" cy="628.93" r="2.5" fill="#ffffff" fill-opacity="0.82" stroke="#6590c8" stroke-opacity="0.50" stroke-width="1"/>
<circle cx="510.25" cy="626.09" r="2.5" fill="#5f8fc8" fill-opacity="0.88" stroke="#5f8fc8" stroke-opacity="0.9" stroke-width="0.8"/>
<circle cx="511.22" cy="623.25" r="2.5" fill="#5f8fc8" fill-opacity="0.88" stroke="#5f8fc8" stroke-opacity="0.9" stroke-width="0.8"/>
<circle cx="512.19" cy="620.34" r="2.5" fill="#ffffff" fill-opacity="0.82" stroke="#6590c8" stroke-opacity="0.50" stroke-width="1"/>
<circle cx="513.16" cy="617.43" r="2.5" fill="#ffffff" fill-opacity="0.82" stroke="#6590c8" stroke-opacity="0.50" stroke-width="1"/>
<circle cx="514.14" cy="613.75" r="2.5" fill="#5f8fc8" fill-opacity="0.88" stroke="#5f8fc8" stroke-opacity="0.9" stroke-width="0.8"/>
<circle cx="515.11" cy="610.03" r="2.5" fill="#5f8fc8" fill-opacity="0.88" stroke="#5f8fc8" stroke-opacity="0.9" stroke-width="0.8"/>
<circle cx="516.08" cy="606.32" r="2.5" fill="#ffffff" fill-opacity="0.82" stroke="#6590c8" stroke-opacity="0.50" stroke-width="1"/>
<circle cx="517.05" cy="602.63" r="2.5" fill="#5f8fc8" fill-opacity="0.88" stroke="#5f8fc8" stroke-opacity="0.9" stroke-width="0.8"/>
<circle cx="518.02" cy="599.36" r="2.5" fill="#ffffff" fill-opacity="0.82" stroke="#6590c8" stroke-opacity="0.50" stroke-width="1"/>
<circle cx="518.99" cy="596.08" r="2.5" fill="#5f8fc8" fill-opacity="0.88" stroke="#5f8fc8" stroke-opacity="0.9" stroke-width="0.8"/>
<circle cx="519.97" cy="593.09" r="2.5" fill="#5f8fc8" fill-opacity="0.88" stroke="#5f8fc8" stroke-opacity="0.9" stroke-width="0.8"/>
<circle cx="520.94" cy="590.11" r="2.5" fill="#5f8fc8" fill-opacity="0.88" stroke="#5f8fc8" stroke-opacity="0.9" stroke-width="0.8"/>
<circle cx="521.91" cy="587.27" r="2.5" fill="#ffffff" fill-opacity="0.82" stroke="#6590c8" stroke-opacity="0.50" stroke-width="1"/>
<circle cx="522.88" cy="584.44" r="2.5" fill="#5f8fc8" fill-opacity="0.88" stroke="#5f8fc8" stroke-opacity="0.9" stroke-width="0.8"/>
<circle cx="523.85" cy="582.09" r="2.5" fill="#ffffff" fill-opacity="0.82" stroke="#6590c8" stroke-opacity="0.50" stroke-width="1"/>
<circle cx="524.82" cy="579.75" r="2.5" fill="#5f8fc8" fill-opacity="0.88" stroke="#5f8fc8" stroke-opacity="0.9" stroke-width="0.8"/>
<circle cx="525.80" cy="577.45" r="2.5" fill="#ffffff" fill-opacity="0.82" stroke="#6590c8" stroke-opacity="0.50" stroke-width="1"/>
<circle cx="526.77" cy="575.49" r="2.5" fill="#5f8fc8" fill-opacity="0.88" stroke="#5f8fc8" stroke-opacity="0.9" stroke-width="0.8"/>
<circle cx="527.74" cy="573.53" r="2.5" fill="#ffffff" fill-opacity="0.82" stroke="#6590c8" stroke-opacity="0.50" stroke-width="1"/>
<circle cx="528.71" cy="571.58" r="2.5" fill="#ffffff" fill-opacity="0.82" stroke="#6590c8" stroke-opacity="0.50" stroke-width="1"/>
<circle cx="529.68" cy="569.68" r="2.5" fill="#5f8fc8" fill-opacity="0.88" stroke="#5f8fc8" stroke-opacity="0.9" stroke-width="0.8"/>
<circle cx="530.65" cy="567.77" r="2.5" fill="#5f8fc8" fill-opacity="0.88" stroke="#5f8fc8" stroke-opacity="0.9" stroke-width="0.8"/>
<circle cx="531.63" cy="565.80" r="2.5" fill="#ffffff" fill-opacity="0.82" stroke="#6590c8" stroke-opacity="0.50" stroke-width="1"/>
<circle cx="532.60" cy="563.40" r="2.5" fill="#ffffff" fill-opacity="0.82" stroke="#6590c8" stroke-opacity="0.50" stroke-width="1"/>
<circle cx="533.57" cy="560.99" r="2.5" fill="#ffffff" fill-opacity="0.82" stroke="#6590c8" stroke-opacity="0.50" stroke-width="1"/>
<circle cx="534.54" cy="558.54" r="2.5" fill="#ffffff" fill-opacity="0.82" stroke="#6590c8" stroke-opacity="0.50" stroke-width="1"/>
<circle cx="535.51" cy="556.28" r="2.5" fill="#5f8fc8" fill-opacity="0.88" stroke="#5f8fc8" stroke-opacity="0.9" stroke-width="0.8"/>
<circle cx="536.48" cy="555.46" r="2.5" fill="#5f8fc8" fill-opacity="0.88" stroke="#5f8fc8" stroke-opacity="0.9" stroke-width="0.8"/>
<circle cx="537.46" cy="555.68" r="2.5" fill="#ffffff" fill-opacity="0.82" stroke="#6590c8" stroke-opacity="0.01" stroke-width="1"/>
<circle cx="538.43" cy="557.07" r="2.5" fill="#ffffff" fill-opacity="0.82" stroke="#6590c8" stroke-opacity="0.50" stroke-width="1"/>
<circle cx="539.40" cy="558.53" r="2.5" fill="#ffffff" fill-opacity="0.82" stroke="#6590c8" stroke-opacity="0.50" stroke-width="1"/>
<circle cx="540.37" cy="560.52" r="2.5" fill="#5f8fc8" fill-opacity="0.88" stroke="#5f8fc8" stroke-opacity="0.9" stroke-width="0.8"/>
<circle cx="541.34" cy="562.60" r="2.5" fill="#ffffff" fill-opacity="0.82" stroke="#6590c8" stroke-opacity="0.50" stroke-width="1"/>
<circle cx="542.31" cy="565.18" r="2.5" fill="#ffffff" fill-opacity="0.82" stroke="#6590c8" stroke-opacity="0.50" stroke-width="1"/>
<circle cx="543.29" cy="567.70" r="2.5" fill="#ffffff" fill-opacity="0.82" stroke="#6590c8" stroke-opacity="0.50" stroke-width="1"/>
<circle cx="544.26" cy="570.02" r="2.5" fill="#ffffff" fill-opacity="0.82" stroke="#6590c8" stroke-opacity="0.50" stroke-width="1"/>
<circle cx="545.23" cy="572.44" r="2.5" fill="#5f8fc8" fill-opacity="0.88" stroke="#5f8fc8" stroke-opacity="0.9" stroke-width="0.8"/>
<circle cx="546.20" cy="575.14" r="2.5" fill="#5f8fc8" fill-opacity="0.88" stroke="#5f8fc8" stroke-opacity="0.9" stroke-width="0.8"/>
<circle cx="547.17" cy="578.52" r="2.5" fill="#ffffff" fill-opacity="0.82" stroke="#6590c8" stroke-opacity="0.50" stroke-width="1"/>
<circle cx="548.14" cy="581.83" r="2.5" fill="#5f8fc8" fill-opacity="0.88" stroke="#5f8fc8" stroke-opacity="0.9" stroke-width="0.8"/>
<circle cx="549.12" cy="583.78" r="2.5" fill="#ffffff" fill-opacity="0.82" stroke="#6590c8" stroke-opacity="0.50" stroke-width="1"/>
<circle cx="550.09" cy="585.74" r="2.5" fill="#ffffff" fill-opacity="0.82" stroke="#6590c8" stroke-opacity="0.12" stroke-width="1"/>
<circle cx="551.06" cy="587.64" r="2.5" fill="#ffffff" fill-opacity="0.82" stroke="#6590c8" stroke-opacity="0.12" stroke-width="1"/>
<circle cx="552.03" cy="589.24" r="2.5" fill="#ffffff" fill-opacity="0.82" stroke="#6590c8" stroke-opacity="0.12" stroke-width="1"/>
<circle cx="553.00" cy="590.85" r="2.5" fill="#ffffff" fill-opacity="0.82" stroke="#6590c8" stroke-opacity="0.12" stroke-width="1"/>
<circle cx="553.98" cy="592.39" r="2.5" fill="#ffffff" fill-opacity="0.82" stroke="#6590c8" stroke-opacity="0.12" stroke-width="1"/>
<circle cx="554.95" cy="593.61" r="2.5" fill="#ffffff" fill-opacity="0.82" stroke="#6590c8" stroke-opacity="0.12" stroke-width="1"/>
<circle cx="555.92" cy="594.84" r="2.5" fill="#ffffff" fill-opacity="0.82" stroke="#6590c8" stroke-opacity="0.12" stroke-width="1"/>
<circle cx="556.89" cy="596.06" r="2.5" fill="#ffffff" fill-opacity="0.82" stroke="#6590c8" stroke-opacity="0.12" stroke-width="1"/>
<circle cx="557.86" cy="597.35" r="2.5" fill="#ffffff" fill-opacity="0.82" stroke="#6590c8" stroke-opacity="0.12" stroke-width="1"/>
<circle cx="558.83" cy="598.81" r="2.5" fill="#ffffff" fill-opacity="0.82" stroke="#6590c8" stroke-opacity="0.12" stroke-width="1"/>
<circle cx="559.81" cy="600.26" r="2.5" fill="#ffffff" fill-opacity="0.82" stroke="#6590c8" stroke-opacity="0.12" stroke-width="1"/>
<circle cx="560.78" cy="601.72" r="2.5" fill="#ffffff" fill-opacity="0.82" stroke="#6590c8" stroke-opacity="0.12" stroke-width="1"/>
<circle cx="561.75" cy="603.17" r="2.5" fill="#ffffff" fill-opacity="0.82" stroke="#6590c8" stroke-opacity="0.12" stroke-width="1"/>
<circle cx="562.72" cy="604.63" r="2.5" fill="#ffffff" fill-opacity="0.82" stroke="#6590c8" stroke-opacity="0.12" stroke-width="1"/>
<circle cx="563.69" cy="606.13" r="2.5" fill="#ffffff" fill-opacity="0.82" stroke="#6590c8" stroke-opacity="0.12" stroke-width="1"/>
<circle cx="564.66" cy="607.77" r="2.5" fill="#ffffff" fill-opacity="0.82" stroke="#6590c8" stroke-opacity="0.12" stroke-width="1"/>
<circle cx="565.64" cy="609.40" r="2.5" fill="#ffffff" fill-opacity="0.82" stroke="#6590c8" stroke-opacity="0.12" stroke-width="1"/>
<circle cx="566.61" cy="611.03" r="2.5" fill="#ffffff" fill-opacity="0.82" stroke="#6590c8" stroke-opacity="0.12" stroke-width="1"/>
<circle cx="567.58" cy="612.66" r="2.5" fill="#ffffff" fill-opacity="0.82" stroke="#6590c8" stroke-opacity="0.12" stroke-width="1"/>
<circle cx="568.55" cy="614.29" r="2.5" fill="#ffffff" fill-opacity="0.82" stroke="#6590c8" stroke-opacity="0.12" stroke-width="1"/>
<circle cx="569.52" cy="615.91" r="2.5" fill="#ffffff" fill-opacity="0.82" stroke="#6590c8" stroke-opacity="0.12" stroke-width="1"/>
<circle cx="570.49" cy="617.52" r="2.5" fill="#ffffff" fill-opacity="0.82" stroke="#6590c8" stroke-opacity="0.12" stroke-width="1"/>
<circle cx="571.47" cy="619.12" r="2.5" fill="#ffffff" fill-opacity="0.82" stroke="#6590c8" stroke-opacity="0.12" stroke-width="1"/>
<circle cx="572.44" cy="620.73" r="2.5" fill="#ffffff" fill-opacity="0.82" stroke="#6590c8" stroke-opacity="0.12" stroke-width="1"/>
<circle cx="573.41" cy="622.33" r="2.5" fill="#ffffff" fill-opacity="0.82" stroke="#6590c8" stroke-opacity="0.12" stroke-width="1"/>
<circle cx="574.38" cy="623.94" r="2.5" fill="#ffffff" fill-opacity="0.82" stroke="#6590c8" stroke-opacity="0.12" stroke-width="1"/>
<circle cx="575.35" cy="625.49" r="2.5" fill="#ffffff" fill-opacity="0.82" stroke="#6590c8" stroke-opacity="0.12" stroke-width="1"/>
<circle cx="576.32" cy="626.95" r="2.5" fill="#ffffff" fill-opacity="0.82" stroke="#6590c8" stroke-opacity="0.12" stroke-width="1"/>
<circle cx="577.30" cy="628.40" r="2.5" fill="#ffffff" fill-opacity="0.82" stroke="#6590c8" stroke-opacity="0.12" stroke-width="1"/>
<circle cx="578.27" cy="629.86" r="2.5" fill="#ffffff" fill-opacity="0.82" stroke="#6590c8" stroke-opacity="0.12" stroke-width="1"/>
<circle cx="579.24" cy="631.31" r="2.5" fill="#ffffff" fill-opacity="0.82" stroke="#6590c8" stroke-opacity="0.12" stroke-width="1"/>
<circle cx="580.21" cy="632.77" r="2.5" fill="#ffffff" fill-opacity="0.82" stroke="#6590c8" stroke-opacity="0.12" stroke-width="1"/>
<circle cx="581.18" cy="634.16" r="2.5" fill="#ffffff" fill-opacity="0.82" stroke="#6590c8" stroke-opacity="0.12" stroke-width="1"/>
<circle cx="582.15" cy="635.47" r="2.5" fill="#ffffff" fill-opacity="0.82" stroke="#6590c8" stroke-opacity="0.12" stroke-width="1"/>
<circle cx="583.13" cy="636.77" r="2.5" fill="#ffffff" fill-opacity="0.82" stroke="#6590c8" stroke-opacity="0.12" stroke-width="1"/>
<circle cx="584.10" cy="638.08" r="2.5" fill="#ffffff" fill-opacity="0.82" stroke="#6590c8" stroke-opacity="0.12" stroke-width="1"/>
<circle cx="585.07" cy="639.38" r="2.5" fill="#ffffff" fill-opacity="0.82" stroke="#6590c8" stroke-opacity="0.12" stroke-width="1"/>
<circle cx="586.04" cy="640.68" r="2.5" fill="#ffffff" fill-opacity="0.82" stroke="#6590c8" stroke-opacity="0.12" stroke-width="1"/>
<circle cx="587.01" cy="641.89" r="2.5" fill="#ffffff" fill-opacity="0.82" stroke="#6590c8" stroke-opacity="0.12" stroke-width="1"/>
<circle cx="587.98" cy="642.98" r="2.5" fill="#ffffff" fill-opacity="0.82" stroke="#6590c8" stroke-opacity="0.12" stroke-width="1"/>
<circle cx="588.96" cy="644.06" r="2.5" fill="#ffffff" fill-opacity="0.82" stroke="#6590c8" stroke-opacity="0.12" stroke-width="1"/>
<circle cx="589.93" cy="645.14" r="2.5" fill="#ffffff" fill-opacity="0.82" stroke="#6590c8" stroke-opacity="0.12" stroke-width="1"/>
<circle cx="590.90" cy="646.23" r="2.5" fill="#5f8fc8" fill-opacity="0.88" stroke="#5f8fc8" stroke-opacity="0.9" stroke-width="0.8"/>
<polyline fill="none" stroke="#5060b0" stroke-opacity="0.075" stroke-width="3.6" stroke-linejoin="round" stroke-linecap="round" points="38.00,662.10 38.97,662.10 39.94,662.10 40.92,662.10 41.89,662.10 42.86,662.10 43.83,662.10 44.80,662.10 45.77,662.10 46.75,662.10 47.72,662.10 48.69,662.10 49.66,662.06 50.63,661.95 51.60,661.77 52.58,661.42 53.55,660.97 54.52,660.32 55.49,659.49 56.46,658.47 57.43,657.34 58.41,656.08 59.38,654.82 60.35,653.20 61.32,650.94 62.29,648.69 63.26,646.33 64.24,643.80 65.21,641.30 66.18,638.85 67.15,636.62 68.12,634.63 69.09,633.01 70.07,631.75 71.04,630.50 72.01,630.02 72.98,630.24 73.95,631.03 74.92,632.49 75.90,633.94 76.87,635.66 77.84,637.65 78.81,639.25 79.78,640.50 80.76,641.76 81.73,643.01 82.70,644.26 83.67,645.50 84.64,646.46 85.61,647.26 86.59,648.06 87.56,648.86 88.53,649.41 89.50,649.75 90.47,650.10 91.44,650.44 92.42,650.85 93.39,651.30 94.36,651.75 95.33,652.20 96.30,652.67 97.27,653.15 98.25,653.64 99.22,654.12 100.19,654.61 101.16,655.11 102.13,655.61 103.10,656.11 104.08,656.70 105.05,657.34 106.02,657.97 106.99,658.60 107.96,659.13 108.93,659.60 109.91,660.07 110.88,660.54 111.85,660.67 112.82,660.74 113.79,660.81 114.76,660.88 115.74,660.96 116.71,661.03 117.68,661.06 118.65,661.08 119.62,661.09 120.59,661.11 121.57,661.12 122.54,661.14 123.51,661.15 124.48,661.17 125.45,661.18 126.43,661.20 127.40,661.21 128.37,661.21 129.34,661.22 130.31,661.23 131.28,661.23 132.26,661.24 133.23,661.24 134.20,661.25 135.17,661.26 136.14,661.26 137.11,661.27 138.09,661.28 139.06,661.28 140.03,661.29 141.00,661.29 141.97,661.30 142.94,661.31 143.92,661.31 144.89,661.32 145.86,661.33 146.83,661.33 147.80,661.34 148.77,661.34 149.75,661.35 150.72,661.35 151.69,661.35 152.66,661.35 153.63,661.35 154.60,661.35 155.58,661.35 156.55,661.35 157.52,661.35 158.49,661.35 159.46,661.35 160.43,661.35 161.41,661.35 162.38,661.35 163.35,661.35 164.32,661.35 165.29,661.35 166.27,661.35 167.24,661.35 168.21,661.35 169.18,661.35 170.15,661.34 171.12,661.33 172.10,661.31 173.07,661.30 174.04,661.28 175.01,661.27 175.98,661.26 176.95,661.24 177.93,661.23 178.90,661.22 179.87,661.20 180.84,661.10 181.81,660.98 182.78,660.85 183.76,660.73 184.73,660.61 185.70,660.18 186.67,659.72 187.64,659.26 188.61,658.80 189.59,658.31 190.56,657.83 191.53,657.34 192.50,656.86 193.47,656.28 194.44,655.71 195.42,655.13 196.39,654.55 197.36,653.93 198.33,652.63 199.30,651.32 200.27,650.07 201.25,649.36 202.22,648.66 203.19,647.96 204.16,647.26 205.13,646.55 206.10,645.83 207.08,644.90 208.05,643.97 209.02,643.04 209.99,642.11 210.96,641.19 211.94,640.25 212.91,639.30 213.88,638.35 214.85,637.39 215.82,636.44 216.79,635.49 217.77,634.50 218.74,633.37 219.71,632.25 220.68,631.12 221.65,629.99 222.62,628.86 223.60,627.69 224.57,626.39 225.54,625.09 226.51,623.85 227.48,622.84 228.45,621.84 229.43,621.07 230.40,621.07 231.37,621.07 232.34,621.41 233.31,622.38 234.28,623.35 235.26,624.45 236.23,625.90 237.20,627.36 238.17,628.81 239.14,630.32 240.11,632.00 241.09,633.68 242.06,635.36 243.03,636.93 244.00,638.16 244.97,639.38 245.94,640.61 246.92,641.67 247.89,642.37 248.86,643.08 249.83,643.79 250.80,644.40 251.78,644.80 252.75,645.19 253.72,645.59 254.69,645.98 255.66,646.15 256.63,645.95 257.61,645.75 258.58,645.47 259.55,645.07 260.52,644.26 261.49,643.11 262.46,641.95 263.44,640.19 264.41,637.93 265.38,635.67 266.35,632.85 267.32,629.59 268.29,626.32 269.27,623.47 270.24,620.91 271.21,618.35 272.18,615.95 273.15,613.64 274.12,611.33 275.10,609.05 276.07,606.79 277.04,604.54 278.01,602.69 278.98,601.08 279.95,599.48 280.93,597.64 281.90,595.69 282.87,593.73 283.84,591.97 284.81,590.30 285.78,588.64 286.76,587.29 287.73,586.03 288.70,584.77 289.67,583.72 290.64,582.77 291.61,581.81 292.59,581.00 293.56,580.24 294.53,579.86 295.50,581.88 296.47,583.91 297.45,587.02 298.42,590.47 299.39,593.83 300.36,597.18 301.33,599.93 302.30,602.49 303.28,605.05 304.25,607.38 305.22,609.64 306.19,611.90 307.16,613.41 308.13,614.71 309.11,616.02 310.08,617.09 311.05,618.12 312.02,619.14 312.99,620.16 313.96,621.11 314.94,622.05 315.91,623.00 316.88,623.95 317.85,625.34 318.82,626.79 319.79,628.25 320.77,629.70 321.74,630.99 322.71,632.24 323.68,633.49 324.65,634.53 325.62,635.53 326.60,636.54 327.57,637.09 328.54,637.58 329.51,638.08 330.48,638.58 331.45,638.59 332.43,638.59 333.40,638.59 334.37,638.59 335.34,637.62 336.31,636.61 337.29,635.61 338.26,634.01 339.23,632.41 340.20,630.80 341.17,628.78 342.14,626.75 343.12,624.78 344.09,623.23 345.06,621.67 346.03,620.12 347.00,618.51 347.97,616.91 348.95,615.30 349.92,613.64 350.89,611.99 351.86,610.34 352.83,608.73 353.80,607.12 354.78,605.55 355.75,604.40 356.72,603.25 357.69,602.18 358.66,601.93 359.63,601.67 360.61,601.46 361.58,601.56 362.55,601.66 363.52,601.83 364.49,602.48 365.46,603.14 366.44,603.91 367.41,605.41 368.38,606.92 369.35,608.52 370.32,610.65 371.29,612.78 372.27,614.85 373.24,616.74 374.21,618.63 375.18,620.50 376.15,622.25 377.12,624.01 378.10,625.75 379.07,627.40 380.04,629.05 381.01,630.70 381.98,632.08 382.96,633.05 383.93,634.02 384.90,634.99 385.87,635.89 386.84,636.65 387.81,637.42 388.79,638.18 389.76,638.92 390.73,639.63 391.70,640.34 392.67,641.05 393.64,641.73 394.62,642.38 395.59,643.03 396.56,643.68 397.53,644.25 398.50,644.73 399.47,645.22 400.45,645.70 401.42,646.03 402.39,646.21 403.36,646.40 404.33,646.59 405.30,646.76 406.28,646.91 407.25,647.06 408.22,647.21 409.19,647.27 410.16,647.27 411.13,647.27 412.11,647.27 413.08,647.19 414.05,647.04 415.02,646.89 415.99,646.74 416.96,646.48 417.94,646.13 418.91,645.79 419.88,645.44 420.85,644.99 421.82,644.50 422.80,644.00 423.77,643.50 424.74,643.02 425.71,642.55 426.68,642.08 427.65,641.60 428.63,641.02 429.60,640.36 430.57,639.71 431.54,639.06 432.51,638.29 433.48,637.47 434.46,636.65 435.43,635.82 436.40,634.91 437.37,633.96 438.34,633.00 439.31,631.79 440.29,630.49 441.26,629.18 442.23,628.14 443.20,627.19 444.17,626.23 445.14,625.51 446.12,624.86 447.09,624.21 448.06,623.79 449.03,623.44 450.00,623.09 450.97,623.14 451.95,623.30 452.92,623.45 453.89,624.22 454.86,625.04 455.83,625.87 456.80,627.09 457.78,628.40 458.75,629.70 459.72,631.26 460.69,632.86 461.66,634.47 462.63,635.82 463.61,637.12 464.58,638.43 465.55,639.69 466.52,640.94 467.49,642.20 468.47,643.49 469.44,644.80 470.41,646.10 471.38,646.68 472.35,647.18 473.32,647.67 474.30,648.17 475.27,648.35 476.24,648.53 477.21,648.71 478.18,648.89 479.15,649.07 480.13,649.23 481.10,649.30 482.07,649.38 483.04,649.45 484.01,649.52 484.98,649.59 485.96,649.67 486.93,649.77 487.90,649.88 488.87,649.99 489.84,650.10 490.81,650.31 491.79,650.53 492.76,650.76 493.73,650.98 494.70,651.24 495.67,651.51 496.64,651.78 497.62,652.04 498.59,651.20 499.56,650.24 500.53,649.29 501.50,648.01 502.47,646.70 503.45,645.40 504.42,643.06 505.39,640.66 506.36,637.81 507.33,634.90 508.31,631.91 509.28,628.93 510.25,626.09 511.22,623.25 512.19,620.34 513.16,617.43 514.14,613.75 515.11,610.03 516.08,606.32 517.05,602.63 518.02,599.36 518.99,596.08 519.97,593.09 520.94,590.11 521.91,587.27 522.88,584.44 523.85,582.09 524.82,579.75 525.80,577.45 526.77,575.49 527.74,573.53 528.71,571.58 529.68,569.68 530.65,567.77 531.63,565.80 532.60,563.40 533.57,560.99 534.54,558.54 535.51,556.28 536.48,555.46 537.46,555.68 538.43,557.07 539.40,558.53 540.37,560.52 541.34,562.60 542.31,565.18 543.29,567.70 544.26,570.02 545.23,572.44 546.20,575.14 547.17,578.52 548.14,581.83 549.12,583.78 550.09,585.74 551.06,587.64 552.03,589.24 553.00,590.85 553.98,592.39 554.95,593.61 555.92,594.84 556.89,596.06 557.86,597.35 558.83,598.81 559.81,600.26 560.78,601.72 561.75,603.17 562.72,604.63 563.69,606.13 564.66,607.77 565.64,609.40 566.61,611.03 567.58,612.66 568.55,614.29 569.52,615.91 570.49,617.52 571.47,619.12 572.44,620.73 573.41,622.33 574.38,623.94 575.35,625.49 576.32,626.95 577.30,628.40 578.27,629.86 579.24,631.31 580.21,632.77 581.18,634.16 582.15,635.47 583.13,636.77 584.10,638.08 585.07,639.38 586.04,640.68 587.01,641.89 587.98,642.98 588.96,644.06 589.93,645.14 590.90,646.23"/>
<text transform="translate(43.60,677.20) rotate(-59.5)" font-size="9.3" fill="#727272" text-anchor="end">1/3/2020</text>
<text transform="translate(73.61,677.20) rotate(-59.5)" font-size="9.3" fill="#727272" text-anchor="end">1/4/2020</text>
<text transform="translate(102.65,677.20) rotate(-59.5)" font-size="9.3" fill="#727272" text-anchor="end">1/5/2020</text>
<text transform="translate(132.66,677.20) rotate(-59.5)" font-size="9.3" fill="#727272" text-anchor="end">1/6/2020</text>
<text transform="translate(161.70,677.20) rotate(-59.5)" font-size="9.3" fill="#727272" text-anchor="end">1/7/2020</text>
<text transform="translate(191.70,677.20) rotate(-59.5)" font-size="9.3" fill="#727272" text-anchor="end">1/8/2020</text>
<text transform="translate(221.71,677.20) rotate(-59.5)" font-size="9.3" fill="#727272" text-anchor="end">1/9/2020</text>
<text transform="translate(250.75,677.20) rotate(-59.5)" font-size="9.3" fill="#727272" text-anchor="end">1/10/2020</text>
<text transform="translate(280.76,677.20) rotate(-59.5)" font-size="9.3" fill="#727272" text-anchor="end">1/11/2020</text>
<text transform="translate(309.80,677.20) rotate(-59.5)" font-size="9.3" fill="#727272" text-anchor="end">1/12/2020</text>
<text transform="translate(339.81,677.20) rotate(-59.5)" font-size="9.3" fill="#727272" text-anchor="end">1/1/2021</text>
<text transform="translate(369.82,677.20) rotate(-59.5)" font-size="9.3" fill="#727272" text-anchor="end">1/2/2021</text>
<text transform="translate(396.92,677.20) rotate(-59.5)" font-size="9.3" fill="#727272" text-anchor="end">1/3/2021</text>
<text transform="translate(426.93,677.20) rotate(-59.5)" font-size="9.3" fill="#727272" text-anchor="end">1/4/2021</text>
<text transform="translate(455.97,677.20) rotate(-59.5)" font-size="9.3" fill="#727272" text-anchor="end">1/5/2021</text>
<text transform="translate(485.98,677.20) rotate(-59.5)" font-size="9.3" fill="#727272" text-anchor="end">1/6/2021</text>
<text transform="translate(515.02,677.20) rotate(-59.5)" font-size="9.3" fill="#727272" text-anchor="end">1/7/2021</text>
<text transform="translate(545.02,677.20) rotate(-59.5)" font-size="9.3" fill="#727272" text-anchor="end">1/8/2021</text>
<text transform="translate(575.03,677.20) rotate(-59.5)" font-size="9.3" fill="#727272" text-anchor="end">1/9/2021</text>
<defs><filter id="sh" x="-20%" y="-20%" width="140%" height="140%"><feGaussianBlur stdDeviation="1.6"/></filter></defs>
<rect x="550" y="590.5" width="60" height="46.5" rx="5" ry="5" fill="#000000" fill-opacity="0.16" filter="url(#sh)"/>
<rect x="550" y="590" width="60" height="46.5" rx="5" ry="5" fill="#ffffff" fill-opacity="0.92" stroke="#e4e4e4" stroke-width="1"/>
<text x="580" y="609.2" font-size="9.5" font-weight="bold" fill="#4a4a4a" text-anchor="middle">21/9/2021</text>
<text x="580" y="626.2" font-size="9.5" fill="#6a9ad0" text-anchor="middle">IA 14d: 106</text>
</svg></body></html>
